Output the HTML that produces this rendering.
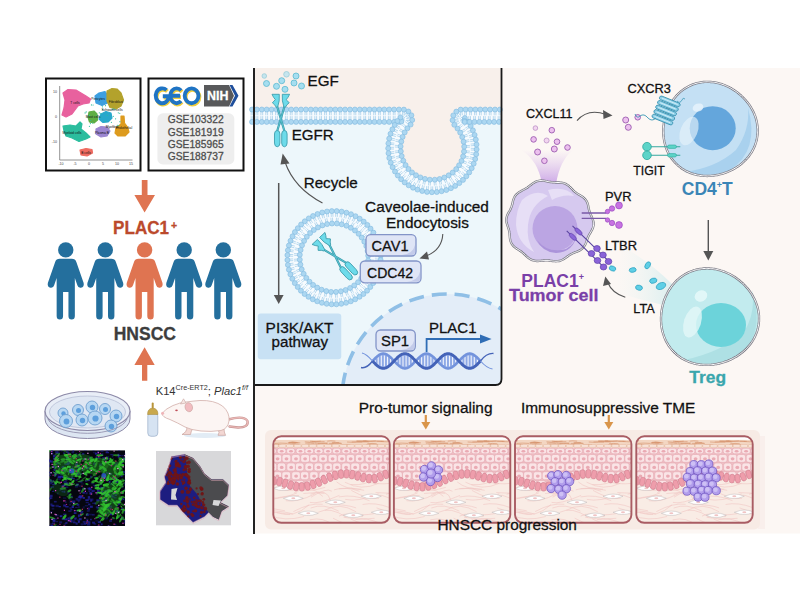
<!DOCTYPE html><html><head><meta charset="utf-8"><style>html,body{margin:0;padding:0;width:800px;height:600px;overflow:hidden;background:#fff}svg{display:block}text{font-family:"Liberation Sans",sans-serif}</style></head><body>
<svg width="800" height="600" viewBox="0 0 800 600">
<rect x="255" y="68" width="545" height="465.5" fill="#fcf7f4"/>
<path d="M255,68 H501.5 V379 Q501.5,385 495.5,385 H255 Z" fill="#edf7fb"/>
<rect x="46" y="78.5" width="94.5" height="92" fill="#fff" stroke="#111" stroke-width="2"/>
<path d="M59.7,86 V160 H132.5" fill="none" stroke="#777" stroke-width="0.8"/>
<text x="57" y="92.89999999999999" font-size="3.6" fill="#444" font-weight="normal" text-anchor="end" font-style="normal" >10</text>
<text x="57" y="117.8" font-size="3.6" fill="#444" font-weight="normal" text-anchor="end" font-style="normal" >0</text>
<text x="57" y="142.8" font-size="3.6" fill="#444" font-weight="normal" text-anchor="end" font-style="normal" >-10</text>
<text x="61" y="164.8" font-size="3.6" fill="#444" font-weight="normal" text-anchor="middle" font-style="normal" >-10</text>
<text x="75" y="164.8" font-size="3.6" fill="#444" font-weight="normal" text-anchor="middle" font-style="normal" >-5</text>
<text x="89" y="164.8" font-size="3.6" fill="#444" font-weight="normal" text-anchor="middle" font-style="normal" >0</text>
<text x="103" y="164.8" font-size="3.6" fill="#444" font-weight="normal" text-anchor="middle" font-style="normal" >5</text>
<text x="117" y="164.8" font-size="3.6" fill="#444" font-weight="normal" text-anchor="middle" font-style="normal" >10</text>
<text x="131" y="164.8" font-size="3.6" fill="#444" font-weight="normal" text-anchor="middle" font-style="normal" >15</text>
<path d="M63,93 68,89.5 76,90 81,93 86,96 90.5,99 89,103 83,104 78,106 75,110 72,114 66,117 62,115 64,108 65,100Z" fill="#e8619e" stroke="#e8619e" stroke-width="1.2" stroke-linejoin="round"/>
<path d="M95,96 99,93 105,91.5 108.5,96 107.5,103 102,105.5 96,103Z" fill="#3d9fe0" stroke="#3d9fe0" stroke-width="1.2" stroke-linejoin="round"/>
<path d="M107,91 112,88.5 117,89 121,93 123.5,100 121,106 116,109 110,107.5 107,101Z" fill="#b3a22c" stroke="#b3a22c" stroke-width="1.2" stroke-linejoin="round"/>
<path d="M89,112 94,111 97,114 97.5,120 94,123 89.5,122 88,117Z" fill="#5fae44" stroke="#5fae44" stroke-width="1.2" stroke-linejoin="round"/>
<path d="M101,114 106,111.5 111,113 112,118 108,122 103,122.5 99,119Z" fill="#28a8cc" stroke="#28a8cc" stroke-width="1.2" stroke-linejoin="round"/>
<path d="M63,126 70,125 76,126 80,122 82,124 81,129 86,133 90,137 86,139 79,141.5 72,138 66,136 64,131Z" fill="#2bbd9e" stroke="#2bbd9e" stroke-width="1.2" stroke-linejoin="round"/>
<path d="M96,129 101,126.5 107,127 110,131 107,136 101,137 96,134Z" fill="#9b86d1" stroke="#9b86d1" stroke-width="1.2" stroke-linejoin="round"/>
<path d="M121,116 124,116 124.5,123 127.5,127 129,132 125,136 118,136 115,133 116,128 121,124Z" fill="#dd9b1e" stroke="#dd9b1e" stroke-width="1.2" stroke-linejoin="round"/>
<path d="M80,150 86,148.5 92,149.5 92.5,153 87,156 81,155Z" fill="#ef6b60" stroke="#ef6b60" stroke-width="1.2" stroke-linejoin="round"/>
<g fill="#2bbd9e"><circle cx="90.8" cy="120.6" r="0.6"/><circle cx="107.2" cy="115.5" r="0.6"/><circle cx="92.6" cy="123.0" r="0.6"/><circle cx="113.3" cy="116.3" r="0.6"/><circle cx="102.7" cy="109.7" r="0.6"/><circle cx="85.1" cy="112.9" r="0.6"/><circle cx="105.5" cy="105.7" r="0.6"/><circle cx="112.8" cy="109.6" r="0.6"/><circle cx="93.1" cy="105.0" r="0.6"/><circle cx="119.9" cy="121.7" r="0.6"/><circle cx="115.6" cy="118.8" r="0.6"/><circle cx="86.2" cy="111.9" r="0.6"/><circle cx="102.4" cy="106.8" r="0.6"/><circle cx="118.3" cy="112.8" r="0.6"/><circle cx="90.4" cy="123.6" r="0.6"/><circle cx="89.4" cy="126.3" r="0.6"/><circle cx="100.9" cy="117.2" r="0.6"/><circle cx="97.0" cy="115.6" r="0.6"/><circle cx="91.5" cy="104.9" r="0.6"/><circle cx="115.3" cy="109.6" r="0.6"/><circle cx="112.3" cy="109.0" r="0.6"/><circle cx="118.9" cy="125.5" r="0.6"/><circle cx="111.4" cy="122.3" r="0.6"/><circle cx="105.3" cy="121.5" r="0.6"/><circle cx="89.3" cy="115.4" r="0.6"/><circle cx="113.9" cy="108.8" r="0.6"/><circle cx="117.3" cy="125.3" r="0.6"/><circle cx="99.3" cy="112.8" r="0.6"/><circle cx="100.8" cy="113.3" r="0.6"/><circle cx="119.8" cy="113.3" r="0.6"/></g>
<text x="75" y="104" font-size="3.3" fill="#111" font-weight="normal" text-anchor="middle" font-style="normal" >T cells</text>
<text x="98" y="100" font-size="3.3" fill="#111" font-weight="normal" text-anchor="middle" font-style="normal" >Pericytes</text>
<text x="116" y="103" font-size="3.3" fill="#111" font-weight="normal" text-anchor="middle" font-style="normal" >Fibroblast</text>
<text x="112" y="111" font-size="3.3" fill="#111" font-weight="normal" text-anchor="middle" font-style="normal" >Schwann cells</text>
<text x="93" y="118" font-size="3.3" fill="#111" font-weight="normal" text-anchor="middle" font-style="normal" >Mast cells</text>
<text x="72" y="134" font-size="3.3" fill="#111" font-weight="normal" text-anchor="middle" font-style="normal" >Myeloid cells</text>
<text x="102" y="134" font-size="3.3" fill="#111" font-weight="normal" text-anchor="middle" font-style="normal" >Plasma B</text>
<text x="112" y="128" font-size="3.3" fill="#111" font-weight="normal" text-anchor="middle" font-style="normal" >Myofibro</text>
<text x="124" y="129" font-size="3.3" fill="#111" font-weight="normal" text-anchor="middle" font-style="normal" >Endothelial</text>
<text x="86" y="154" font-size="3.3" fill="#111" font-weight="normal" text-anchor="middle" font-style="normal" >B cells</text>
<rect x="148.5" y="78.5" width="95" height="92" fill="#fff" stroke="#111" stroke-width="2"/>
<path d="M167.44,91.43 A6.6,7.4 0 1 0 169.74,98.13 M170.10,97.50 H163.70 M181.95,91.87 A6.3,7.4 0 1 0 181.95,102.33 M171.20,97.10 H181.00 M185.60,97.10 A6.9,7.4 0 1 0 199.40,97.10 A6.9,7.4 0 1 0 185.60,97.10" fill="none" stroke="#f2cf3e" stroke-width="3.9"/>
<path d="M166.54,90.13 A6.6,7.4 0 1 0 168.84,96.83 M169.20,96.20 H162.80 M181.05,90.57 A6.3,7.4 0 1 0 181.05,101.03 M170.30,95.80 H180.10 M184.70,95.80 A6.9,7.4 0 1 0 198.50,95.80 A6.9,7.4 0 1 0 184.70,95.80" fill="none" stroke="#1f74c4" stroke-width="3.9"/>
<path d="M204,85 H229 L234,95.7 L229,106.4 H204 Z" fill="#58595b"/>
<path d="M229.5,85 H232.5 L238.5,95.7 L232.5,106.4 H229.5 L235,95.7 Z" fill="#1f4f9c"/>
<text x="207" y="100.2" font-size="13.2" fill="#fff" font-weight="bold" text-anchor="start" font-style="normal" stroke="#fff" stroke-width="0.28" textLength="21.4" lengthAdjust="spacingAndGlyphs">NIH</text>
<rect x="157.4" y="113.3" width="76.9" height="51.1" rx="5.5" fill="#eeeeee"/>
<text x="167.8" y="123.2" font-size="10.2" fill="#4d4d4d" font-weight="normal" text-anchor="start" font-style="normal" stroke="#4d4d4d" stroke-width="0.28" textLength="55.8" lengthAdjust="spacingAndGlyphs">GSE103322</text>
<text x="167.8" y="135.55" font-size="10.2" fill="#4d4d4d" font-weight="normal" text-anchor="start" font-style="normal" stroke="#4d4d4d" stroke-width="0.28" textLength="55.8" lengthAdjust="spacingAndGlyphs">GSE181919</text>
<text x="167.8" y="147.9" font-size="10.2" fill="#4d4d4d" font-weight="normal" text-anchor="start" font-style="normal" stroke="#4d4d4d" stroke-width="0.28" textLength="55.8" lengthAdjust="spacingAndGlyphs">GSE185965</text>
<text x="167.8" y="160.25" font-size="10.2" fill="#4d4d4d" font-weight="normal" text-anchor="start" font-style="normal" stroke="#4d4d4d" stroke-width="0.28" textLength="55.8" lengthAdjust="spacingAndGlyphs">GSE188737</text>
<path d="M141.8,180 H147.5 V195 H155 L144.6,212.5 L134.4,195 H141.8 Z" fill="#df7451"/>
<text x="113.1" y="233.9" font-size="17.5" fill="#bb4a2c" font-weight="bold" text-anchor="start" font-style="normal" stroke="#bb4a2c" stroke-width="0.28" textLength="55.9" lengthAdjust="spacingAndGlyphs">PLAC1</text>
<text x="170.9" y="228.8" font-size="10.5" fill="#bb4a2c" font-weight="bold" text-anchor="start" font-style="normal" stroke="#bb4a2c" stroke-width="0.28" >+</text>
<path d="M59.75,258.7 H71.75 Q75.35,258.7 76.35,262 L83.65,283 Q84.45,287.2 80.95,287.8 Q78.35,288.3 77.35,285.2 L74.85,278 V316 Q74.85,319.5 71.65,319.5 Q68.45,319.5 68.45,316 V292 H63.05 V316 Q63.05,319.5 59.85,319.5 Q56.65,319.5 56.65,316 V278 L54.15,285.2 Q53.15,288.3 50.55,287.8 Q47.05,287.2 47.85,283 L55.15,262 Q56.15,258.7 59.75,258.7 Z" fill="#246f9d"/>
<circle cx="65.75" cy="249.9" r="7.7" fill="#246f9d"/>
<path d="M99.3,258.7 H111.3 Q114.89999999999999,258.7 115.89999999999999,262 L123.19999999999999,283 Q124.0,287.2 120.5,287.8 Q117.89999999999999,288.3 116.89999999999999,285.2 L114.39999999999999,278 V316 Q114.39999999999999,319.5 111.2,319.5 Q108.0,319.5 108.0,316 V292 H102.6 V316 Q102.6,319.5 99.39999999999999,319.5 Q96.2,319.5 96.2,316 V278 L93.7,285.2 Q92.7,288.3 90.1,287.8 Q86.6,287.2 87.4,283 L94.7,262 Q95.7,258.7 99.3,258.7 Z" fill="#246f9d"/>
<circle cx="105.3" cy="249.9" r="7.7" fill="#246f9d"/>
<path d="M138.6,258.7 H150.6 Q154.2,258.7 155.2,262 L162.5,283 Q163.29999999999998,287.2 159.79999999999998,287.8 Q157.2,288.3 156.2,285.2 L153.7,278 V316 Q153.7,319.5 150.5,319.5 Q147.29999999999998,319.5 147.29999999999998,316 V292 H141.9 V316 Q141.9,319.5 138.7,319.5 Q135.5,319.5 135.5,316 V278 L133.0,285.2 Q132.0,288.3 129.4,287.8 Q125.89999999999999,287.2 126.69999999999999,283 L134.0,262 Q135.0,258.7 138.6,258.7 Z" fill="#df7451"/>
<circle cx="144.6" cy="249.9" r="7.7" fill="#df7451"/>
<path d="M178.2,258.7 H190.2 Q193.79999999999998,258.7 194.79999999999998,262 L202.1,283 Q202.89999999999998,287.2 199.39999999999998,287.8 Q196.79999999999998,288.3 195.79999999999998,285.2 L193.29999999999998,278 V316 Q193.29999999999998,319.5 190.1,319.5 Q186.89999999999998,319.5 186.89999999999998,316 V292 H181.5 V316 Q181.5,319.5 178.29999999999998,319.5 Q175.1,319.5 175.1,316 V278 L172.6,285.2 Q171.6,288.3 169.0,287.8 Q165.5,287.2 166.29999999999998,283 L173.6,262 Q174.6,258.7 178.2,258.7 Z" fill="#246f9d"/>
<circle cx="184.2" cy="249.9" r="7.7" fill="#246f9d"/>
<path d="M217.3,258.7 H229.3 Q232.9,258.7 233.9,262 L241.20000000000002,283 Q242.0,287.2 238.5,287.8 Q235.9,288.3 234.9,285.2 L232.4,278 V316 Q232.4,319.5 229.20000000000002,319.5 Q226.0,319.5 226.0,316 V292 H220.60000000000002 V316 Q220.60000000000002,319.5 217.4,319.5 Q214.20000000000002,319.5 214.20000000000002,316 V278 L211.70000000000002,285.2 Q210.70000000000002,288.3 208.10000000000002,287.8 Q204.60000000000002,287.2 205.4,283 L212.70000000000002,262 Q213.70000000000002,258.7 217.3,258.7 Z" fill="#246f9d"/>
<circle cx="223.3" cy="249.9" r="7.7" fill="#246f9d"/>
<text x="113.7" y="340" font-size="17.5" fill="#3d3d3d" font-weight="bold" text-anchor="start" font-style="normal" stroke="#3d3d3d" stroke-width="0.28" textLength="62.3" lengthAdjust="spacingAndGlyphs">HNSCC</text>
<path d="M142,380.7 H147.3 V365 H154.7 L144.6,347.3 L134.4,365 H142 Z" fill="#df7451"/>
<text x="155.7" y="394.5" font-size="11.2" fill="#333">K14<tspan font-size="7.2" dy="-5">Cre-ERT2</tspan><tspan dy="5">; </tspan><tspan font-style="italic">Plac1</tspan><tspan font-size="7.2" dy="-5" font-style="italic">f/f</tspan></text>
<g><path d="M45,411 V419 A42.5,19.5 0 0 0 130,419 V411" fill="#dde6f2" stroke="#8d8aa8" stroke-width="1"/><ellipse cx="87.5" cy="411" rx="42.5" ry="19.5" fill="#e9eef7" stroke="#8d8aa8" stroke-width="1.2"/><ellipse cx="87.5" cy="412" rx="38" ry="16" fill="#dfe7f3" stroke="#b8bfd6" stroke-width="0.8"/></g>
<circle cx="63" cy="413" r="5" fill="#b7d7f2" stroke="#6f9fcf" stroke-width="0.9"/><circle cx="63.5" cy="413.5" r="2.2" fill="#5d9fdc"/>
<circle cx="66" cy="421" r="6.5" fill="#b7d7f2" stroke="#6f9fcf" stroke-width="0.9"/><circle cx="66.5" cy="421.5" r="2.9" fill="#5d9fdc"/>
<circle cx="78" cy="410" r="5.5" fill="#b7d7f2" stroke="#6f9fcf" stroke-width="0.9"/><circle cx="78.5" cy="410.5" r="2.5" fill="#5d9fdc"/>
<circle cx="92" cy="407" r="6" fill="#b7d7f2" stroke="#6f9fcf" stroke-width="0.9"/><circle cx="92.5" cy="407.5" r="2.7" fill="#5d9fdc"/>
<circle cx="105" cy="409" r="5.5" fill="#b7d7f2" stroke="#6f9fcf" stroke-width="0.9"/><circle cx="105.5" cy="409.5" r="2.5" fill="#5d9fdc"/>
<circle cx="82" cy="420" r="6" fill="#b7d7f2" stroke="#6f9fcf" stroke-width="0.9"/><circle cx="82.5" cy="420.5" r="2.7" fill="#5d9fdc"/>
<circle cx="95" cy="418" r="7" fill="#b7d7f2" stroke="#6f9fcf" stroke-width="0.9"/><circle cx="95.5" cy="418.5" r="3.1" fill="#5d9fdc"/>
<circle cx="116" cy="416" r="6" fill="#b7d7f2" stroke="#6f9fcf" stroke-width="0.9"/><circle cx="116.5" cy="416.5" r="2.7" fill="#5d9fdc"/>
<circle cx="111" cy="426" r="6" fill="#b7d7f2" stroke="#6f9fcf" stroke-width="0.9"/><circle cx="111.5" cy="426.5" r="2.7" fill="#5d9fdc"/>
<path d="M48,419 A40,17 0 0 0 127,419" fill="none" stroke="#8d8aa8" stroke-width="0.8"/>
<path d="M147.8,416 Q147.8,413.5 150,413.5 H155.5 Q157.8,413.5 157.8,416 V433 Q157.8,436.3 154.5,436.3 H151 Q147.8,436.3 147.8,433 Z" fill="#d6e3f2" stroke="#9aadc9" stroke-width="0.7"/><path d="M147.5,414.5 Q147.5,408.5 152.7,408 Q158,408.5 158,414.5 Z" fill="#c9a84c" stroke="#a38536" stroke-width="0.5"/><rect x="151.7" y="402.5" width="2" height="6" rx="1" fill="#b8943a"/>
<path d="M228,419.5 Q244,415 247.5,421 Q249,427.5 238,427.5 L229.5,426.5" fill="none" stroke="#c99593" stroke-width="2.4" stroke-linecap="round"/>
<path d="M228,419.5 Q244,415 247.5,421 Q249,427.5 238,427.5 L229.5,426.5" fill="none" stroke="#ebbab8" stroke-width="1.2" stroke-linecap="round"/>
<ellipse cx="205" cy="435.5" rx="21" ry="2.6" fill="#e2ecf5"/>
<path d="M187,427 Q187,432 182,434.5 H190.5 Q191,431 193,428 M218,429 Q220,433 218,435.3 H225.5 Q224,432 224,429" fill="#f3d7d3" stroke="#c9a39e" stroke-width="0.7"/>
<path d="M162,413.5 Q165,409 173,405.5 Q180,402.5 186,402 Q193,401 200,400.5 Q214,400 222.5,406 Q230,412.5 229,421 Q228,428.5 221,430.5 Q211,432 201,431 Q191,430 185,427 Q178,423 170,419.5 Q162,417 162,413.5 Z" fill="#fcf5f3" stroke="#cfa9a4" stroke-width="0.75"/>
<path d="M180.5,404 L183.5,398.8 L186,403 Z" fill="#f6e6e3" stroke="#c9a49f" stroke-width="0.6"/>
<ellipse cx="188.8" cy="407.2" rx="3.7" ry="4.6" transform="rotate(-15 188.8 407.2)" fill="#f2bcc0" stroke="#c9a49f" stroke-width="0.6"/>
<ellipse cx="176.5" cy="410.3" rx="1.3" ry="0.9" fill="#c0505a"/>
<circle cx="162.6" cy="413.2" r="1.5" fill="#f0b4b8"/>
<defs><clipPath id="flclip"><rect x="49.2" y="450.2" width="75.9" height="75.9"/></clipPath><clipPath id="spclip"><path d="M171.5,456.5 L184.4,454.3 L193,457.9 L200.2,466.5 L204.5,473.7 L211.6,479.4 L223,479.4 L228.8,485.1 L227.4,495.2 L220.2,502.3 L228.8,506.6 L221.7,510.9 L218.8,519.5 L213,516.7 L208.8,512.4 L204.5,516.7 L193,522.4 L184.4,513.8 L177.2,505.2 L168.6,505.2 L160,499.5 L160,490.9 L165.8,482.3 L164.3,476.5 L168.6,466.5 Z"/></clipPath></defs>
<g clip-path="url(#flclip)"><rect x="49.2" y="450.2" width="75.9" height="75.9" fill="#05060f"/>
<rect x="82.5" y="491.9" width="2.4" height="1.8" fill="#2424a8" opacity="0.81"/><rect x="93.0" y="462.6" width="2.8" height="2.2" fill="#2424a8" opacity="0.58"/><rect x="54.5" y="471.9" width="3.1" height="2.0" fill="#2424a8" opacity="0.35"/><rect x="50.5" y="524.8" width="2.8" height="1.9" fill="#2424a8" opacity="0.83"/><rect x="59.5" y="449.4" width="1.6" height="1.3" fill="#2424a8" opacity="0.59"/><rect x="66.1" y="450.5" width="2.4" height="2.3" fill="#2424a8" opacity="0.56"/><rect x="87.7" y="498.1" width="2.8" height="1.7" fill="#2424a8" opacity="0.57"/><rect x="68.9" y="526.0" width="3.2" height="2.1" fill="#2424a8" opacity="0.85"/><rect x="71.8" y="466.1" width="1.6" height="2.1" fill="#2424a8" opacity="0.46"/><rect x="78.4" y="514.2" width="3.4" height="2.3" fill="#2424a8" opacity="0.51"/><rect x="47.2" y="464.6" width="2.4" height="2.5" fill="#2424a8" opacity="0.80"/><rect x="78.2" y="453.9" width="3.1" height="1.4" fill="#2424a8" opacity="0.65"/><rect x="54.0" y="474.1" width="3.0" height="1.2" fill="#2424a8" opacity="0.83"/><rect x="66.4" y="456.1" width="3.1" height="1.3" fill="#2424a8" opacity="0.33"/><rect x="90.8" y="483.1" width="3.0" height="1.2" fill="#2424a8" opacity="0.40"/><rect x="97.4" y="457.3" width="1.9" height="1.4" fill="#2424a8" opacity="0.53"/><rect x="122.9" y="510.9" width="3.3" height="1.3" fill="#2424a8" opacity="0.47"/><rect x="78.0" y="514.8" width="1.7" height="2.5" fill="#2424a8" opacity="0.65"/><rect x="63.8" y="468.3" width="2.2" height="1.4" fill="#2424a8" opacity="0.72"/><rect x="52.9" y="455.2" width="2.0" height="1.9" fill="#2424a8" opacity="0.62"/><rect x="76.2" y="483.6" width="2.5" height="1.9" fill="#2424a8" opacity="0.83"/><rect x="114.8" y="462.5" width="3.3" height="2.2" fill="#2424a8" opacity="0.38"/><rect x="66.7" y="463.0" width="3.4" height="1.3" fill="#2424a8" opacity="0.71"/><rect x="121.3" y="517.0" width="2.3" height="1.2" fill="#2424a8" opacity="0.63"/><rect x="50.2" y="523.3" width="2.9" height="1.4" fill="#2424a8" opacity="0.43"/><rect x="111.4" y="494.7" width="1.9" height="2.1" fill="#2424a8" opacity="0.46"/><rect x="52.6" y="466.0" width="3.2" height="1.9" fill="#2424a8" opacity="0.61"/><rect x="69.1" y="519.8" width="1.5" height="1.4" fill="#2424a8" opacity="0.41"/><rect x="82.0" y="452.9" width="2.2" height="1.9" fill="#2424a8" opacity="0.40"/><rect x="57.5" y="476.4" width="3.5" height="2.0" fill="#2424a8" opacity="0.79"/><rect x="101.1" y="493.8" width="1.6" height="1.0" fill="#2424a8" opacity="0.38"/><rect x="118.2" y="502.9" width="1.5" height="2.0" fill="#2424a8" opacity="0.83"/><rect x="84.8" y="505.2" width="3.5" height="1.1" fill="#2424a8" opacity="0.48"/><rect x="89.8" y="505.7" width="3.0" height="2.1" fill="#2424a8" opacity="0.80"/><rect x="109.1" y="519.6" width="2.9" height="2.4" fill="#2424a8" opacity="0.49"/><rect x="115.1" y="480.7" width="3.2" height="1.9" fill="#2424a8" opacity="0.73"/><rect x="95.9" y="478.0" width="2.7" height="1.1" fill="#2424a8" opacity="0.62"/><rect x="97.1" y="525.7" width="3.0" height="1.6" fill="#2424a8" opacity="0.78"/><rect x="104.5" y="493.5" width="3.2" height="1.1" fill="#2424a8" opacity="0.54"/><rect x="105.7" y="450.5" width="2.5" height="1.3" fill="#2424a8" opacity="0.63"/><rect x="101.7" y="487.0" width="3.3" height="1.4" fill="#2424a8" opacity="0.64"/><rect x="48.1" y="471.7" width="1.9" height="1.3" fill="#2424a8" opacity="0.67"/><rect x="117.8" y="499.7" width="3.3" height="1.5" fill="#2424a8" opacity="0.54"/><rect x="99.1" y="463.7" width="3.1" height="2.4" fill="#2424a8" opacity="0.54"/><rect x="115.9" y="478.2" width="2.1" height="1.2" fill="#2424a8" opacity="0.62"/><rect x="85.9" y="513.5" width="2.9" height="2.4" fill="#2424a8" opacity="0.77"/><rect x="68.8" y="461.4" width="2.1" height="1.3" fill="#2424a8" opacity="0.55"/><rect x="79.5" y="497.0" width="2.1" height="2.3" fill="#2424a8" opacity="0.57"/><rect x="123.8" y="483.5" width="1.6" height="2.3" fill="#2424a8" opacity="0.34"/><rect x="50.4" y="503.5" width="2.1" height="2.2" fill="#2424a8" opacity="0.61"/><rect x="48.7" y="458.8" width="1.5" height="2.2" fill="#2424a8" opacity="0.55"/><rect x="65.7" y="459.2" width="2.8" height="1.7" fill="#2424a8" opacity="0.33"/><rect x="96.3" y="499.3" width="3.4" height="2.0" fill="#2424a8" opacity="0.74"/><rect x="62.7" y="485.3" width="1.5" height="1.7" fill="#2424a8" opacity="0.40"/><rect x="102.9" y="462.2" width="2.2" height="2.0" fill="#2424a8" opacity="0.45"/><rect x="87.8" y="496.1" width="2.3" height="2.2" fill="#2424a8" opacity="0.72"/><rect x="117.9" y="455.0" width="2.9" height="1.2" fill="#2424a8" opacity="0.81"/><rect x="82.6" y="497.0" width="2.3" height="1.9" fill="#2424a8" opacity="0.80"/><rect x="115.8" y="510.3" width="2.4" height="2.0" fill="#2424a8" opacity="0.82"/><rect x="63.2" y="504.5" width="2.8" height="2.1" fill="#2424a8" opacity="0.75"/><rect x="63.8" y="518.4" width="3.5" height="1.8" fill="#2424a8" opacity="0.84"/><rect x="108.9" y="473.2" width="3.2" height="1.5" fill="#2424a8" opacity="0.80"/><rect x="53.7" y="482.6" width="3.0" height="1.7" fill="#2424a8" opacity="0.60"/><rect x="49.4" y="511.3" width="3.1" height="1.3" fill="#2424a8" opacity="0.34"/><rect x="73.3" y="509.7" width="1.8" height="1.8" fill="#2424a8" opacity="0.38"/><rect x="103.6" y="513.7" width="3.4" height="1.7" fill="#2424a8" opacity="0.68"/><rect x="121.2" y="454.9" width="2.6" height="1.4" fill="#2424a8" opacity="0.42"/><rect x="104.0" y="498.0" width="3.2" height="1.8" fill="#2424a8" opacity="0.59"/><rect x="71.5" y="477.9" width="3.3" height="1.3" fill="#2424a8" opacity="0.76"/><rect x="113.6" y="523.7" width="2.6" height="1.3" fill="#2424a8" opacity="0.59"/><rect x="89.0" y="487.4" width="1.6" height="2.5" fill="#2424a8" opacity="0.63"/><rect x="87.4" y="479.4" width="2.6" height="1.7" fill="#2424a8" opacity="0.74"/><rect x="101.1" y="453.3" width="2.3" height="2.4" fill="#2424a8" opacity="0.60"/><rect x="119.2" y="469.2" width="1.8" height="1.7" fill="#2424a8" opacity="0.56"/><rect x="110.8" y="518.4" width="2.1" height="1.3" fill="#2424a8" opacity="0.56"/><rect x="95.4" y="520.4" width="3.1" height="1.0" fill="#2424a8" opacity="0.37"/><rect x="62.3" y="465.9" width="2.1" height="1.5" fill="#2424a8" opacity="0.68"/><rect x="95.5" y="456.4" width="1.7" height="1.8" fill="#2424a8" opacity="0.70"/><rect x="66.7" y="463.6" width="2.4" height="1.6" fill="#2424a8" opacity="0.59"/><rect x="79.4" y="489.5" width="1.9" height="1.9" fill="#2424a8" opacity="0.39"/><rect x="97.0" y="489.5" width="2.7" height="2.3" fill="#2424a8" opacity="0.77"/><rect x="65.3" y="506.0" width="3.3" height="1.5" fill="#2424a8" opacity="0.75"/><rect x="71.8" y="520.2" width="3.5" height="2.3" fill="#2424a8" opacity="0.42"/><rect x="57.6" y="466.9" width="2.0" height="1.1" fill="#2424a8" opacity="0.70"/><rect x="112.1" y="481.1" width="1.8" height="1.6" fill="#2424a8" opacity="0.73"/><rect x="100.6" y="449.6" width="2.9" height="2.4" fill="#2424a8" opacity="0.41"/><rect x="122.7" y="457.2" width="3.0" height="1.8" fill="#2424a8" opacity="0.58"/><rect x="100.7" y="462.9" width="1.7" height="1.1" fill="#2424a8" opacity="0.34"/><rect x="90.2" y="488.4" width="1.8" height="1.3" fill="#2424a8" opacity="0.61"/><rect x="63.1" y="513.7" width="3.4" height="1.1" fill="#2424a8" opacity="0.84"/><rect x="52.0" y="522.4" width="3.0" height="1.5" fill="#2424a8" opacity="0.55"/><rect x="83.6" y="488.4" width="2.7" height="1.0" fill="#2424a8" opacity="0.54"/><rect x="101.9" y="514.1" width="2.4" height="2.1" fill="#2424a8" opacity="0.40"/><rect x="78.8" y="463.4" width="2.5" height="1.0" fill="#2424a8" opacity="0.39"/><rect x="116.9" y="510.7" width="3.2" height="1.9" fill="#2424a8" opacity="0.69"/><rect x="78.8" y="495.0" width="3.5" height="2.2" fill="#2424a8" opacity="0.58"/><rect x="67.3" y="519.3" width="3.1" height="2.2" fill="#2424a8" opacity="0.71"/><rect x="78.8" y="518.1" width="2.9" height="2.2" fill="#2424a8" opacity="0.78"/><rect x="106.9" y="479.8" width="1.6" height="1.5" fill="#2424a8" opacity="0.70"/><rect x="83.8" y="449.0" width="2.8" height="1.9" fill="#2424a8" opacity="0.50"/><rect x="65.3" y="521.9" width="2.2" height="2.0" fill="#2424a8" opacity="0.67"/><rect x="91.6" y="489.8" width="3.5" height="2.0" fill="#2424a8" opacity="0.51"/><rect x="101.9" y="507.6" width="1.5" height="1.9" fill="#2424a8" opacity="0.84"/><rect x="104.8" y="468.2" width="1.6" height="1.3" fill="#2424a8" opacity="0.52"/><rect x="76.5" y="455.9" width="3.3" height="1.8" fill="#2424a8" opacity="0.44"/><rect x="86.8" y="523.6" width="3.5" height="2.0" fill="#2424a8" opacity="0.61"/><rect x="110.3" y="454.1" width="3.0" height="1.1" fill="#2424a8" opacity="0.63"/><rect x="119.8" y="460.7" width="1.8" height="1.7" fill="#2424a8" opacity="0.56"/><rect x="94.9" y="452.8" width="2.3" height="1.8" fill="#2424a8" opacity="0.82"/><rect x="93.8" y="476.7" width="2.8" height="1.8" fill="#2424a8" opacity="0.46"/><rect x="69.3" y="504.1" width="1.5" height="1.4" fill="#2424a8" opacity="0.46"/><rect x="50.5" y="460.4" width="2.3" height="2.3" fill="#2424a8" opacity="0.72"/><rect x="105.6" y="452.1" width="3.4" height="1.1" fill="#2424a8" opacity="0.84"/><rect x="117.8" y="481.7" width="3.4" height="1.4" fill="#2424a8" opacity="0.56"/><rect x="88.0" y="521.3" width="2.4" height="2.5" fill="#2424a8" opacity="0.70"/><rect x="110.9" y="495.3" width="2.7" height="1.7" fill="#2424a8" opacity="0.36"/><rect x="63.1" y="452.3" width="1.7" height="1.7" fill="#2424a8" opacity="0.59"/><rect x="99.3" y="483.7" width="2.7" height="1.6" fill="#2424a8" opacity="0.44"/><rect x="107.9" y="489.6" width="3.4" height="2.1" fill="#2424a8" opacity="0.85"/><rect x="65.8" y="457.1" width="3.1" height="1.9" fill="#2424a8" opacity="0.79"/><rect x="75.2" y="469.4" width="2.6" height="1.9" fill="#2424a8" opacity="0.68"/><rect x="96.6" y="507.0" width="2.0" height="2.5" fill="#2424a8" opacity="0.40"/><rect x="118.6" y="516.7" width="1.6" height="1.4" fill="#2424a8" opacity="0.32"/><rect x="80.4" y="496.8" width="2.6" height="1.1" fill="#2424a8" opacity="0.36"/><rect x="53.9" y="500.9" width="2.8" height="1.6" fill="#2424a8" opacity="0.60"/><rect x="84.5" y="464.6" width="3.0" height="2.3" fill="#2424a8" opacity="0.49"/><rect x="53.0" y="457.5" width="2.7" height="2.2" fill="#2424a8" opacity="0.75"/><rect x="63.8" y="481.3" width="3.1" height="1.6" fill="#2424a8" opacity="0.44"/><rect x="98.2" y="525.4" width="2.6" height="2.1" fill="#2424a8" opacity="0.48"/><rect x="119.0" y="481.6" width="1.7" height="2.3" fill="#2424a8" opacity="0.50"/><rect x="53.3" y="454.7" width="2.5" height="2.0" fill="#2424a8" opacity="0.61"/><rect x="70.5" y="508.7" width="1.9" height="2.0" fill="#2424a8" opacity="0.34"/><rect x="53.6" y="471.9" width="2.9" height="1.4" fill="#2424a8" opacity="0.70"/><rect x="58.3" y="476.1" width="2.2" height="1.2" fill="#2424a8" opacity="0.70"/><rect x="102.5" y="492.6" width="3.4" height="2.4" fill="#2424a8" opacity="0.81"/><rect x="81.4" y="510.8" width="2.1" height="1.6" fill="#2424a8" opacity="0.47"/><rect x="120.1" y="518.0" width="2.2" height="1.5" fill="#2424a8" opacity="0.44"/><rect x="75.5" y="479.1" width="1.9" height="1.8" fill="#2424a8" opacity="0.51"/><rect x="109.4" y="490.4" width="2.6" height="1.3" fill="#2424a8" opacity="0.76"/><rect x="106.4" y="516.9" width="1.5" height="1.8" fill="#2424a8" opacity="0.45"/><rect x="89.6" y="492.5" width="2.8" height="2.2" fill="#2424a8" opacity="0.83"/><rect x="52.2" y="490.9" width="1.7" height="1.1" fill="#2424a8" opacity="0.73"/><rect x="104.7" y="518.3" width="2.8" height="1.2" fill="#2424a8" opacity="0.35"/><rect x="105.4" y="498.8" width="1.9" height="2.1" fill="#2424a8" opacity="0.43"/><rect x="87.9" y="507.8" width="2.2" height="2.5" fill="#2424a8" opacity="0.52"/><rect x="99.6" y="486.7" width="2.9" height="2.1" fill="#2424a8" opacity="0.60"/><rect x="118.6" y="480.2" width="2.8" height="2.3" fill="#2424a8" opacity="0.75"/><rect x="110.1" y="513.2" width="3.4" height="2.0" fill="#2424a8" opacity="0.79"/><rect x="88.1" y="503.6" width="2.3" height="1.6" fill="#2424a8" opacity="0.74"/><rect x="58.6" y="506.0" width="2.3" height="1.3" fill="#2424a8" opacity="0.85"/><rect x="63.1" y="481.3" width="3.4" height="1.1" fill="#2424a8" opacity="0.46"/><rect x="71.3" y="457.2" width="3.1" height="1.3" fill="#2424a8" opacity="0.66"/><rect x="52.1" y="484.0" width="3.3" height="1.1" fill="#2424a8" opacity="0.62"/><rect x="55.7" y="462.6" width="2.0" height="2.1" fill="#2424a8" opacity="0.42"/><rect x="93.6" y="465.7" width="2.1" height="1.3" fill="#2424a8" opacity="0.40"/><rect x="106.3" y="472.5" width="3.1" height="1.7" fill="#2424a8" opacity="0.60"/><rect x="67.5" y="517.4" width="2.2" height="1.8" fill="#2424a8" opacity="0.80"/><rect x="121.8" y="485.8" width="1.6" height="2.4" fill="#2424a8" opacity="0.42"/><rect x="109.7" y="478.2" width="2.5" height="1.4" fill="#2424a8" opacity="0.59"/><rect x="124.4" y="499.5" width="1.5" height="1.7" fill="#2424a8" opacity="0.43"/><rect x="76.2" y="510.3" width="2.7" height="1.2" fill="#2424a8" opacity="0.69"/><rect x="59.4" y="473.3" width="3.2" height="1.8" fill="#2424a8" opacity="0.44"/><rect x="96.9" y="525.7" width="2.6" height="1.2" fill="#2424a8" opacity="0.45"/><rect x="107.3" y="448.3" width="3.2" height="2.2" fill="#2424a8" opacity="0.75"/><rect x="53.6" y="469.3" width="1.7" height="1.7" fill="#2424a8" opacity="0.69"/><rect x="83.8" y="522.7" width="3.2" height="1.5" fill="#2424a8" opacity="0.62"/><rect x="108.8" y="480.7" width="1.7" height="2.2" fill="#2424a8" opacity="0.80"/><rect x="63.5" y="490.6" width="1.8" height="2.2" fill="#2424a8" opacity="0.59"/><rect x="71.5" y="472.4" width="2.1" height="1.7" fill="#2424a8" opacity="0.34"/><rect x="103.0" y="476.3" width="1.7" height="1.6" fill="#2424a8" opacity="0.68"/><rect x="83.2" y="523.6" width="2.8" height="1.0" fill="#2424a8" opacity="0.76"/><rect x="76.6" y="503.6" width="2.6" height="1.7" fill="#2424a8" opacity="0.43"/><rect x="48.0" y="525.5" width="1.9" height="1.9" fill="#2424a8" opacity="0.74"/><rect x="69.9" y="477.5" width="2.1" height="1.5" fill="#2424a8" opacity="0.60"/><rect x="77.8" y="500.2" width="1.9" height="2.1" fill="#2424a8" opacity="0.44"/><rect x="72.9" y="521.9" width="2.9" height="1.5" fill="#2424a8" opacity="0.61"/><rect x="111.7" y="455.4" width="1.7" height="2.0" fill="#2424a8" opacity="0.38"/><rect x="102.4" y="462.2" width="3.2" height="1.9" fill="#2424a8" opacity="0.52"/><rect x="54.2" y="465.9" width="1.7" height="1.6" fill="#2424a8" opacity="0.39"/><rect x="52.9" y="520.0" width="2.5" height="2.0" fill="#2424a8" opacity="0.53"/><rect x="107.0" y="512.2" width="2.2" height="1.6" fill="#2424a8" opacity="0.51"/><rect x="48.4" y="479.5" width="3.5" height="2.2" fill="#2424a8" opacity="0.68"/><rect x="98.7" y="495.7" width="2.2" height="1.5" fill="#2424a8" opacity="0.31"/><rect x="98.0" y="456.5" width="2.5" height="2.2" fill="#2424a8" opacity="0.51"/><rect x="111.6" y="495.9" width="3.0" height="2.4" fill="#2424a8" opacity="0.39"/><rect x="90.0" y="475.7" width="1.8" height="2.1" fill="#2424a8" opacity="0.58"/><rect x="124.2" y="488.5" width="3.2" height="1.3" fill="#2424a8" opacity="0.69"/><rect x="120.9" y="497.1" width="1.7" height="1.4" fill="#2424a8" opacity="0.41"/><rect x="92.2" y="502.6" width="3.4" height="1.5" fill="#2424a8" opacity="0.48"/><rect x="83.3" y="457.9" width="1.8" height="2.4" fill="#2424a8" opacity="0.84"/><rect x="89.6" y="491.9" width="2.0" height="2.4" fill="#2424a8" opacity="0.61"/><rect x="124.6" y="512.0" width="1.7" height="2.2" fill="#2424a8" opacity="0.63"/><rect x="69.7" y="518.2" width="2.6" height="2.2" fill="#2424a8" opacity="0.43"/><rect x="61.7" y="490.9" width="1.6" height="1.3" fill="#2424a8" opacity="0.34"/><rect x="124.2" y="521.5" width="2.1" height="2.0" fill="#2424a8" opacity="0.66"/><rect x="104.7" y="478.0" width="3.1" height="1.0" fill="#2424a8" opacity="0.63"/><rect x="62.8" y="484.7" width="2.3" height="1.9" fill="#2424a8" opacity="0.38"/><rect x="60.7" y="488.7" width="2.6" height="1.5" fill="#2424a8" opacity="0.45"/><rect x="97.3" y="451.2" width="1.8" height="2.4" fill="#2424a8" opacity="0.67"/><rect x="94.0" y="484.9" width="2.7" height="2.0" fill="#2424a8" opacity="0.53"/><rect x="106.3" y="506.8" width="3.5" height="2.3" fill="#2424a8" opacity="0.57"/><rect x="113.9" y="480.1" width="2.6" height="2.4" fill="#2424a8" opacity="0.54"/><rect x="88.2" y="489.2" width="3.3" height="1.5" fill="#2424a8" opacity="0.54"/><rect x="51.5" y="504.8" width="3.0" height="1.9" fill="#2424a8" opacity="0.80"/><rect x="105.8" y="472.0" width="1.6" height="1.2" fill="#2424a8" opacity="0.63"/><rect x="82.1" y="487.4" width="1.6" height="2.0" fill="#2424a8" opacity="0.52"/><rect x="88.2" y="466.9" width="2.3" height="1.4" fill="#2424a8" opacity="0.47"/><rect x="52.5" y="519.3" width="2.8" height="2.3" fill="#2424a8" opacity="0.83"/><rect x="80.1" y="511.0" width="3.0" height="1.9" fill="#2424a8" opacity="0.42"/><rect x="117.7" y="455.9" width="1.7" height="1.8" fill="#2424a8" opacity="0.74"/><rect x="121.4" y="448.2" width="2.1" height="1.5" fill="#2424a8" opacity="0.43"/><rect x="52.1" y="518.0" width="2.3" height="1.5" fill="#2424a8" opacity="0.75"/><rect x="92.9" y="451.8" width="3.3" height="1.5" fill="#2424a8" opacity="0.32"/><rect x="86.1" y="521.0" width="2.4" height="1.3" fill="#2424a8" opacity="0.84"/><rect x="70.2" y="520.2" width="1.9" height="2.3" fill="#2424a8" opacity="0.79"/><rect x="74.8" y="485.1" width="3.3" height="2.5" fill="#2424a8" opacity="0.39"/><rect x="63.0" y="497.5" width="3.3" height="1.1" fill="#2424a8" opacity="0.41"/><rect x="55.5" y="504.8" width="3.3" height="2.3" fill="#2424a8" opacity="0.47"/><rect x="102.8" y="458.7" width="3.4" height="1.7" fill="#2424a8" opacity="0.68"/><rect x="53.4" y="465.6" width="2.9" height="1.3" fill="#2424a8" opacity="0.47"/><rect x="61.3" y="466.6" width="3.1" height="1.6" fill="#2424a8" opacity="0.67"/><rect x="98.8" y="517.2" width="2.0" height="1.5" fill="#2424a8" opacity="0.62"/><rect x="119.5" y="500.2" width="2.8" height="1.1" fill="#2424a8" opacity="0.45"/><rect x="123.9" y="482.5" width="2.6" height="1.1" fill="#2424a8" opacity="0.59"/><rect x="94.0" y="470.4" width="3.1" height="1.1" fill="#2424a8" opacity="0.44"/><rect x="69.4" y="507.1" width="2.1" height="1.8" fill="#2424a8" opacity="0.44"/><rect x="61.7" y="518.2" width="1.6" height="1.7" fill="#2424a8" opacity="0.84"/><rect x="105.7" y="478.2" width="2.5" height="1.3" fill="#2424a8" opacity="0.81"/><rect x="90.6" y="498.5" width="2.8" height="2.2" fill="#2424a8" opacity="0.50"/><rect x="87.5" y="487.6" width="2.9" height="1.8" fill="#2424a8" opacity="0.76"/><rect x="121.4" y="461.8" width="1.8" height="1.9" fill="#2424a8" opacity="0.73"/><rect x="65.6" y="482.6" width="3.1" height="2.2" fill="#2424a8" opacity="0.73"/><rect x="65.6" y="486.4" width="2.7" height="1.7" fill="#2424a8" opacity="0.42"/><rect x="50.0" y="494.8" width="2.6" height="2.3" fill="#2424a8" opacity="0.69"/><rect x="61.2" y="460.0" width="2.5" height="1.7" fill="#2424a8" opacity="0.31"/><rect x="81.7" y="468.7" width="1.6" height="2.4" fill="#2424a8" opacity="0.74"/><rect x="91.6" y="490.6" width="2.0" height="1.2" fill="#2424a8" opacity="0.74"/><rect x="71.5" y="451.5" width="2.7" height="1.8" fill="#2424a8" opacity="0.47"/><rect x="67.8" y="494.1" width="3.1" height="1.3" fill="#2424a8" opacity="0.35"/><rect x="67.1" y="460.7" width="3.2" height="2.2" fill="#2424a8" opacity="0.68"/><rect x="52.0" y="480.2" width="1.9" height="2.5" fill="#2424a8" opacity="0.50"/><rect x="50.5" y="486.4" width="3.5" height="1.2" fill="#2424a8" opacity="0.72"/><rect x="82.7" y="506.3" width="2.0" height="2.3" fill="#2424a8" opacity="0.32"/><rect x="58.2" y="478.8" width="2.3" height="1.1" fill="#2424a8" opacity="0.46"/><rect x="49.9" y="525.9" width="3.0" height="1.3" fill="#2424a8" opacity="0.72"/><rect x="67.0" y="491.2" width="2.4" height="2.4" fill="#2424a8" opacity="0.43"/><rect x="75.6" y="474.5" width="2.7" height="1.1" fill="#2424a8" opacity="0.84"/><rect x="78.6" y="498.9" width="2.2" height="2.0" fill="#2424a8" opacity="0.33"/><rect x="114.6" y="494.3" width="2.4" height="1.6" fill="#2424a8" opacity="0.79"/><rect x="113.0" y="477.9" width="1.9" height="1.5" fill="#2424a8" opacity="0.73"/><rect x="61.5" y="491.1" width="1.9" height="1.3" fill="#2424a8" opacity="0.39"/><rect x="83.7" y="472.3" width="3.5" height="2.0" fill="#2424a8" opacity="0.55"/><rect x="114.5" y="464.2" width="1.6" height="2.0" fill="#2424a8" opacity="0.51"/><rect x="75.5" y="469.6" width="1.9" height="1.4" fill="#2424a8" opacity="0.31"/><rect x="77.9" y="520.2" width="2.0" height="1.5" fill="#2424a8" opacity="0.69"/><rect x="59.2" y="521.3" width="3.0" height="2.1" fill="#2424a8" opacity="0.50"/><rect x="118.0" y="449.8" width="2.3" height="1.1" fill="#2424a8" opacity="0.48"/><rect x="116.0" y="473.6" width="2.5" height="1.1" fill="#2424a8" opacity="0.72"/><rect x="77.9" y="466.8" width="1.8" height="1.9" fill="#2424a8" opacity="0.32"/><rect x="49.7" y="472.6" width="2.6" height="1.2" fill="#2424a8" opacity="0.53"/><rect x="102.3" y="468.5" width="2.8" height="1.2" fill="#2424a8" opacity="0.70"/><rect x="63.2" y="470.1" width="2.3" height="1.6" fill="#2424a8" opacity="0.69"/><rect x="114.7" y="465.8" width="2.2" height="1.3" fill="#2424a8" opacity="0.46"/><rect x="50.4" y="450.1" width="2.6" height="2.2" fill="#2424a8" opacity="0.65"/><rect x="123.3" y="471.5" width="3.3" height="1.3" fill="#2424a8" opacity="0.67"/><rect x="101.0" y="500.2" width="3.2" height="1.4" fill="#2424a8" opacity="0.83"/><rect x="96.5" y="455.2" width="2.3" height="1.1" fill="#2424a8" opacity="0.54"/><rect x="77.1" y="473.8" width="2.1" height="1.2" fill="#2424a8" opacity="0.57"/><rect x="78.6" y="485.3" width="2.8" height="1.4" fill="#2424a8" opacity="0.39"/><rect x="54.5" y="474.9" width="1.8" height="1.9" fill="#2424a8" opacity="0.53"/><rect x="101.9" y="491.3" width="1.5" height="1.6" fill="#2424a8" opacity="0.69"/><rect x="75.6" y="453.1" width="1.6" height="1.7" fill="#2424a8" opacity="0.52"/><rect x="92.9" y="484.8" width="2.0" height="1.0" fill="#2424a8" opacity="0.48"/><rect x="74.3" y="517.8" width="2.0" height="2.0" fill="#2424a8" opacity="0.61"/><rect x="61.7" y="484.8" width="3.4" height="1.5" fill="#2424a8" opacity="0.64"/><rect x="92.1" y="521.7" width="2.8" height="1.9" fill="#2424a8" opacity="0.72"/><rect x="79.3" y="480.6" width="3.2" height="2.3" fill="#2424a8" opacity="0.45"/><rect x="77.0" y="519.1" width="1.8" height="1.8" fill="#2424a8" opacity="0.32"/><rect x="71.3" y="476.3" width="1.8" height="1.3" fill="#2424a8" opacity="0.84"/><rect x="65.0" y="501.3" width="1.5" height="1.8" fill="#2424a8" opacity="0.43"/><rect x="77.9" y="466.9" width="2.8" height="1.8" fill="#2424a8" opacity="0.57"/><rect x="95.9" y="491.9" width="3.4" height="1.5" fill="#2424a8" opacity="0.76"/><rect x="74.2" y="517.3" width="2.9" height="2.0" fill="#2424a8" opacity="0.47"/><rect x="100.8" y="523.4" width="1.8" height="1.9" fill="#2424a8" opacity="0.75"/><rect x="85.5" y="492.2" width="2.1" height="2.1" fill="#2424a8" opacity="0.50"/><rect x="88.9" y="466.7" width="2.1" height="1.3" fill="#2424a8" opacity="0.44"/><rect x="87.3" y="458.0" width="1.6" height="1.2" fill="#2424a8" opacity="0.33"/><rect x="102.2" y="457.0" width="3.0" height="1.7" fill="#2424a8" opacity="0.55"/><rect x="59.9" y="515.8" width="1.6" height="1.4" fill="#2424a8" opacity="0.78"/><rect x="86.8" y="510.3" width="2.9" height="1.4" fill="#2424a8" opacity="0.52"/><rect x="103.0" y="473.7" width="3.0" height="2.3" fill="#2424a8" opacity="0.48"/><rect x="111.8" y="492.5" width="2.9" height="1.9" fill="#2424a8" opacity="0.53"/><rect x="112.0" y="510.7" width="2.3" height="2.0" fill="#2424a8" opacity="0.37"/><rect x="65.2" y="462.6" width="2.7" height="2.4" fill="#2424a8" opacity="0.31"/><rect x="122.9" y="458.6" width="2.3" height="1.9" fill="#2424a8" opacity="0.68"/><rect x="78.1" y="521.0" width="1.6" height="2.1" fill="#2424a8" opacity="0.84"/><rect x="56.4" y="451.5" width="3.0" height="2.5" fill="#2424a8" opacity="0.46"/><rect x="56.6" y="473.9" width="2.6" height="1.7" fill="#2424a8" opacity="0.31"/><rect x="76.3" y="472.3" width="3.2" height="1.4" fill="#2424a8" opacity="0.74"/><rect x="77.8" y="496.4" width="3.5" height="1.6" fill="#2424a8" opacity="0.72"/><rect x="101.3" y="490.8" width="1.8" height="1.3" fill="#2424a8" opacity="0.74"/><rect x="55.6" y="521.0" width="2.5" height="1.2" fill="#2424a8" opacity="0.44"/><rect x="72.4" y="449.7" width="1.8" height="1.9" fill="#2424a8" opacity="0.61"/><rect x="68.6" y="465.9" width="2.2" height="1.4" fill="#2424a8" opacity="0.57"/><rect x="51.2" y="453.2" width="2.1" height="1.1" fill="#2424a8" opacity="0.79"/><rect x="61.4" y="485.9" width="1.9" height="2.3" fill="#2424a8" opacity="0.85"/><rect x="85.0" y="480.5" width="2.3" height="1.1" fill="#2424a8" opacity="0.74"/><rect x="90.1" y="499.4" width="2.1" height="2.4" fill="#2424a8" opacity="0.64"/><rect x="114.6" y="525.8" width="3.2" height="2.1" fill="#2424a8" opacity="0.54"/><rect x="60.9" y="450.3" width="1.7" height="1.1" fill="#2424a8" opacity="0.39"/><rect x="75.2" y="507.0" width="2.5" height="1.0" fill="#2424a8" opacity="0.47"/><rect x="63.6" y="523.0" width="2.6" height="2.2" fill="#2424a8" opacity="0.31"/><rect x="109.0" y="505.6" width="3.1" height="2.2" fill="#2424a8" opacity="0.52"/><rect x="107.1" y="525.1" width="3.4" height="1.6" fill="#2424a8" opacity="0.36"/><rect x="102.2" y="467.7" width="1.5" height="1.9" fill="#2424a8" opacity="0.80"/><rect x="64.9" y="478.5" width="2.8" height="2.2" fill="#2424a8" opacity="0.50"/><rect x="75.6" y="498.0" width="2.1" height="2.4" fill="#2424a8" opacity="0.49"/><rect x="72.3" y="455.5" width="3.0" height="1.3" fill="#2424a8" opacity="0.48"/><rect x="105.2" y="490.8" width="1.9" height="1.2" fill="#2424a8" opacity="0.67"/><rect x="58.3" y="475.5" width="1.5" height="1.8" fill="#2424a8" opacity="0.54"/><rect x="78.7" y="473.3" width="3.4" height="1.3" fill="#2424a8" opacity="0.60"/><rect x="115.9" y="473.2" width="1.7" height="2.5" fill="#2424a8" opacity="0.71"/><rect x="80.7" y="523.3" width="2.3" height="2.1" fill="#2424a8" opacity="0.42"/><rect x="61.1" y="469.5" width="3.4" height="1.5" fill="#2424a8" opacity="0.67"/><rect x="61.5" y="476.1" width="1.8" height="2.0" fill="#2424a8" opacity="0.84"/><rect x="76.7" y="498.4" width="2.7" height="2.3" fill="#2424a8" opacity="0.42"/><rect x="114.0" y="497.2" width="2.6" height="1.2" fill="#2424a8" opacity="0.58"/><rect x="112.5" y="502.0" width="2.8" height="1.6" fill="#2424a8" opacity="0.55"/><rect x="77.2" y="466.1" width="2.6" height="1.8" fill="#2424a8" opacity="0.63"/><rect x="49.7" y="497.1" width="2.7" height="1.9" fill="#2424a8" opacity="0.55"/><rect x="119.9" y="460.1" width="3.5" height="2.1" fill="#2424a8" opacity="0.56"/><rect x="71.6" y="505.7" width="2.3" height="2.3" fill="#2424a8" opacity="0.84"/><rect x="57.1" y="525.4" width="2.0" height="2.3" fill="#2424a8" opacity="0.57"/><rect x="97.8" y="521.3" width="3.1" height="1.8" fill="#2424a8" opacity="0.76"/><rect x="124.7" y="453.3" width="2.9" height="1.4" fill="#2424a8" opacity="0.78"/><rect x="110.2" y="483.6" width="3.2" height="1.3" fill="#2424a8" opacity="0.59"/><rect x="69.0" y="498.4" width="2.6" height="2.2" fill="#2424a8" opacity="0.34"/><rect x="85.5" y="467.1" width="3.2" height="2.2" fill="#2424a8" opacity="0.74"/><rect x="90.0" y="518.8" width="1.8" height="1.5" fill="#2424a8" opacity="0.74"/><rect x="55.0" y="451.1" width="3.2" height="2.3" fill="#2424a8" opacity="0.49"/><rect x="56.4" y="462.4" width="3.2" height="1.9" fill="#2424a8" opacity="0.51"/><rect x="117.5" y="453.8" width="1.9" height="1.9" fill="#2424a8" opacity="0.84"/><rect x="115.6" y="505.0" width="2.8" height="1.6" fill="#2424a8" opacity="0.41"/><rect x="48.4" y="474.7" width="2.8" height="1.4" fill="#2424a8" opacity="0.47"/><rect x="94.2" y="502.4" width="1.8" height="2.0" fill="#2424a8" opacity="0.40"/><rect x="83.6" y="458.3" width="3.4" height="1.9" fill="#2424a8" opacity="0.36"/><rect x="75.1" y="463.5" width="2.9" height="2.1" fill="#2424a8" opacity="0.85"/><rect x="75.3" y="472.4" width="1.8" height="1.9" fill="#2424a8" opacity="0.52"/><rect x="80.3" y="512.2" width="2.4" height="1.8" fill="#2424a8" opacity="0.52"/><rect x="120.6" y="475.2" width="2.0" height="1.9" fill="#2424a8" opacity="0.69"/><rect x="69.4" y="516.3" width="3.2" height="2.0" fill="#2424a8" opacity="0.46"/><rect x="82.7" y="521.0" width="3.0" height="1.9" fill="#2424a8" opacity="0.51"/><rect x="82.2" y="453.2" width="2.1" height="1.7" fill="#2424a8" opacity="0.53"/><rect x="121.7" y="471.1" width="2.8" height="1.4" fill="#2424a8" opacity="0.68"/><rect x="79.3" y="458.5" width="2.0" height="1.6" fill="#2424a8" opacity="0.79"/><rect x="73.8" y="512.2" width="2.7" height="1.8" fill="#2424a8" opacity="0.77"/><rect x="55.0" y="518.1" width="2.2" height="1.6" fill="#2424a8" opacity="0.35"/><rect x="103.6" y="500.4" width="3.3" height="2.4" fill="#2424a8" opacity="0.49"/><rect x="49.0" y="497.6" width="2.2" height="1.7" fill="#2424a8" opacity="0.56"/><rect x="71.9" y="500.5" width="3.4" height="2.5" fill="#2424a8" opacity="0.63"/><rect x="124.6" y="479.0" width="2.8" height="2.1" fill="#2424a8" opacity="0.76"/><rect x="125.0" y="453.4" width="2.3" height="2.0" fill="#2424a8" opacity="0.55"/><rect x="64.2" y="525.4" width="2.2" height="1.2" fill="#2424a8" opacity="0.42"/><rect x="78.0" y="506.1" width="1.8" height="2.0" fill="#2424a8" opacity="0.35"/><rect x="95.8" y="506.1" width="3.1" height="2.1" fill="#2424a8" opacity="0.44"/><rect x="107.7" y="457.5" width="1.5" height="2.3" fill="#2424a8" opacity="0.56"/><rect x="120.9" y="518.1" width="2.2" height="1.8" fill="#2424a8" opacity="0.31"/><rect x="88.8" y="456.9" width="2.1" height="1.8" fill="#2424a8" opacity="0.73"/><rect x="56.9" y="492.5" width="1.7" height="1.8" fill="#2424a8" opacity="0.37"/><rect x="70.1" y="508.8" width="2.3" height="1.1" fill="#2424a8" opacity="0.44"/><rect x="64.2" y="483.4" width="2.4" height="2.3" fill="#2424a8" opacity="0.61"/><rect x="55.3" y="514.5" width="3.4" height="1.8" fill="#2424a8" opacity="0.39"/><rect x="78.9" y="496.0" width="3.4" height="1.6" fill="#2424a8" opacity="0.78"/><rect x="48.0" y="460.2" width="3.0" height="2.1" fill="#2424a8" opacity="0.75"/><rect x="59.4" y="489.6" width="1.7" height="1.5" fill="#2424a8" opacity="0.32"/><rect x="122.6" y="498.4" width="1.6" height="1.6" fill="#2424a8" opacity="0.77"/><rect x="53.3" y="468.5" width="3.3" height="1.5" fill="#2424a8" opacity="0.36"/><rect x="85.3" y="499.2" width="3.4" height="1.9" fill="#2424a8" opacity="0.79"/><rect x="86.3" y="518.7" width="2.1" height="2.1" fill="#2424a8" opacity="0.52"/><rect x="67.3" y="476.9" width="2.5" height="1.5" fill="#2424a8" opacity="0.54"/><rect x="80.8" y="483.4" width="3.2" height="1.1" fill="#2424a8" opacity="0.33"/><rect x="88.4" y="490.9" width="1.9" height="1.1" fill="#2424a8" opacity="0.52"/><rect x="76.2" y="472.7" width="2.0" height="2.1" fill="#2424a8" opacity="0.57"/><rect x="85.2" y="448.9" width="3.4" height="1.0" fill="#2424a8" opacity="0.52"/><rect x="93.5" y="523.1" width="2.7" height="1.6" fill="#2424a8" opacity="0.50"/><rect x="70.7" y="495.7" width="2.1" height="1.7" fill="#2424a8" opacity="0.62"/><rect x="87.5" y="507.0" width="1.7" height="1.4" fill="#2424a8" opacity="0.33"/><rect x="68.3" y="510.3" width="3.2" height="1.6" fill="#2424a8" opacity="0.53"/><rect x="69.5" y="501.2" width="3.5" height="2.2" fill="#2424a8" opacity="0.35"/><rect x="72.8" y="473.0" width="3.1" height="2.0" fill="#2424a8" opacity="0.75"/><rect x="51.6" y="507.8" width="2.7" height="1.8" fill="#2424a8" opacity="0.33"/><rect x="119.5" y="498.0" width="3.4" height="2.1" fill="#2424a8" opacity="0.31"/><rect x="92.4" y="448.6" width="2.3" height="2.0" fill="#2424a8" opacity="0.71"/><rect x="123.9" y="519.7" width="3.1" height="1.7" fill="#2424a8" opacity="0.34"/><rect x="105.8" y="477.7" width="2.4" height="1.2" fill="#2424a8" opacity="0.55"/><rect x="72.2" y="505.5" width="1.7" height="2.3" fill="#2424a8" opacity="0.34"/><rect x="99.2" y="491.0" width="1.7" height="1.5" fill="#2424a8" opacity="0.36"/><rect x="121.6" y="491.9" width="1.9" height="1.6" fill="#2424a8" opacity="0.81"/><rect x="89.0" y="513.7" width="3.2" height="1.7" fill="#2424a8" opacity="0.37"/><rect x="49.6" y="481.9" width="2.8" height="2.4" fill="#2424a8" opacity="0.51"/><rect x="85.7" y="502.0" width="3.1" height="1.2" fill="#2424a8" opacity="0.51"/><rect x="105.1" y="461.2" width="1.9" height="1.5" fill="#2424a8" opacity="0.62"/><rect x="60.0" y="475.5" width="2.5" height="1.6" fill="#2424a8" opacity="0.63"/><rect x="92.0" y="513.9" width="2.7" height="1.7" fill="#2424a8" opacity="0.50"/><rect x="123.7" y="473.8" width="2.0" height="1.4" fill="#2424a8" opacity="0.68"/><rect x="104.2" y="493.0" width="1.6" height="2.2" fill="#2424a8" opacity="0.44"/><rect x="76.7" y="504.1" width="2.7" height="1.8" fill="#2424a8" opacity="0.54"/><rect x="123.3" y="519.2" width="2.5" height="1.3" fill="#2424a8" opacity="0.55"/><rect x="105.9" y="456.2" width="3.2" height="1.1" fill="#2424a8" opacity="0.47"/><rect x="101.7" y="492.5" width="2.2" height="1.2" fill="#2424a8" opacity="0.60"/><rect x="121.4" y="507.8" width="1.7" height="2.2" fill="#2424a8" opacity="0.74"/><rect x="64.2" y="463.7" width="2.7" height="1.2" fill="#2424a8" opacity="0.59"/><rect x="106.9" y="493.6" width="3.3" height="2.0" fill="#2424a8" opacity="0.79"/><rect x="75.6" y="522.4" width="2.1" height="2.3" fill="#2424a8" opacity="0.70"/><rect x="103.9" y="468.8" width="1.5" height="1.8" fill="#2424a8" opacity="0.44"/><rect x="67.0" y="471.1" width="1.8" height="1.7" fill="#2424a8" opacity="0.44"/><rect x="68.5" y="470.4" width="2.5" height="2.3" fill="#2424a8" opacity="0.45"/><rect x="59.7" y="515.2" width="2.7" height="1.8" fill="#2424a8" opacity="0.77"/><rect x="104.4" y="489.9" width="3.3" height="2.2" fill="#2424a8" opacity="0.66"/><rect x="67.5" y="452.4" width="2.2" height="2.2" fill="#2424a8" opacity="0.82"/>
<ellipse cx="68" cy="466" rx="15" ry="11" transform="rotate(20 68 466)" fill="#1f8a1f" opacity="0.45"/><ellipse cx="95" cy="466" rx="14" ry="8" transform="rotate(-10 95 466)" fill="#1f8a1f" opacity="0.5"/><ellipse cx="112" cy="470" rx="11" ry="10" transform="rotate(0 112 470)" fill="#1f8a1f" opacity="0.5"/><ellipse cx="110" cy="498" rx="10" ry="16" transform="rotate(15 110 498)" fill="#1f8a1f" opacity="0.45"/><ellipse cx="60" cy="490" rx="9" ry="5" transform="rotate(30 60 490)" fill="#1f8a1f" opacity="0.25"/><ellipse cx="80" cy="458" rx="12" ry="4" transform="rotate(0 80 458)" fill="#1f8a1f" opacity="0.4"/><ellipse cx="104" cy="512" rx="6" ry="6" transform="rotate(0 104 512)" fill="#1f8a1f" opacity="0.35"/><ellipse cx="66.9" cy="484.6" rx="3.4" ry="1.0" transform="rotate(18 66.9 484.6)" fill="#33c530" opacity="0.66"/><ellipse cx="99.8" cy="455.4" rx="3.5" ry="1.1" transform="rotate(-1 99.8 455.4)" fill="#33c530" opacity="0.82"/><ellipse cx="108.8" cy="489.8" rx="1.9" ry="1.0" transform="rotate(-7 108.8 489.8)" fill="#33c530" opacity="0.54"/><ellipse cx="91.9" cy="460.5" rx="2.9" ry="1.4" transform="rotate(-30 91.9 460.5)" fill="#33c530" opacity="0.89"/><ellipse cx="101.5" cy="489.7" rx="3.1" ry="0.6" transform="rotate(21 101.5 489.7)" fill="#33c530" opacity="0.39"/><ellipse cx="80.2" cy="475.7" rx="3.0" ry="0.8" transform="rotate(-68 80.2 475.7)" fill="#33c530" opacity="0.67"/><ellipse cx="62.6" cy="461.6" rx="3.1" ry="0.9" transform="rotate(-13 62.6 461.6)" fill="#33c530" opacity="0.48"/><ellipse cx="98.9" cy="470.0" rx="3.3" ry="0.7" transform="rotate(-39 98.9 470.0)" fill="#33c530" opacity="0.48"/><ellipse cx="100.4" cy="510.3" rx="3.0" ry="0.8" transform="rotate(-61 100.4 510.3)" fill="#33c530" opacity="0.47"/><ellipse cx="78.0" cy="472.0" rx="2.5" ry="1.3" transform="rotate(19 78.0 472.0)" fill="#33c530" opacity="0.36"/><ellipse cx="87.1" cy="479.1" rx="1.8" ry="0.8" transform="rotate(40 87.1 479.1)" fill="#33c530" opacity="0.83"/><ellipse cx="121.1" cy="464.8" rx="3.3" ry="1.2" transform="rotate(11 121.1 464.8)" fill="#33c530" opacity="0.87"/><ellipse cx="83.7" cy="478.5" rx="3.4" ry="0.7" transform="rotate(-37 83.7 478.5)" fill="#33c530" opacity="0.45"/><ellipse cx="63.1" cy="459.5" rx="2.6" ry="1.2" transform="rotate(-5 63.1 459.5)" fill="#33c530" opacity="0.64"/><ellipse cx="119.4" cy="488.5" rx="2.6" ry="0.8" transform="rotate(-30 119.4 488.5)" fill="#33c530" opacity="0.79"/><ellipse cx="113.5" cy="485.5" rx="3.5" ry="0.6" transform="rotate(43 113.5 485.5)" fill="#33c530" opacity="0.77"/><ellipse cx="79.6" cy="454.1" rx="3.0" ry="0.8" transform="rotate(-49 79.6 454.1)" fill="#33c530" opacity="0.36"/><ellipse cx="98.8" cy="485.5" rx="2.1" ry="0.6" transform="rotate(-68 98.8 485.5)" fill="#33c530" opacity="0.49"/><ellipse cx="96.2" cy="478.3" rx="2.1" ry="0.9" transform="rotate(5 96.2 478.3)" fill="#33c530" opacity="0.84"/><ellipse cx="93.4" cy="481.9" rx="2.2" ry="1.3" transform="rotate(-15 93.4 481.9)" fill="#33c530" opacity="0.48"/><ellipse cx="121.2" cy="471.8" rx="2.2" ry="1.0" transform="rotate(12 121.2 471.8)" fill="#33c530" opacity="0.62"/><ellipse cx="119.3" cy="489.3" rx="2.5" ry="0.8" transform="rotate(-70 119.3 489.3)" fill="#33c530" opacity="0.67"/><ellipse cx="97.2" cy="485.3" rx="2.5" ry="1.1" transform="rotate(-10 97.2 485.3)" fill="#33c530" opacity="0.88"/><ellipse cx="70.5" cy="483.8" rx="2.0" ry="1.3" transform="rotate(26 70.5 483.8)" fill="#33c530" opacity="0.79"/><ellipse cx="113.1" cy="488.4" rx="1.9" ry="1.3" transform="rotate(-46 113.1 488.4)" fill="#33c530" opacity="0.79"/><ellipse cx="120.1" cy="499.2" rx="1.7" ry="1.4" transform="rotate(10 120.1 499.2)" fill="#33c530" opacity="0.83"/><ellipse cx="97.8" cy="487.6" rx="1.5" ry="0.7" transform="rotate(-28 97.8 487.6)" fill="#33c530" opacity="0.79"/><ellipse cx="102.0" cy="489.4" rx="1.9" ry="1.1" transform="rotate(-37 102.0 489.4)" fill="#33c530" opacity="0.73"/><ellipse cx="74.5" cy="471.4" rx="1.6" ry="1.3" transform="rotate(-11 74.5 471.4)" fill="#33c530" opacity="0.64"/><ellipse cx="74.1" cy="455.5" rx="2.6" ry="1.4" transform="rotate(-27 74.1 455.5)" fill="#33c530" opacity="0.70"/><ellipse cx="80.7" cy="481.1" rx="3.4" ry="0.7" transform="rotate(-13 80.7 481.1)" fill="#33c530" opacity="0.59"/><ellipse cx="101.3" cy="508.1" rx="3.4" ry="1.3" transform="rotate(7 101.3 508.1)" fill="#33c530" opacity="0.49"/><ellipse cx="103.9" cy="505.4" rx="2.8" ry="1.2" transform="rotate(22 103.9 505.4)" fill="#33c530" opacity="0.60"/><ellipse cx="82.1" cy="458.3" rx="3.3" ry="0.6" transform="rotate(45 82.1 458.3)" fill="#33c530" opacity="0.39"/><ellipse cx="58.9" cy="482.5" rx="2.3" ry="1.1" transform="rotate(19 58.9 482.5)" fill="#33c530" opacity="0.72"/><ellipse cx="59.0" cy="454.4" rx="1.6" ry="0.9" transform="rotate(-68 59.0 454.4)" fill="#33c530" opacity="0.61"/><ellipse cx="124.0" cy="459.3" rx="3.2" ry="1.0" transform="rotate(-43 124.0 459.3)" fill="#33c530" opacity="0.58"/><ellipse cx="109.3" cy="504.0" rx="2.4" ry="1.0" transform="rotate(-26 109.3 504.0)" fill="#33c530" opacity="0.52"/><ellipse cx="96.6" cy="481.4" rx="2.4" ry="1.0" transform="rotate(23 96.6 481.4)" fill="#33c530" opacity="0.83"/><ellipse cx="123.4" cy="509.9" rx="3.0" ry="0.8" transform="rotate(11 123.4 509.9)" fill="#33c530" opacity="0.75"/><ellipse cx="75.2" cy="504.3" rx="3.0" ry="0.8" transform="rotate(-20 75.2 504.3)" fill="#33c530" opacity="0.69"/><ellipse cx="107.1" cy="506.9" rx="2.9" ry="1.0" transform="rotate(-40 107.1 506.9)" fill="#33c530" opacity="0.65"/><ellipse cx="86.8" cy="462.9" rx="2.8" ry="0.8" transform="rotate(37 86.8 462.9)" fill="#33c530" opacity="0.79"/><ellipse cx="78.1" cy="471.0" rx="1.5" ry="0.9" transform="rotate(-6 78.1 471.0)" fill="#33c530" opacity="0.71"/><ellipse cx="120.2" cy="469.2" rx="1.7" ry="1.2" transform="rotate(-56 120.2 469.2)" fill="#33c530" opacity="0.76"/><ellipse cx="85.2" cy="474.0" rx="2.6" ry="1.1" transform="rotate(27 85.2 474.0)" fill="#33c530" opacity="0.89"/><ellipse cx="118.8" cy="501.7" rx="2.9" ry="0.8" transform="rotate(-27 118.8 501.7)" fill="#33c530" opacity="0.84"/><ellipse cx="115.5" cy="467.4" rx="2.9" ry="0.6" transform="rotate(-43 115.5 467.4)" fill="#33c530" opacity="0.73"/><ellipse cx="91.9" cy="477.2" rx="2.1" ry="0.8" transform="rotate(-40 91.9 477.2)" fill="#33c530" opacity="0.36"/><ellipse cx="101.8" cy="488.2" rx="2.5" ry="1.0" transform="rotate(-23 101.8 488.2)" fill="#33c530" opacity="0.64"/><ellipse cx="105.8" cy="484.8" rx="3.3" ry="1.4" transform="rotate(-4 105.8 484.8)" fill="#33c530" opacity="0.85"/><ellipse cx="123.0" cy="491.5" rx="3.2" ry="1.0" transform="rotate(-33 123.0 491.5)" fill="#33c530" opacity="0.89"/><ellipse cx="54.9" cy="525.7" rx="2.3" ry="1.1" transform="rotate(-52 54.9 525.7)" fill="#33c530" opacity="0.41"/><ellipse cx="107.1" cy="495.2" rx="2.4" ry="1.3" transform="rotate(-49 107.1 495.2)" fill="#33c530" opacity="0.72"/><ellipse cx="65.7" cy="484.2" rx="2.7" ry="1.1" transform="rotate(-30 65.7 484.2)" fill="#33c530" opacity="0.36"/><ellipse cx="122.0" cy="492.7" rx="2.0" ry="1.3" transform="rotate(6 122.0 492.7)" fill="#33c530" opacity="0.75"/><ellipse cx="109.8" cy="460.9" rx="1.8" ry="1.0" transform="rotate(-66 109.8 460.9)" fill="#33c530" opacity="0.88"/><ellipse cx="103.5" cy="464.3" rx="2.0" ry="0.8" transform="rotate(46 103.5 464.3)" fill="#33c530" opacity="0.85"/><ellipse cx="74.3" cy="461.5" rx="1.9" ry="1.0" transform="rotate(40 74.3 461.5)" fill="#33c530" opacity="0.62"/><ellipse cx="107.4" cy="493.1" rx="2.9" ry="0.7" transform="rotate(-47 107.4 493.1)" fill="#33c530" opacity="0.83"/><ellipse cx="107.0" cy="505.1" rx="1.8" ry="0.7" transform="rotate(29 107.0 505.1)" fill="#33c530" opacity="0.37"/><ellipse cx="57.8" cy="472.0" rx="1.9" ry="1.1" transform="rotate(-57 57.8 472.0)" fill="#33c530" opacity="0.44"/><ellipse cx="95.9" cy="464.9" rx="3.3" ry="1.1" transform="rotate(-69 95.9 464.9)" fill="#33c530" opacity="0.57"/><ellipse cx="102.9" cy="519.2" rx="2.1" ry="1.2" transform="rotate(-36 102.9 519.2)" fill="#33c530" opacity="0.78"/><ellipse cx="115.0" cy="477.7" rx="3.3" ry="1.1" transform="rotate(45 115.0 477.7)" fill="#33c530" opacity="0.84"/><ellipse cx="122.2" cy="461.1" rx="1.8" ry="1.2" transform="rotate(-2 122.2 461.1)" fill="#33c530" opacity="0.38"/><ellipse cx="97.0" cy="471.5" rx="1.9" ry="1.0" transform="rotate(3 97.0 471.5)" fill="#33c530" opacity="0.82"/><ellipse cx="49.3" cy="450.3" rx="2.1" ry="1.4" transform="rotate(-31 49.3 450.3)" fill="#33c530" opacity="0.70"/><ellipse cx="120.3" cy="482.2" rx="2.1" ry="1.2" transform="rotate(-22 120.3 482.2)" fill="#33c530" opacity="0.60"/><ellipse cx="122.7" cy="465.6" rx="1.6" ry="0.9" transform="rotate(-51 122.7 465.6)" fill="#33c530" opacity="0.45"/><ellipse cx="51.1" cy="467.6" rx="1.6" ry="1.0" transform="rotate(-51 51.1 467.6)" fill="#33c530" opacity="0.42"/><ellipse cx="116.4" cy="492.3" rx="2.9" ry="1.4" transform="rotate(34 116.4 492.3)" fill="#33c530" opacity="0.51"/><ellipse cx="108.1" cy="498.3" rx="2.5" ry="0.8" transform="rotate(-69 108.1 498.3)" fill="#33c530" opacity="0.68"/><ellipse cx="107.2" cy="484.0" rx="3.3" ry="0.8" transform="rotate(-26 107.2 484.0)" fill="#33c530" opacity="0.36"/><ellipse cx="116.5" cy="486.9" rx="3.3" ry="1.2" transform="rotate(-54 116.5 486.9)" fill="#33c530" opacity="0.39"/><ellipse cx="100.5" cy="466.5" rx="1.6" ry="1.3" transform="rotate(3 100.5 466.5)" fill="#33c530" opacity="0.53"/><ellipse cx="117.6" cy="510.3" rx="2.7" ry="1.0" transform="rotate(-65 117.6 510.3)" fill="#33c530" opacity="0.52"/><ellipse cx="118.9" cy="466.0" rx="3.3" ry="1.4" transform="rotate(-61 118.9 466.0)" fill="#33c530" opacity="0.69"/><ellipse cx="114.9" cy="469.1" rx="1.8" ry="1.2" transform="rotate(-32 114.9 469.1)" fill="#33c530" opacity="0.77"/><ellipse cx="104.5" cy="485.4" rx="1.8" ry="1.3" transform="rotate(-59 104.5 485.4)" fill="#33c530" opacity="0.62"/><ellipse cx="98.2" cy="477.9" rx="3.4" ry="1.1" transform="rotate(-49 98.2 477.9)" fill="#33c530" opacity="0.42"/><ellipse cx="122.9" cy="481.1" rx="2.3" ry="0.9" transform="rotate(-25 122.9 481.1)" fill="#33c530" opacity="0.71"/><ellipse cx="119.2" cy="473.2" rx="1.8" ry="1.1" transform="rotate(-56 119.2 473.2)" fill="#33c530" opacity="0.84"/><ellipse cx="85.2" cy="465.5" rx="2.1" ry="1.2" transform="rotate(-19 85.2 465.5)" fill="#33c530" opacity="0.37"/><ellipse cx="97.7" cy="511.2" rx="1.7" ry="0.7" transform="rotate(-47 97.7 511.2)" fill="#33c530" opacity="0.79"/><ellipse cx="94.7" cy="474.5" rx="2.2" ry="1.4" transform="rotate(-19 94.7 474.5)" fill="#33c530" opacity="0.55"/><ellipse cx="119.3" cy="516.2" rx="3.1" ry="0.7" transform="rotate(-55 119.3 516.2)" fill="#33c530" opacity="0.66"/><ellipse cx="56.6" cy="457.2" rx="3.5" ry="1.1" transform="rotate(-51 56.6 457.2)" fill="#33c530" opacity="0.84"/><ellipse cx="56.2" cy="461.2" rx="3.4" ry="0.8" transform="rotate(-51 56.2 461.2)" fill="#33c530" opacity="0.59"/><ellipse cx="99.9" cy="481.6" rx="2.4" ry="0.8" transform="rotate(-46 99.9 481.6)" fill="#33c530" opacity="0.72"/><ellipse cx="57.3" cy="460.7" rx="2.7" ry="0.6" transform="rotate(-6 57.3 460.7)" fill="#33c530" opacity="0.89"/><ellipse cx="112.7" cy="479.1" rx="3.5" ry="0.7" transform="rotate(29 112.7 479.1)" fill="#33c530" opacity="0.77"/><ellipse cx="58.4" cy="462.7" rx="3.3" ry="1.0" transform="rotate(38 58.4 462.7)" fill="#33c530" opacity="0.42"/><ellipse cx="103.9" cy="509.2" rx="2.4" ry="0.9" transform="rotate(-15 103.9 509.2)" fill="#33c530" opacity="0.60"/><ellipse cx="101.3" cy="504.3" rx="1.8" ry="0.6" transform="rotate(-2 101.3 504.3)" fill="#33c530" opacity="0.56"/><ellipse cx="72.8" cy="460.6" rx="2.3" ry="0.7" transform="rotate(31 72.8 460.6)" fill="#33c530" opacity="0.41"/><ellipse cx="104.2" cy="510.3" rx="2.1" ry="1.2" transform="rotate(-47 104.2 510.3)" fill="#33c530" opacity="0.76"/><ellipse cx="72.2" cy="484.5" rx="3.1" ry="0.8" transform="rotate(-13 72.2 484.5)" fill="#33c530" opacity="0.80"/><ellipse cx="115.0" cy="489.0" rx="2.1" ry="0.9" transform="rotate(-36 115.0 489.0)" fill="#33c530" opacity="0.87"/><ellipse cx="66.5" cy="455.0" rx="2.6" ry="0.9" transform="rotate(-21 66.5 455.0)" fill="#33c530" opacity="0.66"/><ellipse cx="69.7" cy="454.1" rx="1.7" ry="0.6" transform="rotate(-34 69.7 454.1)" fill="#33c530" opacity="0.61"/><ellipse cx="82.9" cy="490.1" rx="3.1" ry="1.0" transform="rotate(-58 82.9 490.1)" fill="#33c530" opacity="0.62"/><ellipse cx="104.4" cy="501.4" rx="2.7" ry="1.0" transform="rotate(-6 104.4 501.4)" fill="#33c530" opacity="0.80"/><ellipse cx="121.3" cy="462.7" rx="3.0" ry="1.0" transform="rotate(-53 121.3 462.7)" fill="#33c530" opacity="0.75"/><ellipse cx="72.5" cy="517.3" rx="3.0" ry="1.3" transform="rotate(-43 72.5 517.3)" fill="#33c530" opacity="0.78"/><ellipse cx="120.2" cy="459.6" rx="2.8" ry="0.7" transform="rotate(-37 120.2 459.6)" fill="#33c530" opacity="0.53"/><ellipse cx="118.2" cy="513.2" rx="2.4" ry="1.1" transform="rotate(-41 118.2 513.2)" fill="#33c530" opacity="0.68"/><ellipse cx="104.7" cy="514.1" rx="2.0" ry="1.2" transform="rotate(-42 104.7 514.1)" fill="#33c530" opacity="0.84"/><ellipse cx="123.0" cy="504.7" rx="3.0" ry="1.0" transform="rotate(20 123.0 504.7)" fill="#33c530" opacity="0.50"/><ellipse cx="113.7" cy="512.6" rx="3.0" ry="1.3" transform="rotate(-61 113.7 512.6)" fill="#33c530" opacity="0.81"/><ellipse cx="101.9" cy="478.1" rx="3.3" ry="1.2" transform="rotate(-62 101.9 478.1)" fill="#33c530" opacity="0.79"/><ellipse cx="84.3" cy="465.8" rx="2.6" ry="0.7" transform="rotate(12 84.3 465.8)" fill="#33c530" opacity="0.35"/><ellipse cx="79.4" cy="468.8" rx="2.3" ry="1.2" transform="rotate(-43 79.4 468.8)" fill="#33c530" opacity="0.85"/><ellipse cx="76.1" cy="476.0" rx="1.6" ry="1.1" transform="rotate(10 76.1 476.0)" fill="#33c530" opacity="0.85"/><ellipse cx="79.2" cy="459.6" rx="3.1" ry="0.9" transform="rotate(-19 79.2 459.6)" fill="#33c530" opacity="0.89"/><ellipse cx="69.4" cy="490.8" rx="2.1" ry="1.3" transform="rotate(-28 69.4 490.8)" fill="#33c530" opacity="0.77"/><ellipse cx="108.1" cy="462.2" rx="2.7" ry="0.7" transform="rotate(5 108.1 462.2)" fill="#33c530" opacity="0.88"/><ellipse cx="68.9" cy="466.8" rx="2.1" ry="1.1" transform="rotate(3 68.9 466.8)" fill="#33c530" opacity="0.85"/><ellipse cx="86.9" cy="484.1" rx="1.6" ry="1.0" transform="rotate(14 86.9 484.1)" fill="#33c530" opacity="0.86"/><ellipse cx="93.2" cy="481.6" rx="2.1" ry="1.3" transform="rotate(-37 93.2 481.6)" fill="#33c530" opacity="0.54"/><ellipse cx="107.8" cy="478.1" rx="3.4" ry="1.2" transform="rotate(-70 107.8 478.1)" fill="#33c530" opacity="0.89"/><ellipse cx="121.8" cy="472.7" rx="1.8" ry="0.6" transform="rotate(-43 121.8 472.7)" fill="#33c530" opacity="0.62"/><ellipse cx="104.5" cy="468.8" rx="3.3" ry="1.3" transform="rotate(46 104.5 468.8)" fill="#33c530" opacity="0.65"/><ellipse cx="54.3" cy="472.6" rx="2.2" ry="0.7" transform="rotate(36 54.3 472.6)" fill="#33c530" opacity="0.55"/><ellipse cx="79.1" cy="510.4" rx="2.6" ry="1.2" transform="rotate(-4 79.1 510.4)" fill="#33c530" opacity="0.87"/><ellipse cx="102.0" cy="467.2" rx="2.1" ry="1.0" transform="rotate(-12 102.0 467.2)" fill="#33c530" opacity="0.40"/><ellipse cx="101.9" cy="481.9" rx="3.4" ry="1.3" transform="rotate(-56 101.9 481.9)" fill="#33c530" opacity="0.83"/><ellipse cx="110.3" cy="496.3" rx="2.8" ry="0.7" transform="rotate(-56 110.3 496.3)" fill="#33c530" opacity="0.42"/><ellipse cx="112.0" cy="460.6" rx="2.5" ry="0.6" transform="rotate(-53 112.0 460.6)" fill="#33c530" opacity="0.83"/><ellipse cx="101.0" cy="511.6" rx="3.2" ry="1.3" transform="rotate(39 101.0 511.6)" fill="#33c530" opacity="0.79"/><ellipse cx="65.6" cy="476.4" rx="2.4" ry="1.4" transform="rotate(22 65.6 476.4)" fill="#33c530" opacity="0.51"/><ellipse cx="69.8" cy="497.1" rx="3.4" ry="1.0" transform="rotate(11 69.8 497.1)" fill="#33c530" opacity="0.43"/><ellipse cx="105.4" cy="515.1" rx="1.6" ry="1.2" transform="rotate(-17 105.4 515.1)" fill="#33c530" opacity="0.66"/><ellipse cx="80.2" cy="461.2" rx="1.7" ry="0.7" transform="rotate(-62 80.2 461.2)" fill="#33c530" opacity="0.58"/><ellipse cx="115.1" cy="492.3" rx="3.2" ry="1.1" transform="rotate(-37 115.1 492.3)" fill="#33c530" opacity="0.71"/><ellipse cx="94.1" cy="469.9" rx="2.3" ry="1.3" transform="rotate(-3 94.1 469.9)" fill="#33c530" opacity="0.46"/><ellipse cx="64.8" cy="451.4" rx="3.2" ry="0.7" transform="rotate(27 64.8 451.4)" fill="#33c530" opacity="0.36"/><ellipse cx="93.0" cy="468.9" rx="3.0" ry="0.8" transform="rotate(39 93.0 468.9)" fill="#33c530" opacity="0.68"/><ellipse cx="120.3" cy="497.5" rx="2.3" ry="1.1" transform="rotate(-31 120.3 497.5)" fill="#33c530" opacity="0.49"/><ellipse cx="100.7" cy="492.6" rx="1.7" ry="1.0" transform="rotate(-42 100.7 492.6)" fill="#33c530" opacity="0.84"/><ellipse cx="121.2" cy="472.5" rx="2.4" ry="0.7" transform="rotate(-8 121.2 472.5)" fill="#33c530" opacity="0.78"/><ellipse cx="55.7" cy="467.5" rx="1.9" ry="0.7" transform="rotate(-46 55.7 467.5)" fill="#33c530" opacity="0.64"/><ellipse cx="123.3" cy="497.0" rx="2.1" ry="0.9" transform="rotate(22 123.3 497.0)" fill="#33c530" opacity="0.59"/><ellipse cx="105.0" cy="504.9" rx="3.5" ry="1.0" transform="rotate(44 105.0 504.9)" fill="#33c530" opacity="0.90"/><ellipse cx="96.4" cy="479.4" rx="2.7" ry="1.2" transform="rotate(-68 96.4 479.4)" fill="#33c530" opacity="0.69"/><ellipse cx="99.9" cy="492.8" rx="2.9" ry="0.9" transform="rotate(11 99.9 492.8)" fill="#33c530" opacity="0.88"/><ellipse cx="85.8" cy="462.8" rx="1.8" ry="1.3" transform="rotate(-27 85.8 462.8)" fill="#33c530" opacity="0.45"/><ellipse cx="103.3" cy="463.1" rx="1.7" ry="1.3" transform="rotate(50 103.3 463.1)" fill="#33c530" opacity="0.35"/><ellipse cx="123.5" cy="519.2" rx="2.4" ry="0.7" transform="rotate(7 123.5 519.2)" fill="#33c530" opacity="0.55"/><ellipse cx="109.4" cy="495.8" rx="2.7" ry="0.8" transform="rotate(45 109.4 495.8)" fill="#33c530" opacity="0.65"/><ellipse cx="86.3" cy="472.1" rx="2.4" ry="0.9" transform="rotate(-42 86.3 472.1)" fill="#33c530" opacity="0.68"/><ellipse cx="109.7" cy="511.3" rx="2.6" ry="0.9" transform="rotate(47 109.7 511.3)" fill="#33c530" opacity="0.49"/><ellipse cx="115.3" cy="483.5" rx="2.5" ry="1.0" transform="rotate(-1 115.3 483.5)" fill="#33c530" opacity="0.66"/><ellipse cx="121.4" cy="506.7" rx="1.5" ry="0.6" transform="rotate(49 121.4 506.7)" fill="#33c530" opacity="0.80"/><ellipse cx="86.8" cy="514.3" rx="1.5" ry="0.6" transform="rotate(-50 86.8 514.3)" fill="#33c530" opacity="0.52"/><ellipse cx="100.4" cy="468.4" rx="1.7" ry="1.3" transform="rotate(-12 100.4 468.4)" fill="#33c530" opacity="0.62"/><ellipse cx="70.0" cy="494.9" rx="1.9" ry="1.0" transform="rotate(-41 70.0 494.9)" fill="#33c530" opacity="0.73"/><ellipse cx="90.4" cy="465.1" rx="2.4" ry="0.7" transform="rotate(22 90.4 465.1)" fill="#33c530" opacity="0.72"/><ellipse cx="57.1" cy="460.0" rx="2.6" ry="0.8" transform="rotate(-48 57.1 460.0)" fill="#33c530" opacity="0.87"/><ellipse cx="119.3" cy="502.5" rx="2.2" ry="0.9" transform="rotate(-7 119.3 502.5)" fill="#33c530" opacity="0.78"/><ellipse cx="79.9" cy="469.0" rx="2.9" ry="0.9" transform="rotate(-18 79.9 469.0)" fill="#33c530" opacity="0.78"/><ellipse cx="91.1" cy="458.2" rx="2.1" ry="1.4" transform="rotate(-40 91.1 458.2)" fill="#33c530" opacity="0.61"/><ellipse cx="105.4" cy="462.1" rx="1.9" ry="0.7" transform="rotate(-56 105.4 462.1)" fill="#33c530" opacity="0.36"/><ellipse cx="54.4" cy="464.5" rx="2.4" ry="1.1" transform="rotate(2 54.4 464.5)" fill="#33c530" opacity="0.66"/><ellipse cx="91.2" cy="469.0" rx="2.0" ry="1.1" transform="rotate(9 91.2 469.0)" fill="#33c530" opacity="0.65"/><ellipse cx="73.4" cy="474.0" rx="2.8" ry="1.2" transform="rotate(-18 73.4 474.0)" fill="#33c530" opacity="0.77"/><ellipse cx="123.1" cy="510.3" rx="3.3" ry="0.7" transform="rotate(-68 123.1 510.3)" fill="#33c530" opacity="0.51"/><ellipse cx="112.6" cy="463.7" rx="2.3" ry="1.0" transform="rotate(-59 112.6 463.7)" fill="#33c530" opacity="0.80"/><ellipse cx="68.7" cy="454.7" rx="2.9" ry="0.9" transform="rotate(0 68.7 454.7)" fill="#33c530" opacity="0.87"/><ellipse cx="62.9" cy="472.4" rx="3.4" ry="1.1" transform="rotate(2 62.9 472.4)" fill="#33c530" opacity="0.38"/><ellipse cx="121.0" cy="485.7" rx="2.8" ry="1.3" transform="rotate(21 121.0 485.7)" fill="#33c530" opacity="0.65"/><ellipse cx="68.4" cy="459.2" rx="3.0" ry="0.9" transform="rotate(-7 68.4 459.2)" fill="#33c530" opacity="0.85"/><ellipse cx="78.5" cy="479.0" rx="1.8" ry="0.9" transform="rotate(-27 78.5 479.0)" fill="#33c530" opacity="0.40"/><ellipse cx="119.9" cy="481.6" rx="2.2" ry="0.9" transform="rotate(-62 119.9 481.6)" fill="#33c530" opacity="0.69"/><ellipse cx="121.8" cy="484.3" rx="3.4" ry="0.9" transform="rotate(-33 121.8 484.3)" fill="#33c530" opacity="0.48"/><ellipse cx="56.2" cy="454.0" rx="1.9" ry="0.8" transform="rotate(-34 56.2 454.0)" fill="#33c530" opacity="0.41"/><ellipse cx="55.2" cy="460.8" rx="3.1" ry="1.0" transform="rotate(-34 55.2 460.8)" fill="#33c530" opacity="0.64"/><ellipse cx="107.2" cy="486.6" rx="2.5" ry="0.8" transform="rotate(24 107.2 486.6)" fill="#33c530" opacity="0.57"/><ellipse cx="122.3" cy="517.0" rx="2.6" ry="1.1" transform="rotate(43 122.3 517.0)" fill="#33c530" opacity="0.41"/><ellipse cx="103.6" cy="462.8" rx="2.7" ry="1.2" transform="rotate(49 103.6 462.8)" fill="#33c530" opacity="0.77"/><ellipse cx="122.8" cy="479.7" rx="1.6" ry="1.0" transform="rotate(21 122.8 479.7)" fill="#33c530" opacity="0.50"/><ellipse cx="112.3" cy="499.7" rx="1.9" ry="1.0" transform="rotate(44 112.3 499.7)" fill="#33c530" opacity="0.60"/><ellipse cx="61.8" cy="470.5" rx="1.6" ry="1.1" transform="rotate(-50 61.8 470.5)" fill="#33c530" opacity="0.72"/><ellipse cx="106.0" cy="495.8" rx="1.9" ry="1.2" transform="rotate(19 106.0 495.8)" fill="#33c530" opacity="0.69"/><ellipse cx="104.9" cy="458.7" rx="3.2" ry="1.1" transform="rotate(-20 104.9 458.7)" fill="#33c530" opacity="0.48"/><ellipse cx="105.0" cy="508.1" rx="3.2" ry="1.4" transform="rotate(-61 105.0 508.1)" fill="#33c530" opacity="0.85"/><ellipse cx="117.3" cy="517.0" rx="2.7" ry="1.1" transform="rotate(-67 117.3 517.0)" fill="#33c530" opacity="0.88"/><ellipse cx="65.6" cy="471.1" rx="2.6" ry="0.9" transform="rotate(18 65.6 471.1)" fill="#33c530" opacity="0.38"/><ellipse cx="66.2" cy="462.0" rx="2.7" ry="1.1" transform="rotate(-26 66.2 462.0)" fill="#33c530" opacity="0.50"/><ellipse cx="69.5" cy="497.8" rx="1.7" ry="1.1" transform="rotate(-49 69.5 497.8)" fill="#33c530" opacity="0.56"/><ellipse cx="119.2" cy="511.5" rx="2.1" ry="0.6" transform="rotate(-29 119.2 511.5)" fill="#33c530" opacity="0.41"/><ellipse cx="115.5" cy="472.9" rx="2.3" ry="1.2" transform="rotate(48 115.5 472.9)" fill="#33c530" opacity="0.60"/><ellipse cx="120.8" cy="519.8" rx="3.1" ry="1.0" transform="rotate(-59 120.8 519.8)" fill="#33c530" opacity="0.78"/><ellipse cx="97.4" cy="493.2" rx="1.7" ry="0.9" transform="rotate(-53 97.4 493.2)" fill="#33c530" opacity="0.51"/><ellipse cx="79.5" cy="476.8" rx="2.2" ry="1.1" transform="rotate(13 79.5 476.8)" fill="#33c530" opacity="0.80"/><ellipse cx="55.0" cy="482.4" rx="2.7" ry="0.8" transform="rotate(42 55.0 482.4)" fill="#33c530" opacity="0.60"/><ellipse cx="50.3" cy="489.3" rx="2.5" ry="1.0" transform="rotate(-53 50.3 489.3)" fill="#33c530" opacity="0.47"/><ellipse cx="80.4" cy="455.7" rx="1.9" ry="0.7" transform="rotate(45 80.4 455.7)" fill="#33c530" opacity="0.65"/><ellipse cx="97.8" cy="461.1" rx="2.0" ry="0.6" transform="rotate(2 97.8 461.1)" fill="#33c530" opacity="0.73"/><ellipse cx="67.0" cy="468.3" rx="2.7" ry="0.7" transform="rotate(-63 67.0 468.3)" fill="#33c530" opacity="0.83"/><ellipse cx="76.6" cy="473.7" rx="1.5" ry="1.0" transform="rotate(-41 76.6 473.7)" fill="#33c530" opacity="0.61"/><ellipse cx="106.4" cy="509.3" rx="2.2" ry="0.7" transform="rotate(19 106.4 509.3)" fill="#33c530" opacity="0.58"/><ellipse cx="103.5" cy="498.5" rx="2.7" ry="0.9" transform="rotate(-45 103.5 498.5)" fill="#33c530" opacity="0.72"/><ellipse cx="119.4" cy="467.4" rx="2.9" ry="1.1" transform="rotate(37 119.4 467.4)" fill="#33c530" opacity="0.84"/><ellipse cx="104.3" cy="471.5" rx="2.0" ry="1.1" transform="rotate(-49 104.3 471.5)" fill="#33c530" opacity="0.53"/><ellipse cx="111.1" cy="459.6" rx="2.2" ry="1.0" transform="rotate(48 111.1 459.6)" fill="#33c530" opacity="0.80"/><ellipse cx="105.2" cy="476.3" rx="1.6" ry="0.7" transform="rotate(43 105.2 476.3)" fill="#33c530" opacity="0.70"/><ellipse cx="121.6" cy="461.5" rx="3.1" ry="1.1" transform="rotate(-15 121.6 461.5)" fill="#33c530" opacity="0.71"/><ellipse cx="73.1" cy="481.7" rx="1.6" ry="1.1" transform="rotate(-50 73.1 481.7)" fill="#33c530" opacity="0.87"/><ellipse cx="121.8" cy="460.6" rx="2.6" ry="0.8" transform="rotate(-60 121.8 460.6)" fill="#33c530" opacity="0.73"/><ellipse cx="58.8" cy="470.6" rx="3.0" ry="1.2" transform="rotate(-63 58.8 470.6)" fill="#33c530" opacity="0.41"/><ellipse cx="96.4" cy="460.0" rx="2.1" ry="1.0" transform="rotate(-59 96.4 460.0)" fill="#33c530" opacity="0.65"/><ellipse cx="77.1" cy="466.3" rx="3.2" ry="1.0" transform="rotate(-20 77.1 466.3)" fill="#33c530" opacity="0.80"/><ellipse cx="83.7" cy="469.4" rx="1.9" ry="1.1" transform="rotate(-29 83.7 469.4)" fill="#33c530" opacity="0.37"/><ellipse cx="67.3" cy="470.2" rx="2.9" ry="1.3" transform="rotate(30 67.3 470.2)" fill="#33c530" opacity="0.42"/><ellipse cx="63.5" cy="474.0" rx="3.2" ry="1.3" transform="rotate(30 63.5 474.0)" fill="#33c530" opacity="0.36"/><ellipse cx="115.6" cy="466.2" rx="3.2" ry="0.7" transform="rotate(-49 115.6 466.2)" fill="#33c530" opacity="0.59"/><ellipse cx="103.5" cy="506.2" rx="3.4" ry="1.1" transform="rotate(47 103.5 506.2)" fill="#33c530" opacity="0.47"/><ellipse cx="107.8" cy="491.2" rx="3.3" ry="1.3" transform="rotate(-7 107.8 491.2)" fill="#33c530" opacity="0.57"/><ellipse cx="114.0" cy="463.5" rx="1.6" ry="0.9" transform="rotate(-31 114.0 463.5)" fill="#33c530" opacity="0.35"/><ellipse cx="122.8" cy="512.3" rx="2.0" ry="1.2" transform="rotate(-63 122.8 512.3)" fill="#33c530" opacity="0.51"/><ellipse cx="56.4" cy="482.7" rx="2.3" ry="1.0" transform="rotate(-55 56.4 482.7)" fill="#33c530" opacity="0.76"/><ellipse cx="103.9" cy="493.3" rx="3.1" ry="1.2" transform="rotate(-32 103.9 493.3)" fill="#33c530" opacity="0.87"/><ellipse cx="108.5" cy="504.4" rx="3.1" ry="0.7" transform="rotate(-17 108.5 504.4)" fill="#33c530" opacity="0.75"/><ellipse cx="97.2" cy="517.4" rx="2.1" ry="1.0" transform="rotate(-21 97.2 517.4)" fill="#33c530" opacity="0.76"/><ellipse cx="56.1" cy="481.2" rx="3.3" ry="0.9" transform="rotate(-57 56.1 481.2)" fill="#33c530" opacity="0.48"/><ellipse cx="121.3" cy="498.4" rx="1.6" ry="1.2" transform="rotate(-51 121.3 498.4)" fill="#33c530" opacity="0.69"/><ellipse cx="109.5" cy="474.2" rx="2.1" ry="1.2" transform="rotate(-18 109.5 474.2)" fill="#33c530" opacity="0.40"/><ellipse cx="104.6" cy="477.2" rx="2.1" ry="1.0" transform="rotate(-58 104.6 477.2)" fill="#33c530" opacity="0.69"/><ellipse cx="115.0" cy="470.8" rx="2.0" ry="0.7" transform="rotate(5 115.0 470.8)" fill="#33c530" opacity="0.39"/><ellipse cx="75.2" cy="457.1" rx="2.8" ry="1.1" transform="rotate(-42 75.2 457.1)" fill="#33c530" opacity="0.70"/><ellipse cx="96.6" cy="479.8" rx="2.0" ry="1.2" transform="rotate(-35 96.6 479.8)" fill="#33c530" opacity="0.40"/><ellipse cx="64.9" cy="489.0" rx="1.6" ry="0.7" transform="rotate(-8 64.9 489.0)" fill="#33c530" opacity="0.42"/><ellipse cx="64.5" cy="517.0" rx="2.8" ry="1.4" transform="rotate(-52 64.5 517.0)" fill="#33c530" opacity="0.86"/><ellipse cx="115.4" cy="504.1" rx="3.0" ry="0.8" transform="rotate(42 115.4 504.1)" fill="#33c530" opacity="0.74"/><ellipse cx="82.0" cy="514.6" rx="2.1" ry="0.8" transform="rotate(-32 82.0 514.6)" fill="#33c530" opacity="0.71"/><ellipse cx="57.9" cy="472.0" rx="3.0" ry="1.4" transform="rotate(25 57.9 472.0)" fill="#33c530" opacity="0.83"/><ellipse cx="112.4" cy="462.2" rx="3.1" ry="0.8" transform="rotate(15 112.4 462.2)" fill="#33c530" opacity="0.82"/><ellipse cx="106.7" cy="462.7" rx="2.7" ry="0.7" transform="rotate(9 106.7 462.7)" fill="#33c530" opacity="0.85"/><ellipse cx="118.8" cy="483.9" rx="3.2" ry="0.9" transform="rotate(-42 118.8 483.9)" fill="#33c530" opacity="0.85"/><ellipse cx="51.8" cy="517.7" rx="3.4" ry="0.9" transform="rotate(17 51.8 517.7)" fill="#33c530" opacity="0.68"/><ellipse cx="107.4" cy="500.3" rx="2.3" ry="1.0" transform="rotate(-14 107.4 500.3)" fill="#33c530" opacity="0.66"/><ellipse cx="101.7" cy="480.8" rx="2.9" ry="0.8" transform="rotate(29 101.7 480.8)" fill="#33c530" opacity="0.43"/><ellipse cx="101.2" cy="498.1" rx="2.4" ry="1.1" transform="rotate(-2 101.2 498.1)" fill="#33c530" opacity="0.78"/><ellipse cx="64.9" cy="478.3" rx="2.5" ry="1.0" transform="rotate(45 64.9 478.3)" fill="#33c530" opacity="0.88"/><ellipse cx="108.7" cy="515.5" rx="2.2" ry="0.7" transform="rotate(-55 108.7 515.5)" fill="#33c530" opacity="0.57"/><ellipse cx="89.7" cy="462.8" rx="2.5" ry="0.9" transform="rotate(12 89.7 462.8)" fill="#33c530" opacity="0.62"/><ellipse cx="64.2" cy="479.1" rx="3.2" ry="1.0" transform="rotate(-38 64.2 479.1)" fill="#33c530" opacity="0.88"/><ellipse cx="120.6" cy="483.7" rx="2.6" ry="0.8" transform="rotate(20 120.6 483.7)" fill="#33c530" opacity="0.86"/><ellipse cx="66.3" cy="455.9" rx="3.2" ry="1.3" transform="rotate(39 66.3 455.9)" fill="#33c530" opacity="0.69"/><ellipse cx="88.0" cy="472.3" rx="3.2" ry="1.0" transform="rotate(-17 88.0 472.3)" fill="#33c530" opacity="0.89"/><ellipse cx="110.0" cy="491.5" rx="3.3" ry="1.3" transform="rotate(-20 110.0 491.5)" fill="#33c530" opacity="0.45"/><ellipse cx="117.7" cy="501.7" rx="2.3" ry="1.2" transform="rotate(19 117.7 501.7)" fill="#33c530" opacity="0.63"/><ellipse cx="71.8" cy="469.4" rx="3.2" ry="1.1" transform="rotate(-2 71.8 469.4)" fill="#33c530" opacity="0.71"/><ellipse cx="107.1" cy="479.9" rx="1.9" ry="1.2" transform="rotate(8 107.1 479.9)" fill="#33c530" opacity="0.86"/><ellipse cx="102.9" cy="513.1" rx="1.7" ry="0.7" transform="rotate(7 102.9 513.1)" fill="#33c530" opacity="0.60"/><ellipse cx="123.0" cy="461.9" rx="2.2" ry="0.9" transform="rotate(6 123.0 461.9)" fill="#33c530" opacity="0.42"/><ellipse cx="118.9" cy="483.8" rx="3.4" ry="0.7" transform="rotate(-41 118.9 483.8)" fill="#33c530" opacity="0.73"/><ellipse cx="72.3" cy="481.9" rx="3.2" ry="0.8" transform="rotate(-45 72.3 481.9)" fill="#33c530" opacity="0.65"/><ellipse cx="95.5" cy="460.1" rx="2.6" ry="1.2" transform="rotate(-54 95.5 460.1)" fill="#33c530" opacity="0.82"/><ellipse cx="120.6" cy="458.8" rx="2.2" ry="1.4" transform="rotate(10 120.6 458.8)" fill="#33c530" opacity="0.62"/><ellipse cx="102.1" cy="513.9" rx="3.0" ry="0.9" transform="rotate(33 102.1 513.9)" fill="#33c530" opacity="0.74"/><ellipse cx="113.4" cy="518.0" rx="1.6" ry="1.0" transform="rotate(23 113.4 518.0)" fill="#33c530" opacity="0.52"/><ellipse cx="87.6" cy="479.3" rx="3.0" ry="1.1" transform="rotate(-18 87.6 479.3)" fill="#33c530" opacity="0.50"/><ellipse cx="64.3" cy="468.3" rx="2.5" ry="1.2" transform="rotate(-19 64.3 468.3)" fill="#33c530" opacity="0.89"/><ellipse cx="69.1" cy="472.6" rx="2.8" ry="0.6" transform="rotate(-69 69.1 472.6)" fill="#33c530" opacity="0.68"/><ellipse cx="97.2" cy="502.6" rx="2.6" ry="1.4" transform="rotate(-45 97.2 502.6)" fill="#33c530" opacity="0.36"/><ellipse cx="74.3" cy="473.6" rx="2.8" ry="0.7" transform="rotate(23 74.3 473.6)" fill="#33c530" opacity="0.74"/><ellipse cx="116.0" cy="455.2" rx="3.3" ry="1.0" transform="rotate(2 116.0 455.2)" fill="#33c530" opacity="0.63"/><ellipse cx="116.3" cy="508.7" rx="2.1" ry="1.4" transform="rotate(-34 116.3 508.7)" fill="#33c530" opacity="0.70"/><ellipse cx="116.7" cy="491.7" rx="3.4" ry="1.1" transform="rotate(-18 116.7 491.7)" fill="#33c530" opacity="0.64"/><ellipse cx="76.8" cy="485.0" rx="2.0" ry="0.7" transform="rotate(-17 76.8 485.0)" fill="#33c530" opacity="0.55"/><ellipse cx="118.0" cy="474.3" rx="2.1" ry="1.2" transform="rotate(-4 118.0 474.3)" fill="#33c530" opacity="0.52"/><ellipse cx="116.3" cy="502.5" rx="2.2" ry="1.0" transform="rotate(7 116.3 502.5)" fill="#33c530" opacity="0.50"/><ellipse cx="119.5" cy="481.2" rx="2.7" ry="1.0" transform="rotate(46 119.5 481.2)" fill="#33c530" opacity="0.78"/><ellipse cx="69.1" cy="478.9" rx="3.1" ry="1.2" transform="rotate(16 69.1 478.9)" fill="#33c530" opacity="0.88"/><ellipse cx="106.6" cy="458.3" rx="1.7" ry="1.3" transform="rotate(41 106.6 458.3)" fill="#33c530" opacity="0.79"/><ellipse cx="50.2" cy="480.3" rx="3.3" ry="1.2" transform="rotate(39 50.2 480.3)" fill="#33c530" opacity="0.35"/><ellipse cx="107.2" cy="492.7" rx="3.0" ry="0.7" transform="rotate(-41 107.2 492.7)" fill="#33c530" opacity="0.56"/><ellipse cx="120.0" cy="481.3" rx="2.2" ry="1.2" transform="rotate(8 120.0 481.3)" fill="#33c530" opacity="0.55"/><ellipse cx="112.2" cy="512.9" rx="2.4" ry="0.7" transform="rotate(-4 112.2 512.9)" fill="#33c530" opacity="0.85"/><ellipse cx="85.2" cy="466.8" rx="2.7" ry="1.2" transform="rotate(31 85.2 466.8)" fill="#33c530" opacity="0.76"/><ellipse cx="71.4" cy="479.2" rx="1.9" ry="0.6" transform="rotate(-65 71.4 479.2)" fill="#33c530" opacity="0.58"/><ellipse cx="88.4" cy="471.4" rx="2.0" ry="0.9" transform="rotate(40 88.4 471.4)" fill="#33c530" opacity="0.85"/><ellipse cx="100.1" cy="516.0" rx="2.9" ry="1.0" transform="rotate(19 100.1 516.0)" fill="#33c530" opacity="0.77"/><ellipse cx="86.0" cy="459.3" rx="1.8" ry="1.0" transform="rotate(20 86.0 459.3)" fill="#33c530" opacity="0.81"/><ellipse cx="71.1" cy="462.0" rx="3.5" ry="1.2" transform="rotate(37 71.1 462.0)" fill="#33c530" opacity="0.73"/><ellipse cx="101.4" cy="519.7" rx="3.2" ry="0.6" transform="rotate(-53 101.4 519.7)" fill="#33c530" opacity="0.64"/><ellipse cx="66.3" cy="455.1" rx="2.4" ry="1.1" transform="rotate(-4 66.3 455.1)" fill="#33c530" opacity="0.38"/><ellipse cx="115.3" cy="481.0" rx="3.3" ry="1.3" transform="rotate(-26 115.3 481.0)" fill="#33c530" opacity="0.87"/><ellipse cx="114.3" cy="501.9" rx="1.8" ry="1.2" transform="rotate(43 114.3 501.9)" fill="#33c530" opacity="0.55"/><ellipse cx="120.3" cy="462.8" rx="2.1" ry="0.8" transform="rotate(-25 120.3 462.8)" fill="#33c530" opacity="0.76"/><ellipse cx="73.0" cy="472.4" rx="3.0" ry="0.9" transform="rotate(43 73.0 472.4)" fill="#33c530" opacity="0.89"/><ellipse cx="107.7" cy="505.2" rx="2.2" ry="1.4" transform="rotate(17 107.7 505.2)" fill="#33c530" opacity="0.76"/><ellipse cx="121.5" cy="474.3" rx="2.6" ry="1.3" transform="rotate(-3 121.5 474.3)" fill="#33c530" opacity="0.82"/><ellipse cx="55.5" cy="474.6" rx="2.3" ry="0.9" transform="rotate(-60 55.5 474.6)" fill="#33c530" opacity="0.58"/><ellipse cx="91.4" cy="467.9" rx="2.5" ry="0.7" transform="rotate(-26 91.4 467.9)" fill="#33c530" opacity="0.76"/><ellipse cx="111.1" cy="491.0" rx="2.2" ry="0.7" transform="rotate(13 111.1 491.0)" fill="#33c530" opacity="0.60"/><ellipse cx="111.3" cy="501.5" rx="1.6" ry="1.0" transform="rotate(29 111.3 501.5)" fill="#33c530" opacity="0.45"/><ellipse cx="103.2" cy="517.4" rx="1.6" ry="0.7" transform="rotate(-63 103.2 517.4)" fill="#33c530" opacity="0.42"/><ellipse cx="62.6" cy="472.7" rx="2.2" ry="1.0" transform="rotate(32 62.6 472.7)" fill="#33c530" opacity="0.78"/><ellipse cx="62.9" cy="488.3" rx="3.4" ry="1.1" transform="rotate(-12 62.9 488.3)" fill="#33c530" opacity="0.52"/><ellipse cx="97.3" cy="488.4" rx="2.9" ry="1.3" transform="rotate(6 97.3 488.4)" fill="#33c530" opacity="0.89"/><ellipse cx="110.0" cy="465.0" rx="2.4" ry="0.6" transform="rotate(31 110.0 465.0)" fill="#33c530" opacity="0.76"/><ellipse cx="109.5" cy="479.2" rx="2.9" ry="0.8" transform="rotate(12 109.5 479.2)" fill="#33c530" opacity="0.72"/><circle cx="71.6" cy="471" r="2.5" fill="#2a50d0" opacity="0.8"/><circle cx="103.8" cy="475.4" r="2.5" fill="#2a50d0" opacity="0.8"/>
<rect x="60.8" y="481.7" width="1.2" height="1.2" fill="#e040c8"/><rect x="79.3" y="510.6" width="1.2" height="1.2" fill="#f0a0f0"/><rect x="64.3" y="500.2" width="1.2" height="1.2" fill="#a02080"/><rect x="87.3" y="452.7" width="1.2" height="1.2" fill="#f0a0f0"/><rect x="81.4" y="485.6" width="1.2" height="1.2" fill="#c03060"/><rect x="51.1" y="453.1" width="1.2" height="1.2" fill="#f0a0f0"/><rect x="105.5" y="499.8" width="1.2" height="1.2" fill="#f0a0f0"/><rect x="94.2" y="518.1" width="1.2" height="1.2" fill="#a02080"/><rect x="90.8" y="493.5" width="1.2" height="1.2" fill="#c03060"/><rect x="117.5" y="507.1" width="1.2" height="1.2" fill="#a02080"/><rect x="70.5" y="500.8" width="1.2" height="1.2" fill="#c03060"/><rect x="114.0" y="478.4" width="1.2" height="1.2" fill="#a02080"/><rect x="114.4" y="491.0" width="1.2" height="1.2" fill="#e040c8"/><rect x="75.6" y="458.1" width="1.2" height="1.2" fill="#c03060"/><rect x="51.5" y="463.8" width="1.2" height="1.2" fill="#e040c8"/><rect x="63.5" y="525.2" width="1.2" height="1.2" fill="#c03060"/><rect x="57.3" y="455.5" width="1.2" height="1.2" fill="#a02080"/><rect x="97.7" y="452.0" width="1.2" height="1.2" fill="#e040c8"/><rect x="78.4" y="490.2" width="1.2" height="1.2" fill="#f0a0f0"/><rect x="69.7" y="520.7" width="1.2" height="1.2" fill="#c03060"/><rect x="57.3" y="517.5" width="1.2" height="1.2" fill="#e040c8"/><rect x="95.8" y="472.7" width="1.2" height="1.2" fill="#c03060"/><rect x="110.9" y="465.0" width="1.2" height="1.2" fill="#a02080"/><rect x="122.6" y="466.2" width="1.2" height="1.2" fill="#f0a0f0"/><rect x="105.0" y="457.6" width="1.2" height="1.2" fill="#e040c8"/><rect x="86.9" y="508.0" width="1.2" height="1.2" fill="#a02080"/><rect x="100.6" y="477.9" width="1.2" height="1.2" fill="#a02080"/><rect x="59.2" y="496.6" width="1.2" height="1.2" fill="#c03060"/><rect x="117.9" y="511.8" width="1.2" height="1.2" fill="#f0a0f0"/><rect x="84.8" y="490.7" width="1.2" height="1.2" fill="#e040c8"/><rect x="98.2" y="504.8" width="1.2" height="1.2" fill="#f0a0f0"/><rect x="86.8" y="520.1" width="1.2" height="1.2" fill="#a02080"/><rect x="99.8" y="452.9" width="1.2" height="1.2" fill="#a02080"/><rect x="68.1" y="453.7" width="1.2" height="1.2" fill="#c03060"/><rect x="113.5" y="450.4" width="1.2" height="1.2" fill="#f0a0f0"/><rect x="112.2" y="477.2" width="1.2" height="1.2" fill="#a02080"/><rect x="61.6" y="469.9" width="1.2" height="1.2" fill="#a02080"/><rect x="82.2" y="460.3" width="1.2" height="1.2" fill="#a02080"/><rect x="62.4" y="486.0" width="1.2" height="1.2" fill="#c03060"/><rect x="55.0" y="490.0" width="1.2" height="1.2" fill="#e040c8"/><rect x="122.4" y="522.7" width="1.2" height="1.2" fill="#e040c8"/><rect x="108.0" y="525.7" width="1.2" height="1.2" fill="#f0a0f0"/><rect x="113.5" y="523.6" width="1.2" height="1.2" fill="#c03060"/><rect x="99.1" y="471.1" width="1.2" height="1.2" fill="#c03060"/><rect x="53.6" y="523.6" width="1.2" height="1.2" fill="#c03060"/><rect x="69.7" y="469.7" width="1.2" height="1.2" fill="#e040c8"/><rect x="87.9" y="458.7" width="1.2" height="1.2" fill="#a02080"/><rect x="82.1" y="495.3" width="1.2" height="1.2" fill="#c03060"/><rect x="57.7" y="465.8" width="1.2" height="1.2" fill="#f0a0f0"/><rect x="120.9" y="492.0" width="1.2" height="1.2" fill="#a02080"/><rect x="68.2" y="520.0" width="1.2" height="1.2" fill="#e040c8"/><rect x="81.8" y="467.7" width="1.2" height="1.2" fill="#e040c8"/><rect x="82.5" y="472.9" width="1.2" height="1.2" fill="#f0a0f0"/><rect x="60.1" y="482.0" width="1.2" height="1.2" fill="#a02080"/><rect x="73.2" y="502.8" width="1.2" height="1.2" fill="#f0a0f0"/><rect x="81.8" y="508.7" width="1.2" height="1.2" fill="#c03060"/><rect x="109.1" y="472.9" width="1.2" height="1.2" fill="#f0a0f0"/><rect x="69.5" y="456.0" width="1.2" height="1.2" fill="#c03060"/><rect x="54.5" y="513.7" width="1.2" height="1.2" fill="#e040c8"/><rect x="50.5" y="472.1" width="1.2" height="1.2" fill="#f0a0f0"/><rect x="85.4" y="463.6" width="1.2" height="1.2" fill="#c03060"/><rect x="100.5" y="479.9" width="1.2" height="1.2" fill="#f0a0f0"/><rect x="124.2" y="503.9" width="1.2" height="1.2" fill="#e040c8"/><rect x="71.4" y="483.4" width="1.2" height="1.2" fill="#e040c8"/><rect x="122.1" y="459.0" width="1.2" height="1.2" fill="#f0a0f0"/><rect x="51.4" y="518.8" width="1.2" height="1.2" fill="#f0a0f0"/><rect x="95.4" y="492.2" width="1.2" height="1.2" fill="#e040c8"/><rect x="124.1" y="503.8" width="1.2" height="1.2" fill="#f0a0f0"/><rect x="111.8" y="509.0" width="1.2" height="1.2" fill="#c03060"/><rect x="98.2" y="524.4" width="1.2" height="1.2" fill="#c03060"/><rect x="103.6" y="477.6" width="1.2" height="1.2" fill="#e040c8"/><rect x="84.6" y="458.5" width="1.2" height="1.2" fill="#e040c8"/><rect x="114.7" y="475.4" width="1.2" height="1.2" fill="#c03060"/><rect x="83.0" y="466.1" width="1.2" height="1.2" fill="#e040c8"/><rect x="124.1" y="455.1" width="1.2" height="1.2" fill="#f0a0f0"/><rect x="75.7" y="470.6" width="1.2" height="1.2" fill="#c03060"/><rect x="105.2" y="461.2" width="1.2" height="1.2" fill="#e040c8"/><rect x="84.3" y="488.2" width="1.2" height="1.2" fill="#f0a0f0"/><rect x="52.5" y="474.6" width="1.2" height="1.2" fill="#a02080"/><rect x="110.2" y="508.4" width="1.2" height="1.2" fill="#a02080"/><rect x="55.0" y="459.4" width="1.2" height="1.2" fill="#c03060"/><rect x="76.2" y="461.7" width="1.2" height="1.2" fill="#f0a0f0"/><rect x="115.2" y="460.5" width="1.2" height="1.2" fill="#c03060"/><rect x="84.3" y="517.4" width="1.2" height="1.2" fill="#f0a0f0"/><rect x="75.4" y="465.6" width="1.2" height="1.2" fill="#a02080"/><rect x="97.7" y="470.9" width="1.2" height="1.2" fill="#a02080"/><rect x="105.0" y="514.4" width="1.2" height="1.2" fill="#c03060"/><rect x="63.8" y="509.7" width="1.2" height="1.2" fill="#e040c8"/><rect x="100.8" y="497.2" width="1.2" height="1.2" fill="#c03060"/><rect x="55.5" y="514.1" width="1.2" height="1.2" fill="#f0a0f0"/><rect x="65.9" y="503.9" width="1.2" height="1.2" fill="#a02080"/><rect x="117.3" y="468.0" width="1.2" height="1.2" fill="#f0a0f0"/><rect x="52.3" y="466.5" width="1.2" height="1.2" fill="#f0a0f0"/><rect x="80.2" y="513.7" width="1.2" height="1.2" fill="#c03060"/><rect x="63.2" y="500.3" width="1.2" height="1.2" fill="#e040c8"/><rect x="79.6" y="492.6" width="1.2" height="1.2" fill="#a02080"/><rect x="103.9" y="479.9" width="1.2" height="1.2" fill="#a02080"/><rect x="98.1" y="456.0" width="1.2" height="1.2" fill="#c03060"/><rect x="74.3" y="510.0" width="1.2" height="1.2" fill="#e040c8"/><rect x="50.8" y="512.2" width="1.2" height="1.2" fill="#f0a0f0"/><rect x="115.2" y="512.7" width="1.2" height="1.2" fill="#f0a0f0"/><rect x="80.6" y="463.9" width="1.2" height="1.2" fill="#c03060"/><rect x="79.0" y="450.9" width="1.2" height="1.2" fill="#a02080"/><rect x="51.0" y="450.9" width="1.2" height="1.2" fill="#a02080"/><rect x="86.4" y="522.3" width="1.2" height="1.2" fill="#c03060"/><rect x="59.4" y="523.8" width="1.2" height="1.2" fill="#a02080"/><rect x="110.6" y="518.8" width="1.2" height="1.2" fill="#c03060"/><rect x="91.2" y="486.7" width="1.2" height="1.2" fill="#e040c8"/><rect x="90.6" y="469.8" width="1.2" height="1.2" fill="#f0a0f0"/><rect x="89.3" y="462.4" width="1.2" height="1.2" fill="#e040c8"/></g>
<rect x="156" y="451" width="75" height="74.3" fill="#d8d8da"/>
<path d="M171.5,456.5 L184.4,454.3 L193,457.9 L200.2,466.5 L204.5,473.7 L211.6,479.4 L223,479.4 L228.8,485.1 L227.4,495.2 L220.2,502.3 L228.8,506.6 L221.7,510.9 L218.8,519.5 L213,516.7 L208.8,512.4 L204.5,516.7 L193,522.4 L184.4,513.8 L177.2,505.2 L168.6,505.2 L160,499.5 L160,490.9 L165.8,482.3 L164.3,476.5 L168.6,466.5 Z" fill="#1d1d80" stroke="#d9a0b0" stroke-width="0.4"/>
<path d="M184.4,454.3 L193,457.9 L200.2,466.5 L204.5,473.7 L211.6,479.4 L223,479.4 L228.8,485.1 L227.4,495.2 L220.2,502.3 L228.8,506.6 L221.7,510.9 L218.8,519.5 L213,516.7 L208.8,512.4 L203,505 L197,494 L190,486 L187,472 L186,460 Z" fill="#4b4b4e"/>
<g clip-path="url(#spclip)"><circle cx="181.3" cy="477.0" r="1.7" fill="#701414" opacity="0.9"/><circle cx="188.7" cy="477.0" r="1.8" fill="#701414" opacity="0.9"/><circle cx="167.7" cy="469.6" r="1.8" fill="#701414" opacity="0.9"/><circle cx="181.9" cy="481.3" r="1.1" fill="#701414" opacity="0.9"/><circle cx="177.8" cy="463.7" r="1.5" fill="#701414" opacity="0.9"/><circle cx="180.2" cy="457.4" r="1.2" fill="#701414" opacity="0.9"/><circle cx="173.4" cy="481.7" r="1.7" fill="#701414" opacity="0.9"/><circle cx="170.7" cy="478.5" r="1.1" fill="#701414" opacity="0.9"/><circle cx="181.2" cy="460.4" r="1.0" fill="#701414" opacity="0.9"/><circle cx="187.0" cy="462.7" r="1.2" fill="#701414" opacity="0.9"/><circle cx="189.6" cy="480.6" r="1.3" fill="#701414" opacity="0.9"/><circle cx="189.1" cy="471.6" r="1.6" fill="#701414" opacity="0.9"/><circle cx="171.7" cy="482.4" r="1.6" fill="#701414" opacity="0.9"/><circle cx="189.2" cy="481.1" r="1.3" fill="#701414" opacity="0.9"/><circle cx="175.3" cy="461.5" r="1.1" fill="#701414" opacity="0.9"/><circle cx="168.5" cy="465.1" r="1.5" fill="#701414" opacity="0.9"/><circle cx="167.1" cy="475.3" r="1.3" fill="#701414" opacity="0.9"/><circle cx="174.1" cy="479.1" r="1.4" fill="#701414" opacity="0.9"/><circle cx="174.3" cy="470.0" r="1.6" fill="#701414" opacity="0.9"/><circle cx="168.3" cy="483.3" r="1.0" fill="#701414" opacity="0.9"/><circle cx="184.2" cy="479.8" r="1.0" fill="#701414" opacity="0.9"/><circle cx="185.1" cy="466.9" r="1.5" fill="#701414" opacity="0.9"/><circle cx="167.2" cy="458.3" r="1.2" fill="#701414" opacity="0.9"/><circle cx="189.0" cy="462.3" r="1.7" fill="#701414" opacity="0.9"/><circle cx="188.4" cy="482.4" r="1.3" fill="#701414" opacity="0.9"/><circle cx="175.2" cy="471.2" r="1.7" fill="#701414" opacity="0.9"/><circle cx="169.5" cy="477.2" r="1.7" fill="#701414" opacity="0.9"/><circle cx="186.8" cy="458.0" r="1.9" fill="#701414" opacity="0.9"/><circle cx="169.1" cy="466.2" r="1.5" fill="#701414" opacity="0.9"/><circle cx="188.1" cy="466.2" r="1.8" fill="#701414" opacity="0.9"/><circle cx="179.5" cy="465.4" r="1.3" fill="#701414" opacity="0.9"/><circle cx="171.1" cy="459.1" r="1.1" fill="#701414" opacity="0.9"/><circle cx="182.9" cy="483.9" r="1.1" fill="#701414" opacity="0.9"/><circle cx="168.1" cy="483.6" r="1.5" fill="#701414" opacity="0.9"/><circle cx="176.3" cy="463.4" r="1.5" fill="#701414" opacity="0.9"/><circle cx="186.0" cy="469.3" r="1.4" fill="#701414" opacity="0.9"/><circle cx="168.3" cy="481.7" r="1.0" fill="#701414" opacity="0.9"/><circle cx="178.4" cy="479.6" r="1.1" fill="#701414" opacity="0.9"/><circle cx="183.8" cy="482.6" r="1.6" fill="#701414" opacity="0.9"/><circle cx="185.1" cy="459.9" r="1.4" fill="#701414" opacity="0.9"/><circle cx="170.4" cy="479.8" r="1.3" fill="#701414" opacity="0.9"/><circle cx="177.4" cy="484.0" r="1.8" fill="#701414" opacity="0.9"/><circle cx="189.4" cy="469.2" r="1.4" fill="#701414" opacity="0.9"/><circle cx="183.8" cy="469.9" r="1.3" fill="#701414" opacity="0.9"/><circle cx="176.3" cy="461.0" r="1.3" fill="#701414" opacity="0.9"/><circle cx="189.7" cy="482.9" r="1.6" fill="#701414" opacity="0.9"/><circle cx="178.5" cy="466.1" r="1.1" fill="#701414" opacity="0.9"/><circle cx="173.3" cy="478.1" r="1.8" fill="#701414" opacity="0.9"/><circle cx="175.3" cy="478.2" r="1.7" fill="#701414" opacity="0.9"/><circle cx="183.0" cy="474.9" r="1.7" fill="#701414" opacity="0.9"/><circle cx="175.4" cy="476.0" r="1.3" fill="#701414" opacity="0.9"/><circle cx="178.2" cy="477.8" r="1.6" fill="#701414" opacity="0.9"/><circle cx="173.8" cy="482.5" r="1.6" fill="#701414" opacity="0.9"/><circle cx="180.4" cy="457.3" r="1.5" fill="#701414" opacity="0.9"/><circle cx="172.8" cy="475.1" r="1.4" fill="#701414" opacity="0.9"/><circle cx="185.8" cy="474.5" r="1.7" fill="#701414" opacity="0.9"/><circle cx="175.0" cy="474.4" r="1.7" fill="#701414" opacity="0.9"/><circle cx="186.0" cy="466.5" r="1.8" fill="#701414" opacity="0.9"/><circle cx="187.0" cy="475.6" r="1.9" fill="#701414" opacity="0.9"/><circle cx="189.0" cy="471.0" r="1.5" fill="#701414" opacity="0.9"/><circle cx="170.8" cy="479.6" r="1.8" fill="#701414" opacity="0.9"/><circle cx="178.0" cy="475.7" r="1.6" fill="#701414" opacity="0.9"/><circle cx="183.8" cy="461.6" r="1.7" fill="#701414" opacity="0.9"/><circle cx="180.4" cy="475.0" r="1.4" fill="#701414" opacity="0.9"/><circle cx="181.3" cy="477.9" r="1.6" fill="#701414" opacity="0.9"/><circle cx="183.6" cy="457.7" r="1.1" fill="#701414" opacity="0.9"/><circle cx="177.1" cy="474.6" r="1.2" fill="#701414" opacity="0.9"/><circle cx="182.8" cy="474.0" r="1.0" fill="#701414" opacity="0.9"/><circle cx="177.8" cy="463.1" r="1.0" fill="#701414" opacity="0.9"/><circle cx="170.1" cy="465.6" r="1.2" fill="#701414" opacity="0.9"/><circle cx="171.4" cy="458.0" r="1.4" fill="#701414" opacity="0.9"/><circle cx="175.7" cy="473.5" r="1.5" fill="#701414" opacity="0.9"/><circle cx="172.5" cy="481.4" r="1.0" fill="#701414" opacity="0.9"/><circle cx="176.3" cy="464.5" r="1.4" fill="#701414" opacity="0.9"/><circle cx="169.6" cy="479.4" r="1.3" fill="#701414" opacity="0.9"/><circle cx="167.8" cy="473.6" r="1.1" fill="#701414" opacity="0.9"/><circle cx="179.5" cy="466.2" r="1.5" fill="#701414" opacity="0.9"/><circle cx="189.0" cy="479.1" r="1.4" fill="#701414" opacity="0.9"/><circle cx="185.7" cy="474.3" r="1.3" fill="#701414" opacity="0.9"/><circle cx="170.3" cy="473.1" r="1.5" fill="#701414" opacity="0.9"/><circle cx="189.0" cy="483.1" r="1.5" fill="#701414" opacity="0.9"/><circle cx="175.1" cy="481.1" r="1.0" fill="#701414" opacity="0.9"/><circle cx="169.5" cy="472.3" r="1.6" fill="#701414" opacity="0.9"/><circle cx="170.2" cy="474.0" r="1.8" fill="#701414" opacity="0.9"/><circle cx="175.6" cy="468.7" r="1.2" fill="#701414" opacity="0.9"/><circle cx="173.7" cy="483.3" r="1.3" fill="#701414" opacity="0.9"/><circle cx="189.1" cy="481.7" r="1.5" fill="#701414" opacity="0.9"/><circle cx="173.0" cy="483.5" r="1.4" fill="#701414" opacity="0.9"/><circle cx="176.6" cy="465.6" r="1.9" fill="#701414" opacity="0.9"/><circle cx="178.3" cy="464.7" r="1.4" fill="#701414" opacity="0.9"/><circle cx="184.0" cy="506.9" r="1.4" fill="#701414" opacity="0.9"/><circle cx="188.3" cy="512.0" r="1.7" fill="#701414" opacity="0.9"/><circle cx="181.3" cy="504.0" r="1.2" fill="#701414" opacity="0.9"/><circle cx="204.4" cy="512.0" r="1.2" fill="#701414" opacity="0.9"/><circle cx="187.7" cy="492.0" r="1.9" fill="#701414" opacity="0.9"/><circle cx="188.3" cy="506.5" r="1.4" fill="#701414" opacity="0.9"/><circle cx="197.1" cy="506.3" r="1.7" fill="#701414" opacity="0.9"/><circle cx="184.0" cy="511.3" r="1.3" fill="#701414" opacity="0.9"/><circle cx="194.3" cy="497.8" r="1.3" fill="#701414" opacity="0.9"/><circle cx="194.2" cy="501.9" r="1.3" fill="#701414" opacity="0.9"/><circle cx="199.6" cy="505.9" r="1.0" fill="#701414" opacity="0.9"/><circle cx="187.3" cy="501.6" r="1.8" fill="#701414" opacity="0.9"/><circle cx="203.2" cy="504.5" r="1.0" fill="#701414" opacity="0.9"/><circle cx="200.5" cy="500.7" r="1.5" fill="#701414" opacity="0.9"/><circle cx="198.7" cy="507.2" r="1.4" fill="#701414" opacity="0.9"/><circle cx="203.8" cy="499.3" r="1.4" fill="#701414" opacity="0.9"/><circle cx="202.3" cy="493.3" r="1.3" fill="#701414" opacity="0.9"/><circle cx="201.8" cy="489.1" r="1.8" fill="#701414" opacity="0.9"/><circle cx="198.4" cy="500.9" r="1.3" fill="#701414" opacity="0.9"/><circle cx="200.5" cy="516.1" r="1.1" fill="#701414" opacity="0.9"/><circle cx="193.0" cy="504.6" r="1.4" fill="#701414" opacity="0.9"/><circle cx="189.3" cy="491.9" r="1.5" fill="#701414" opacity="0.9"/><circle cx="201.3" cy="489.2" r="1.2" fill="#701414" opacity="0.9"/><circle cx="201.5" cy="512.3" r="1.6" fill="#701414" opacity="0.9"/><circle cx="181.6" cy="510.1" r="1.9" fill="#701414" opacity="0.9"/><circle cx="206.0" cy="509.4" r="1.0" fill="#701414" opacity="0.9"/><circle cx="202.1" cy="494.0" r="1.6" fill="#701414" opacity="0.9"/><circle cx="204.8" cy="509.8" r="1.1" fill="#701414" opacity="0.9"/><circle cx="188.3" cy="516.4" r="1.1" fill="#701414" opacity="0.9"/><circle cx="196.3" cy="500.2" r="1.1" fill="#701414" opacity="0.9"/><circle cx="196.6" cy="488.4" r="1.1" fill="#701414" opacity="0.9"/><circle cx="190.5" cy="489.3" r="1.1" fill="#701414" opacity="0.9"/><circle cx="195.4" cy="510.8" r="1.8" fill="#701414" opacity="0.9"/><circle cx="184.4" cy="500.8" r="1.3" fill="#701414" opacity="0.9"/><circle cx="196.0" cy="502.7" r="1.8" fill="#701414" opacity="0.9"/><circle cx="190.4" cy="488.8" r="1.6" fill="#701414" opacity="0.9"/><circle cx="184.8" cy="507.2" r="1.5" fill="#701414" opacity="0.9"/><circle cx="203.8" cy="504.8" r="1.6" fill="#701414" opacity="0.9"/><circle cx="187.6" cy="504.7" r="1.2" fill="#701414" opacity="0.9"/><circle cx="199.8" cy="503.5" r="1.1" fill="#701414" opacity="0.9"/><circle cx="186.9" cy="498.9" r="1.7" fill="#701414" opacity="0.9"/><circle cx="185.5" cy="509.8" r="1.6" fill="#701414" opacity="0.9"/><circle cx="183.1" cy="508.4" r="1.1" fill="#701414" opacity="0.9"/><circle cx="184.1" cy="506.0" r="1.2" fill="#701414" opacity="0.9"/><circle cx="202.9" cy="502.4" r="1.3" fill="#701414" opacity="0.9"/><circle cx="200.9" cy="487.9" r="1.7" fill="#701414" opacity="0.9"/><circle cx="182.3" cy="491.8" r="1.9" fill="#701414" opacity="0.9"/><circle cx="198.0" cy="494.1" r="1.1" fill="#701414" opacity="0.9"/><circle cx="205.3" cy="508.3" r="1.7" fill="#701414" opacity="0.9"/><circle cx="184.5" cy="507.0" r="1.3" fill="#701414" opacity="0.9"/><circle cx="186.9" cy="497.7" r="1.6" fill="#701414" opacity="0.9"/><circle cx="189.7" cy="499.3" r="1.1" fill="#701414" opacity="0.9"/><circle cx="201.8" cy="507.7" r="1.7" fill="#701414" opacity="0.9"/><circle cx="191.8" cy="514.3" r="1.5" fill="#701414" opacity="0.9"/><circle cx="195.8" cy="505.3" r="1.7" fill="#701414" opacity="0.9"/><circle cx="190.9" cy="490.1" r="1.0" fill="#701414" opacity="0.9"/><circle cx="186.1" cy="488.3" r="1.8" fill="#701414" opacity="0.9"/><circle cx="193.0" cy="511.3" r="1.0" fill="#701414" opacity="0.9"/><circle cx="192.8" cy="515.5" r="1.6" fill="#701414" opacity="0.9"/><circle cx="191.7" cy="501.9" r="1.1" fill="#701414" opacity="0.9"/></g>
<path d="M171.5,489 L177.5,488 L175.5,495 L177,500 L171,499.5 Z M213.5,500 L221,500.5 L218.5,506 L212.5,505 Z" fill="#d8d8da"/>
<path d="M171.5,456.5 L184.4,454.3 L193,457.9 L200.2,466.5 L204.5,473.7 L211.6,479.4 L223,479.4 L228.8,485.1 L227.4,495.2 L220.2,502.3 L228.8,506.6 L221.7,510.9 L218.8,519.5 L213,516.7 L208.8,512.4 L204.5,516.7 L193,522.4 L184.4,513.8 L177.2,505.2 L168.6,505.2 L160,499.5 L160,490.9 L165.8,482.3 L164.3,476.5 L168.6,466.5 Z" fill="none" stroke="#e0a8b8" stroke-width="0.5" transform="translate(-0.8,-0.8) scale(1.004)"/>
<path d="M255,68 H501.5 V115.7 L501.00,115.70 L499.99,115.70 L498.99,115.70 L497.98,115.70 L496.98,115.70 L495.97,115.70 L494.97,115.70 L493.96,115.70 L492.95,115.70 L491.95,115.70 L490.94,115.70 L489.94,115.70 L488.93,115.70 L487.93,115.70 L486.92,115.70 L485.91,115.70 L484.91,115.70 L483.90,115.70 L482.90,115.70 L481.89,115.70 L480.89,115.70 L479.88,115.70 L478.87,115.70 L477.87,115.70 L476.86,115.70 L475.86,115.70 L474.85,115.70 L473.85,115.70 L472.84,115.70 L471.83,115.70 L470.83,115.70 L469.82,115.70 L468.82,115.70 L467.81,115.70 L466.81,115.70 L465.80,115.70 L464.79,115.70 L463.79,115.70 L462.78,115.70 L462.02,115.71 L461.03,115.93 L460.14,116.43 L459.43,117.16 L458.97,118.07 L458.78,119.07 L458.89,120.08 L459.29,121.02 L459.76,121.63 L460.45,122.36 L461.11,123.11 L461.76,123.87 L462.38,124.65 L462.99,125.45 L463.57,126.26 L464.13,127.09 L464.67,127.94 L465.19,128.79 L465.68,129.66 L466.15,130.55 L466.60,131.44 L467.03,132.35 L467.43,133.26 L467.80,134.19 L468.15,135.13 L468.48,136.08 L468.78,137.03 L469.06,137.99 L469.31,138.96 L469.53,139.94 L469.73,140.92 L469.91,141.90 L470.06,142.89 L470.18,143.89 L470.27,144.88 L470.34,145.88 L470.38,146.88 L470.40,147.88 L470.39,148.88 L470.35,149.88 L470.29,150.88 L470.20,151.88 L470.09,152.87 L469.94,153.86 L469.78,154.85 L469.58,155.83 L469.36,156.81 L469.12,157.78 L468.85,158.74 L468.55,159.70 L468.23,160.65 L467.89,161.59 L467.52,162.52 L467.12,163.44 L466.70,164.35 L466.26,165.25 L465.80,166.13 L465.31,167.00 L464.79,167.86 L464.26,168.71 L463.70,169.54 L463.13,170.36 L462.53,171.16 L461.91,171.95 L461.26,172.72 L460.60,173.47 L459.92,174.20 L459.22,174.92 L458.50,175.61 L457.77,176.29 L457.01,176.95 L456.24,177.59 L455.46,178.21 L454.65,178.80 L453.83,179.38 L453.00,179.93 L452.15,180.46 L451.29,180.97 L450.41,181.46 L449.53,181.92 L448.63,182.36 L447.72,182.78 L446.80,183.17 L445.86,183.53 L444.92,183.88 L443.97,184.19 L443.02,184.49 L442.05,184.75 L441.08,185.00 L440.10,185.21 L439.12,185.40 L438.13,185.56 L437.14,185.70 L436.15,185.81 L435.15,185.90 L434.15,185.96 L433.15,185.99 L432.15,186.00 L431.15,185.98 L430.15,185.93 L429.15,185.86 L428.15,185.76 L427.16,185.64 L426.17,185.49 L425.19,185.31 L424.21,185.11 L423.23,184.88 L422.26,184.62 L421.30,184.34 L420.35,184.04 L419.40,183.71 L418.47,183.35 L417.54,182.98 L416.63,182.57 L415.72,182.14 L414.83,181.69 L413.95,181.22 L413.08,180.72 L412.22,180.20 L411.38,179.66 L410.56,179.09 L409.74,178.51 L408.95,177.90 L408.17,177.27 L407.41,176.62 L406.66,175.96 L405.93,175.27 L405.22,174.56 L404.53,173.84 L403.86,173.09 L403.21,172.33 L402.58,171.56 L401.97,170.76 L401.38,169.95 L400.82,169.13 L400.27,168.29 L399.75,167.44 L399.25,166.57 L398.77,165.69 L398.31,164.80 L397.88,163.89 L397.48,162.98 L397.09,162.05 L396.74,161.12 L396.40,160.18 L396.10,159.22 L395.81,158.26 L395.55,157.30 L395.32,156.32 L395.12,155.34 L394.94,154.36 L394.78,153.37 L394.65,152.38 L394.55,151.38 L394.47,150.38 L394.43,149.38 L394.40,148.38 L394.41,147.38 L394.43,146.38 L394.49,145.38 L394.57,144.38 L394.68,143.39 L394.82,142.40 L394.98,141.41 L395.16,140.43 L395.37,139.45 L395.61,138.48 L395.88,137.51 L396.17,136.55 L396.48,135.60 L396.82,134.66 L397.18,133.73 L397.57,132.80 L397.98,131.89 L398.42,130.99 L398.88,130.10 L399.36,129.23 L399.87,128.36 L400.40,127.51 L400.95,126.68 L401.52,125.86 L402.11,125.05 L402.73,124.26 L403.36,123.49 L404.02,122.73 L404.70,121.99 L405.21,121.44 L405.74,120.57 L406.00,119.58 L405.96,118.56 L405.63,117.60 L405.04,116.77 L404.23,116.15 L403.28,115.78 L402.52,115.70 L401.52,115.70 L400.52,115.70 L399.52,115.70 L398.52,115.70 L397.52,115.70 L396.52,115.70 L395.52,115.70 L394.52,115.70 L393.52,115.70 L392.52,115.70 L391.52,115.70 L390.52,115.70 L389.52,115.70 L388.52,115.70 L387.52,115.70 L386.52,115.70 L385.52,115.70 L384.52,115.70 L383.52,115.70 L382.52,115.70 L381.52,115.70 L380.52,115.70 L379.52,115.70 L378.52,115.70 L377.52,115.70 L376.52,115.70 L375.52,115.70 L374.52,115.70 L373.52,115.70 L372.52,115.70 L371.52,115.70 L370.52,115.70 L369.52,115.70 L368.52,115.70 L367.52,115.70 L366.52,115.70 L365.52,115.70 L364.52,115.70 L363.51,115.70 L362.51,115.70 L361.51,115.70 L360.51,115.70 L359.51,115.70 L358.51,115.70 L357.51,115.70 L356.51,115.70 L355.51,115.70 L354.51,115.70 L353.51,115.70 L352.51,115.70 L351.51,115.70 L350.51,115.70 L349.51,115.70 L348.51,115.70 L347.51,115.70 L346.51,115.70 L345.51,115.70 L344.51,115.70 L343.51,115.70 L342.51,115.70 L341.51,115.70 L340.51,115.70 L339.51,115.70 L338.51,115.70 L337.51,115.70 L336.51,115.70 L335.51,115.70 L334.51,115.70 L333.51,115.70 L332.51,115.70 L331.51,115.70 L330.51,115.70 L329.51,115.70 L328.51,115.70 L327.51,115.70 L326.51,115.70 L325.51,115.70 L324.51,115.70 L323.51,115.70 L322.51,115.70 L321.51,115.70 L320.51,115.70 L319.51,115.70 L318.51,115.70 L317.51,115.70 L316.51,115.70 L315.51,115.70 L314.51,115.70 L313.51,115.70 L312.51,115.70 L311.51,115.70 L310.51,115.70 L309.51,115.70 L308.51,115.70 L307.51,115.70 L306.51,115.70 L305.51,115.70 L304.51,115.70 L303.51,115.70 L302.51,115.70 L301.51,115.70 L300.51,115.70 L299.51,115.70 L298.51,115.70 L297.51,115.70 L296.51,115.70 L295.51,115.70 L294.51,115.70 L293.51,115.70 L292.51,115.70 L291.51,115.70 L290.51,115.70 L289.51,115.70 L288.51,115.70 L287.50,115.70 L286.50,115.70 L285.50,115.70 L284.50,115.70 L283.50,115.70 L282.50,115.70 L281.50,115.70 L280.50,115.70 L279.50,115.70 L278.50,115.70 L277.50,115.70 L276.50,115.70 L275.50,115.70 L274.50,115.70 L273.50,115.70 L272.50,115.70 L271.50,115.70 L270.50,115.70 L269.50,115.70 L268.50,115.70 L267.50,115.70 L266.50,115.70 L265.50,115.70 L264.50,115.70 L263.50,115.70 L262.50,115.70 L261.50,115.70 L260.50,115.70 L259.50,115.70 L258.50,115.70 L257.50,115.70 L256.50,115.70 L255.50,115.70 L254.50,115.70 L253.50,115.70 L252.50,115.70 L251.50,115.70 L250.50,115.70 L255,115.7 Z" fill="#f8f0eb"/>
<path d="M250.00,115.70 L251.00,115.70 L252.00,115.70 L253.00,115.70 L254.00,115.70 L255.00,115.70 L256.00,115.70 L257.00,115.70 L258.00,115.70 L259.00,115.70 L260.00,115.70 L261.00,115.70 L262.00,115.70 L263.00,115.70 L264.00,115.70 L265.00,115.70 L266.00,115.70 L267.00,115.70 L268.00,115.70 L269.00,115.70 L270.00,115.70 L271.00,115.70 L272.00,115.70 L273.00,115.70 L274.00,115.70 L275.00,115.70 L276.00,115.70 L277.00,115.70 L278.00,115.70 L279.00,115.70 L280.00,115.70 L281.00,115.70 L282.00,115.70 L283.00,115.70 L284.00,115.70 L285.00,115.70 L286.00,115.70 L287.00,115.70 L288.01,115.70 L289.01,115.70 L290.01,115.70 L291.01,115.70 L292.01,115.70 L293.01,115.70 L294.01,115.70 L295.01,115.70 L296.01,115.70 L297.01,115.70 L298.01,115.70 L299.01,115.70 L300.01,115.70 L301.01,115.70 L302.01,115.70 L303.01,115.70 L304.01,115.70 L305.01,115.70 L306.01,115.70 L307.01,115.70 L308.01,115.70 L309.01,115.70 L310.01,115.70 L311.01,115.70 L312.01,115.70 L313.01,115.70 L314.01,115.70 L315.01,115.70 L316.01,115.70 L317.01,115.70 L318.01,115.70 L319.01,115.70 L320.01,115.70 L321.01,115.70 L322.01,115.70 L323.01,115.70 L324.01,115.70 L325.01,115.70 L326.01,115.70 L327.01,115.70 L328.01,115.70 L329.01,115.70 L330.01,115.70 L331.01,115.70 L332.01,115.70 L333.01,115.70 L334.01,115.70 L335.01,115.70 L336.01,115.70 L337.01,115.70 L338.01,115.70 L339.01,115.70 L340.01,115.70 L341.01,115.70 L342.01,115.70 L343.01,115.70 L344.01,115.70 L345.01,115.70 L346.01,115.70 L347.01,115.70 L348.01,115.70 L349.01,115.70 L350.01,115.70 L351.01,115.70 L352.01,115.70 L353.01,115.70 L354.01,115.70 L355.01,115.70 L356.01,115.70 L357.01,115.70 L358.01,115.70 L359.01,115.70 L360.01,115.70 L361.01,115.70 L362.01,115.70 L363.01,115.70 L364.02,115.70 L365.02,115.70 L366.02,115.70 L367.02,115.70 L368.02,115.70 L369.02,115.70 L370.02,115.70 L371.02,115.70 L372.02,115.70 L373.02,115.70 L374.02,115.70 L375.02,115.70 L376.02,115.70 L377.02,115.70 L378.02,115.70 L379.02,115.70 L380.02,115.70 L381.02,115.70 L382.02,115.70 L383.02,115.70 L384.02,115.70 L385.02,115.70 L386.02,115.70 L387.02,115.70 L388.02,115.70 L389.02,115.70 L390.02,115.70 L391.02,115.70 L392.02,115.70 L393.02,115.70 L394.02,115.70 L395.02,115.70 L396.02,115.70 L397.02,115.70 L398.02,115.70 L399.02,115.70 L400.02,115.70 L401.02,115.70 L402.02,115.70 L402.78,115.71 L403.77,115.93 L404.66,116.43 L405.37,117.16 L405.83,118.07 L406.02,119.07 L405.91,120.08 L405.51,121.02 L405.04,121.63 L404.35,122.36 L403.69,123.11 L403.04,123.87 L402.42,124.65 L401.81,125.45 L401.23,126.26 L400.67,127.09 L400.13,127.94 L399.61,128.79 L399.12,129.66 L398.65,130.55 L398.20,131.44 L397.77,132.35 L397.37,133.26 L397.00,134.19 L396.65,135.13 L396.32,136.08 L396.02,137.03 L395.74,137.99 L395.49,138.96 L395.27,139.94 L395.07,140.92 L394.89,141.90 L394.74,142.89 L394.62,143.89 L394.53,144.88 L394.46,145.88 L394.42,146.88 L394.40,147.88 L394.41,148.88 L394.45,149.88 L394.51,150.88 L394.60,151.88 L394.71,152.87 L394.86,153.86 L395.02,154.85 L395.22,155.83 L395.44,156.81 L395.68,157.78 L395.95,158.74 L396.25,159.70 L396.57,160.65 L396.91,161.59 L397.28,162.52 L397.68,163.44 L398.10,164.35 L398.54,165.25 L399.00,166.13 L399.49,167.00 L400.01,167.86 L400.54,168.71 L401.10,169.54 L401.67,170.36 L402.27,171.16 L402.89,171.95 L403.54,172.72 L404.20,173.47 L404.88,174.20 L405.58,174.92 L406.30,175.61 L407.03,176.29 L407.79,176.95 L408.56,177.59 L409.34,178.21 L410.15,178.80 L410.97,179.38 L411.80,179.93 L412.65,180.46 L413.51,180.97 L414.39,181.46 L415.27,181.92 L416.17,182.36 L417.08,182.78 L418.00,183.17 L418.94,183.53 L419.88,183.88 L420.83,184.19 L421.78,184.49 L422.75,184.75 L423.72,185.00 L424.70,185.21 L425.68,185.40 L426.67,185.56 L427.66,185.70 L428.65,185.81 L429.65,185.90 L430.65,185.96 L431.65,185.99 L432.65,186.00 L433.65,185.98 L434.65,185.93 L435.65,185.86 L436.65,185.76 L437.64,185.64 L438.63,185.49 L439.61,185.31 L440.59,185.11 L441.57,184.88 L442.54,184.62 L443.50,184.34 L444.45,184.04 L445.40,183.71 L446.33,183.35 L447.26,182.98 L448.17,182.57 L449.08,182.14 L449.97,181.69 L450.85,181.22 L451.72,180.72 L452.58,180.20 L453.42,179.66 L454.24,179.09 L455.06,178.51 L455.85,177.90 L456.63,177.27 L457.39,176.62 L458.14,175.96 L458.87,175.27 L459.58,174.56 L460.27,173.84 L460.94,173.09 L461.59,172.33 L462.22,171.56 L462.83,170.76 L463.42,169.95 L463.98,169.13 L464.53,168.29 L465.05,167.44 L465.55,166.57 L466.03,165.69 L466.49,164.80 L466.92,163.89 L467.32,162.98 L467.71,162.05 L468.06,161.12 L468.40,160.18 L468.70,159.22 L468.99,158.26 L469.25,157.30 L469.48,156.32 L469.68,155.34 L469.86,154.36 L470.02,153.37 L470.15,152.38 L470.25,151.38 L470.33,150.38 L470.37,149.38 L470.40,148.38 L470.39,147.38 L470.37,146.38 L470.31,145.38 L470.23,144.38 L470.12,143.39 L469.98,142.40 L469.82,141.41 L469.64,140.43 L469.43,139.45 L469.19,138.48 L468.92,137.51 L468.63,136.55 L468.32,135.60 L467.98,134.66 L467.62,133.73 L467.23,132.80 L466.82,131.89 L466.38,130.99 L465.92,130.10 L465.44,129.23 L464.93,128.36 L464.40,127.51 L463.85,126.68 L463.28,125.86 L462.69,125.05 L462.07,124.26 L461.44,123.49 L460.78,122.73 L460.10,121.99 L459.59,121.44 L459.06,120.57 L458.80,119.58 L458.84,118.56 L459.17,117.60 L459.76,116.77 L460.57,116.15 L461.52,115.78 L462.28,115.70 L463.29,115.70 L464.29,115.70 L465.30,115.70 L466.30,115.70 L467.31,115.70 L468.31,115.70 L469.32,115.70 L470.33,115.70 L471.33,115.70 L472.34,115.70 L473.34,115.70 L474.35,115.70 L475.35,115.70 L476.36,115.70 L477.37,115.70 L478.37,115.70 L479.38,115.70 L480.38,115.70 L481.39,115.70 L482.39,115.70 L483.40,115.70 L484.41,115.70 L485.41,115.70 L486.42,115.70 L487.42,115.70 L488.43,115.70 L489.43,115.70 L490.44,115.70 L491.45,115.70 L492.45,115.70 L493.46,115.70 L494.46,115.70 L495.47,115.70 L496.47,115.70 L497.48,115.70 L498.49,115.70 L499.49,115.70 L500.50,115.70" fill="none" stroke="#f7fbfe" stroke-width="16"/>
<path d="M252.8,121.9 l0.0,-5.8 M251.2,121.9 l0.0,-5.8 M257.8,121.9 l0.0,-5.8 M256.0,121.9 l0.0,-5.8 M262.7,121.9 l0.0,-5.8 M260.9,121.9 l0.0,-5.8 M267.6,121.9 l0.0,-5.8 M265.8,121.9 l0.0,-5.8 M272.5,121.9 l0.0,-5.8 M270.8,121.9 l0.0,-5.8 M277.4,121.9 l0.0,-5.8 M275.6,121.9 l0.0,-5.8 M282.2,121.9 l0.0,-5.8 M280.5,121.9 l0.0,-5.8 M287.2,121.9 l0.0,-5.8 M285.4,121.9 l0.0,-5.8 M292.1,121.9 l0.0,-5.8 M290.3,121.9 l0.0,-5.8 M297.0,121.9 l0.0,-5.8 M295.2,121.9 l0.0,-5.8 M301.9,121.9 l0.0,-5.8 M300.1,121.9 l0.0,-5.8 M306.8,121.9 l0.0,-5.8 M305.0,121.9 l0.0,-5.8 M311.7,121.9 l0.0,-5.8 M309.9,121.9 l0.0,-5.8 M316.6,121.9 l0.0,-5.8 M314.8,121.9 l0.0,-5.8 M321.5,121.9 l0.0,-5.8 M319.8,121.9 l0.0,-5.8 M326.4,121.9 l0.0,-5.8 M324.6,121.9 l0.0,-5.8 M331.2,121.9 l0.0,-5.8 M329.5,121.9 l0.0,-5.8 M336.2,121.9 l0.0,-5.8 M334.4,121.9 l0.0,-5.8 M341.1,121.9 l0.0,-5.8 M339.4,121.9 l0.0,-5.8 M346.0,121.9 l0.0,-5.8 M344.2,121.9 l0.0,-5.8 M350.9,121.9 l0.0,-5.8 M349.1,121.9 l0.0,-5.8 M355.8,121.9 l0.0,-5.8 M354.1,121.9 l0.0,-5.8 M360.7,121.9 l0.0,-5.8 M359.0,121.9 l0.0,-5.8 M365.6,121.9 l0.0,-5.8 M363.9,121.9 l0.0,-5.8 M370.5,121.9 l0.0,-5.8 M368.8,121.9 l0.0,-5.8 M375.4,121.9 l0.0,-5.8 M373.7,121.9 l0.0,-5.8 M380.3,121.9 l0.0,-5.8 M378.6,121.9 l0.0,-5.8 M385.2,121.9 l0.0,-5.8 M383.5,121.9 l0.0,-5.8 M390.1,121.9 l0.0,-5.8 M388.4,121.9 l0.0,-5.8 M395.0,121.9 l0.0,-5.8 M393.3,121.9 l0.0,-5.8 M399.9,121.9 l0.0,-5.8 M398.2,121.9 l0.0,-5.8 M402.0,122.0 l2.8,-5.1 M400.5,121.2 l2.8,-5.1 M399.9,118.0 l4.2,4.0 M401.1,116.8 l4.2,4.0 M396.9,121.6 l4.6,3.5 M398.0,120.3 l4.6,3.5 M394.2,125.7 l5.0,3.0 M395.1,124.3 l5.0,3.0 M392.0,130.1 l5.3,2.4 M392.7,128.5 l5.3,2.4 M390.3,134.7 l5.5,1.9 M390.8,133.0 l5.5,1.9 M389.0,139.4 l5.7,1.2 M389.4,137.7 l5.7,1.2 M388.4,144.2 l5.8,0.6 M388.5,142.6 l5.8,0.6 M388.2,149.1 l5.8,-0.1 M388.2,147.4 l5.8,-0.1 M388.6,154.0 l5.8,-0.7 M388.4,152.3 l5.8,-0.7 M389.5,158.8 l5.6,-1.3 M389.2,157.2 l5.6,-1.3 M391.0,163.5 l5.5,-1.9 M390.4,161.9 l5.5,-1.9 M393.0,168.0 l5.2,-2.5 M392.2,166.5 l5.2,-2.5 M395.4,172.2 l4.9,-3.1 M394.5,170.8 l4.9,-3.1 M398.3,176.2 l4.5,-3.6 M397.3,174.8 l4.5,-3.6 M401.7,179.8 l4.1,-4.1 M400.5,178.6 l4.1,-4.1 M405.4,183.0 l3.6,-4.5 M404.0,181.9 l3.6,-4.5 M409.4,185.8 l3.1,-4.9 M408.0,184.8 l3.1,-4.9 M413.7,188.1 l2.5,-5.2 M412.2,187.3 l2.5,-5.2 M418.3,189.9 l1.9,-5.5 M416.7,189.3 l1.9,-5.5 M423.0,191.2 l1.3,-5.6 M421.3,190.8 l1.3,-5.6 M427.8,192.0 l0.7,-5.8 M426.1,191.8 l0.7,-5.8 M432.7,192.2 l0.0,-5.8 M431.0,192.2 l0.0,-5.8 M437.6,191.9 l-0.6,-5.8 M435.9,192.1 l-0.6,-5.8 M442.4,191.1 l-1.2,-5.7 M440.8,191.4 l-1.2,-5.7 M447.1,189.7 l-1.8,-5.5 M445.5,190.2 l-1.8,-5.5 M451.6,187.8 l-2.4,-5.3 M450.1,188.5 l-2.4,-5.3 M455.9,185.4 l-3.0,-5.0 M454.5,186.3 l-3.0,-5.0 M459.9,182.6 l-3.5,-4.6 M458.6,183.6 l-3.5,-4.6 M463.6,179.3 l-4.0,-4.2 M462.4,180.5 l-4.0,-4.2 M466.9,175.7 l-4.5,-3.7 M465.8,177.0 l-4.5,-3.7 M469.7,171.7 l-4.8,-3.2 M468.8,173.1 l-4.8,-3.2 M472.1,167.4 l-5.2,-2.6 M471.3,168.9 l-5.2,-2.6 M474.0,162.9 l-5.4,-2.0 M473.4,164.5 l-5.4,-2.0 M475.4,158.2 l-5.6,-1.4 M475.0,159.9 l-5.6,-1.4 M476.3,153.4 l-5.7,-0.8 M476.0,155.1 l-5.7,-0.8 M476.6,148.5 l-5.8,-0.2 M476.6,150.2 l-5.8,-0.2 M476.4,143.6 l-5.8,0.5 M476.5,145.3 l-5.8,0.5 M475.6,138.8 l-5.7,1.1 M476.0,140.5 l-5.7,1.1 M474.3,134.1 l-5.5,1.7 M474.9,135.7 l-5.5,1.7 M472.5,129.5 l-5.3,2.4 M473.2,131.1 l-5.3,2.4 M470.3,125.2 l-5.0,2.9 M471.1,126.6 l-5.0,2.9 M467.5,121.1 l-4.7,3.4 M468.5,122.5 l-4.7,3.4 M464.3,117.4 l-4.3,3.9 M465.5,118.7 l-4.3,3.9 M464.9,120.3 l-4.5,-3.7 M463.8,121.6 l-4.5,-3.7 M465.6,121.9 l0.0,-5.8 M463.9,121.9 l0.0,-5.8 M470.5,121.9 l0.0,-5.8 M468.8,121.9 l0.0,-5.8 M475.4,121.9 l0.0,-5.8 M473.7,121.9 l0.0,-5.8 M480.3,121.9 l0.0,-5.8 M478.6,121.9 l0.0,-5.8 M485.2,121.9 l0.0,-5.8 M483.5,121.9 l0.0,-5.8 M490.1,121.9 l0.0,-5.8 M488.4,121.9 l0.0,-5.8 M495.0,121.9 l0.0,-5.8 M493.3,121.9 l0.0,-5.8 M499.9,121.9 l0.0,-5.8 M498.2,121.9 l0.0,-5.8 M252.8,109.5 l-0.0,5.8 M251.2,109.5 l-0.0,5.8 M257.8,109.5 l-0.0,5.8 M256.0,109.5 l-0.0,5.8 M262.7,109.5 l-0.0,5.8 M260.9,109.5 l-0.0,5.8 M267.6,109.5 l-0.0,5.8 M265.8,109.5 l-0.0,5.8 M272.5,109.5 l-0.0,5.8 M270.8,109.5 l-0.0,5.8 M277.4,109.5 l-0.0,5.8 M275.6,109.5 l-0.0,5.8 M282.2,109.5 l-0.0,5.8 M280.5,109.5 l-0.0,5.8 M287.2,109.5 l-0.0,5.8 M285.4,109.5 l-0.0,5.8 M292.1,109.5 l-0.0,5.8 M290.3,109.5 l-0.0,5.8 M297.0,109.5 l-0.0,5.8 M295.2,109.5 l-0.0,5.8 M301.9,109.5 l-0.0,5.8 M300.1,109.5 l-0.0,5.8 M306.8,109.5 l-0.0,5.8 M305.0,109.5 l-0.0,5.8 M311.7,109.5 l-0.0,5.8 M309.9,109.5 l-0.0,5.8 M316.6,109.5 l-0.0,5.8 M314.8,109.5 l-0.0,5.8 M321.5,109.5 l-0.0,5.8 M319.8,109.5 l-0.0,5.8 M326.4,109.5 l-0.0,5.8 M324.6,109.5 l-0.0,5.8 M331.2,109.5 l-0.0,5.8 M329.5,109.5 l-0.0,5.8 M336.2,109.5 l-0.0,5.8 M334.4,109.5 l-0.0,5.8 M341.1,109.5 l-0.0,5.8 M339.4,109.5 l-0.0,5.8 M346.0,109.5 l-0.0,5.8 M344.2,109.5 l-0.0,5.8 M350.9,109.5 l-0.0,5.8 M349.1,109.5 l-0.0,5.8 M355.8,109.5 l-0.0,5.8 M354.1,109.5 l-0.0,5.8 M360.7,109.5 l-0.0,5.8 M359.0,109.5 l-0.0,5.8 M365.6,109.5 l-0.0,5.8 M363.9,109.5 l-0.0,5.8 M370.5,109.5 l-0.0,5.8 M368.8,109.5 l-0.0,5.8 M375.4,109.5 l-0.0,5.8 M373.7,109.5 l-0.0,5.8 M380.3,109.5 l-0.0,5.8 M378.6,109.5 l-0.0,5.8 M385.2,109.5 l-0.0,5.8 M383.5,109.5 l-0.0,5.8 M390.1,109.5 l-0.0,5.8 M388.4,109.5 l-0.0,5.8 M395.0,109.5 l-0.0,5.8 M393.3,109.5 l-0.0,5.8 M399.9,109.5 l-0.0,5.8 M398.2,109.5 l-0.0,5.8 M404.7,109.7 l-0.8,5.7 M403.1,109.5 l-0.8,5.7 M409.0,112.0 l-3.5,4.6 M407.7,110.9 l-3.5,4.6 M411.7,116.0 l-5.3,2.3 M411.0,114.5 l-5.3,2.3 M412.1,120.9 l-5.8,-0.6 M412.3,119.2 l-5.8,-0.6 M410.1,125.3 l-4.7,-3.4 M411.1,123.9 l-4.7,-3.4 M406.9,129.0 l-4.6,-3.6 M407.9,127.7 l-4.6,-3.6 M404.3,133.2 l-5.1,-2.8 M405.1,131.7 l-5.1,-2.8 M402.3,137.7 l-5.4,-2.0 M402.9,136.1 l-5.4,-2.0 M401.1,142.4 l-5.7,-1.2 M401.4,140.7 l-5.7,-1.2 M400.6,147.3 l-5.8,-0.3 M400.7,145.6 l-5.8,-0.3 M400.9,152.2 l-5.8,0.6 M400.7,150.5 l-5.8,0.6 M401.9,156.9 l-5.6,1.5 M401.4,155.3 l-5.6,1.5 M403.6,161.5 l-5.3,2.4 M402.9,160.0 l-5.3,2.4 M406.0,165.8 l-4.9,3.1 M405.1,164.4 l-4.9,3.1 M409.1,169.6 l-4.4,3.8 M407.9,168.3 l-4.4,3.8 M412.7,172.9 l-3.7,4.5 M411.4,171.9 l-3.7,4.5 M416.7,175.7 l-3.0,5.0 M415.3,174.8 l-3.0,5.0 M421.2,177.8 l-2.2,5.4 M419.6,177.1 l-2.2,5.4 M425.9,179.1 l-1.3,5.6 M424.2,178.7 l-1.3,5.6 M430.7,179.8 l-0.5,5.8 M429.0,179.6 l-0.5,5.8 M435.6,179.6 l0.5,5.8 M433.9,179.8 l0.5,5.8 M440.4,178.8 l1.3,5.6 M438.8,179.2 l1.3,5.6 M445.1,177.2 l2.2,5.4 M443.5,177.8 l2.2,5.4 M449.4,174.9 l3.0,5.0 M447.9,175.8 l3.0,5.0 M453.3,172.0 l3.7,4.5 M452.0,173.1 l3.7,4.5 M456.7,168.5 l4.4,3.8 M455.6,169.7 l4.4,3.8 M459.6,164.5 l4.9,3.1 M458.7,165.9 l4.9,3.1 M461.8,160.1 l5.3,2.3 M461.1,161.7 l5.3,2.3 M463.3,155.5 l5.6,1.5 M462.9,157.1 l5.6,1.5 M464.1,150.6 l5.8,0.6 M463.9,152.3 l5.8,0.6 M464.1,145.7 l5.8,-0.3 M464.2,147.4 l5.8,-0.3 M463.4,140.9 l5.7,-1.2 M463.7,142.6 l5.7,-1.2 M461.9,136.2 l5.4,-2.0 M462.5,137.8 l5.4,-2.0 M459.8,131.8 l5.1,-2.8 M460.6,133.3 l5.1,-2.8 M457.0,127.8 l4.6,-3.6 M458.0,129.2 l4.6,-3.6 M453.9,124.0 l5.0,-3.0 M454.8,125.5 l5.0,-3.0 M452.6,119.4 l5.8,-0.2 M452.7,121.1 l5.8,-0.2 M453.7,114.6 l5.3,2.3 M453.0,116.2 l5.3,2.3 M457.0,111.0 l3.5,4.6 M455.6,112.1 l3.5,4.6 M461.6,109.5 l0.8,5.7 M459.9,109.8 l0.8,5.7 M466.5,109.5 l-0.0,5.8 M464.8,109.5 l-0.0,5.8 M471.4,109.5 l-0.0,5.8 M469.7,109.5 l-0.0,5.8 M476.3,109.5 l-0.0,5.8 M474.6,109.5 l-0.0,5.8 M481.2,109.5 l-0.0,5.8 M479.5,109.5 l-0.0,5.8 M486.1,109.5 l-0.0,5.8 M484.4,109.5 l-0.0,5.8 M491.0,109.5 l-0.0,5.8 M489.3,109.5 l-0.0,5.8 M495.9,109.5 l-0.0,5.8 M494.2,109.5 l-0.0,5.8 M500.8,109.5 l-0.0,5.8 M499.1,109.5 l-0.0,5.8" fill="none" stroke="#98c8e6" stroke-width="0.65"/>
<g fill="#acd7f1" stroke="#80b9df" stroke-width="0.6"><circle cx="252.0" cy="121.9" r="2.5"/><circle cx="256.9" cy="121.9" r="2.5"/><circle cx="261.8" cy="121.9" r="2.5"/><circle cx="266.7" cy="121.9" r="2.5"/><circle cx="271.6" cy="121.9" r="2.5"/><circle cx="276.5" cy="121.9" r="2.5"/><circle cx="281.4" cy="121.9" r="2.5"/><circle cx="286.3" cy="121.9" r="2.5"/><circle cx="291.2" cy="121.9" r="2.5"/><circle cx="296.1" cy="121.9" r="2.5"/><circle cx="301.0" cy="121.9" r="2.5"/><circle cx="305.9" cy="121.9" r="2.5"/><circle cx="310.8" cy="121.9" r="2.5"/><circle cx="315.7" cy="121.9" r="2.5"/><circle cx="320.6" cy="121.9" r="2.5"/><circle cx="325.5" cy="121.9" r="2.5"/><circle cx="330.4" cy="121.9" r="2.5"/><circle cx="335.3" cy="121.9" r="2.5"/><circle cx="340.2" cy="121.9" r="2.5"/><circle cx="345.1" cy="121.9" r="2.5"/><circle cx="350.0" cy="121.9" r="2.5"/><circle cx="354.9" cy="121.9" r="2.5"/><circle cx="359.8" cy="121.9" r="2.5"/><circle cx="364.7" cy="121.9" r="2.5"/><circle cx="369.6" cy="121.9" r="2.5"/><circle cx="374.5" cy="121.9" r="2.5"/><circle cx="379.4" cy="121.9" r="2.5"/><circle cx="384.3" cy="121.9" r="2.5"/><circle cx="389.2" cy="121.9" r="2.5"/><circle cx="394.1" cy="121.9" r="2.5"/><circle cx="399.0" cy="121.9" r="2.5"/><circle cx="401.3" cy="121.6" r="2.5"/><circle cx="400.5" cy="117.4" r="2.5"/><circle cx="397.4" cy="121.0" r="2.5"/><circle cx="394.7" cy="125.0" r="2.5"/><circle cx="392.4" cy="129.3" r="2.5"/><circle cx="390.5" cy="133.8" r="2.5"/><circle cx="389.2" cy="138.6" r="2.5"/><circle cx="388.4" cy="143.4" r="2.5"/><circle cx="388.2" cy="148.3" r="2.5"/><circle cx="388.5" cy="153.2" r="2.5"/><circle cx="389.3" cy="158.0" r="2.5"/><circle cx="390.7" cy="162.7" r="2.5"/><circle cx="392.6" cy="167.2" r="2.5"/><circle cx="395.0" cy="171.5" r="2.5"/><circle cx="397.8" cy="175.5" r="2.5"/><circle cx="401.1" cy="179.2" r="2.5"/><circle cx="404.7" cy="182.4" r="2.5"/><circle cx="408.7" cy="185.3" r="2.5"/><circle cx="413.0" cy="187.7" r="2.5"/><circle cx="417.5" cy="189.6" r="2.5"/><circle cx="422.2" cy="191.0" r="2.5"/><circle cx="427.0" cy="191.9" r="2.5"/><circle cx="431.9" cy="192.2" r="2.5"/><circle cx="436.8" cy="192.0" r="2.5"/><circle cx="441.6" cy="191.2" r="2.5"/><circle cx="446.3" cy="190.0" r="2.5"/><circle cx="450.9" cy="188.2" r="2.5"/><circle cx="455.2" cy="185.9" r="2.5"/><circle cx="459.3" cy="183.1" r="2.5"/><circle cx="463.0" cy="179.9" r="2.5"/><circle cx="466.3" cy="176.3" r="2.5"/><circle cx="469.2" cy="172.4" r="2.5"/><circle cx="471.7" cy="168.2" r="2.5"/><circle cx="473.7" cy="163.7" r="2.5"/><circle cx="475.2" cy="159.0" r="2.5"/><circle cx="476.2" cy="154.2" r="2.5"/><circle cx="476.6" cy="149.4" r="2.5"/><circle cx="476.5" cy="144.5" r="2.5"/><circle cx="475.8" cy="139.6" r="2.5"/><circle cx="474.6" cy="134.9" r="2.5"/><circle cx="472.9" cy="130.3" r="2.5"/><circle cx="470.7" cy="125.9" r="2.5"/><circle cx="468.0" cy="121.8" r="2.5"/><circle cx="464.9" cy="118.0" r="2.5"/><circle cx="464.4" cy="120.9" r="2.5"/><circle cx="464.7" cy="121.9" r="2.5"/><circle cx="469.6" cy="121.9" r="2.5"/><circle cx="474.5" cy="121.9" r="2.5"/><circle cx="479.4" cy="121.9" r="2.5"/><circle cx="484.3" cy="121.9" r="2.5"/><circle cx="489.2" cy="121.9" r="2.5"/><circle cx="494.1" cy="121.9" r="2.5"/><circle cx="499.0" cy="121.9" r="2.5"/><circle cx="252.0" cy="109.5" r="2.5"/><circle cx="256.9" cy="109.5" r="2.5"/><circle cx="261.8" cy="109.5" r="2.5"/><circle cx="266.7" cy="109.5" r="2.5"/><circle cx="271.6" cy="109.5" r="2.5"/><circle cx="276.5" cy="109.5" r="2.5"/><circle cx="281.4" cy="109.5" r="2.5"/><circle cx="286.3" cy="109.5" r="2.5"/><circle cx="291.2" cy="109.5" r="2.5"/><circle cx="296.1" cy="109.5" r="2.5"/><circle cx="301.0" cy="109.5" r="2.5"/><circle cx="305.9" cy="109.5" r="2.5"/><circle cx="310.8" cy="109.5" r="2.5"/><circle cx="315.7" cy="109.5" r="2.5"/><circle cx="320.6" cy="109.5" r="2.5"/><circle cx="325.5" cy="109.5" r="2.5"/><circle cx="330.4" cy="109.5" r="2.5"/><circle cx="335.3" cy="109.5" r="2.5"/><circle cx="340.2" cy="109.5" r="2.5"/><circle cx="345.1" cy="109.5" r="2.5"/><circle cx="350.0" cy="109.5" r="2.5"/><circle cx="354.9" cy="109.5" r="2.5"/><circle cx="359.8" cy="109.5" r="2.5"/><circle cx="364.7" cy="109.5" r="2.5"/><circle cx="369.6" cy="109.5" r="2.5"/><circle cx="374.5" cy="109.5" r="2.5"/><circle cx="379.4" cy="109.5" r="2.5"/><circle cx="384.3" cy="109.5" r="2.5"/><circle cx="389.2" cy="109.5" r="2.5"/><circle cx="394.1" cy="109.5" r="2.5"/><circle cx="399.0" cy="109.5" r="2.5"/><circle cx="403.9" cy="109.6" r="2.5"/><circle cx="408.4" cy="111.5" r="2.5"/><circle cx="411.4" cy="115.3" r="2.5"/><circle cx="412.2" cy="120.0" r="2.5"/><circle cx="410.6" cy="124.6" r="2.5"/><circle cx="407.4" cy="128.3" r="2.5"/><circle cx="404.7" cy="132.4" r="2.5"/><circle cx="402.6" cy="136.9" r="2.5"/><circle cx="401.3" cy="141.6" r="2.5"/><circle cx="400.6" cy="146.4" r="2.5"/><circle cx="400.8" cy="151.3" r="2.5"/><circle cx="401.7" cy="156.1" r="2.5"/><circle cx="403.3" cy="160.7" r="2.5"/><circle cx="405.6" cy="165.1" r="2.5"/><circle cx="408.5" cy="169.0" r="2.5"/><circle cx="412.0" cy="172.4" r="2.5"/><circle cx="416.0" cy="175.2" r="2.5"/><circle cx="420.4" cy="177.4" r="2.5"/><circle cx="425.0" cy="178.9" r="2.5"/><circle cx="429.9" cy="179.7" r="2.5"/><circle cx="434.8" cy="179.7" r="2.5"/><circle cx="439.6" cy="179.0" r="2.5"/><circle cx="444.3" cy="177.5" r="2.5"/><circle cx="448.7" cy="175.3" r="2.5"/><circle cx="452.7" cy="172.5" r="2.5"/><circle cx="456.2" cy="169.1" r="2.5"/><circle cx="459.1" cy="165.2" r="2.5"/><circle cx="461.5" cy="160.9" r="2.5"/><circle cx="463.1" cy="156.3" r="2.5"/><circle cx="464.0" cy="151.5" r="2.5"/><circle cx="464.2" cy="146.6" r="2.5"/><circle cx="463.6" cy="141.7" r="2.5"/><circle cx="462.2" cy="137.0" r="2.5"/><circle cx="460.2" cy="132.6" r="2.5"/><circle cx="457.5" cy="128.5" r="2.5"/><circle cx="454.3" cy="124.8" r="2.5"/><circle cx="452.6" cy="120.2" r="2.5"/><circle cx="453.3" cy="115.4" r="2.5"/><circle cx="456.3" cy="111.6" r="2.5"/><circle cx="460.7" cy="109.6" r="2.5"/><circle cx="465.6" cy="109.5" r="2.5"/><circle cx="470.5" cy="109.5" r="2.5"/><circle cx="475.4" cy="109.5" r="2.5"/><circle cx="480.3" cy="109.5" r="2.5"/><circle cx="485.2" cy="109.5" r="2.5"/><circle cx="490.1" cy="109.5" r="2.5"/><circle cx="495.0" cy="109.5" r="2.5"/><circle cx="499.9" cy="109.5" r="2.5"/></g>
<circle cx="264.3" cy="76" r="2.3" fill="#a6def0" stroke="#5cb9cf" stroke-width="0.8" opacity="0.6"/>
<circle cx="266.5" cy="83.5" r="3" fill="#a6def0" stroke="#5cb9cf" stroke-width="0.8" opacity="1"/>
<circle cx="281.7" cy="80.7" r="3" fill="#a6def0" stroke="#5cb9cf" stroke-width="0.8" opacity="1"/>
<circle cx="276.5" cy="86.3" r="3" fill="#a6def0" stroke="#5cb9cf" stroke-width="0.8" opacity="1"/>
<circle cx="286.5" cy="74.3" r="2.8" fill="#a6def0" stroke="#5cb9cf" stroke-width="0.8" opacity="0.6"/>
<circle cx="296" cy="76" r="3" fill="#a6def0" stroke="#5cb9cf" stroke-width="0.8" opacity="1"/>
<circle cx="294" cy="83" r="3" fill="#a6def0" stroke="#5cb9cf" stroke-width="0.8" opacity="1"/>
<circle cx="301.5" cy="86" r="3" fill="#a6def0" stroke="#5cb9cf" stroke-width="0.8" opacity="1"/>
<circle cx="285" cy="89.3" r="3" fill="#a6def0" stroke="#5cb9cf" stroke-width="0.8" opacity="1"/>
<text x="307.6" y="86" font-size="15.2" fill="#111" font-weight="normal" text-anchor="start" font-style="normal" stroke="#111" stroke-width="0.28" >EGF</text>
<path d="M374.50,257.70 L374.49,256.70 L374.45,255.70 L374.39,254.70 L374.30,253.70 L374.19,252.71 L374.06,251.72 L373.90,250.73 L373.71,249.75 L373.50,248.77 L373.27,247.79 L373.01,246.83 L372.73,245.86 L372.43,244.91 L372.10,243.97 L371.75,243.03 L371.38,242.10 L370.98,241.18 L370.56,240.27 L370.12,239.37 L369.65,238.49 L369.17,237.61 L368.66,236.75 L368.13,235.90 L367.58,235.06 L367.01,234.24 L366.42,233.43 L365.81,232.64 L365.19,231.86 L364.54,231.10 L363.87,230.35 L363.19,229.62 L362.48,228.91 L361.76,228.21 L361.03,227.54 L360.27,226.88 L359.50,226.24 L358.72,225.62 L357.92,225.02 L357.10,224.43 L356.27,223.87 L355.43,223.33 L354.57,222.82 L353.71,222.32 L352.83,221.84 L351.93,221.39 L351.03,220.95 L350.12,220.55 L349.19,220.16 L348.26,219.79 L347.32,219.45 L346.37,219.14 L345.42,218.84 L344.45,218.57 L343.48,218.33 L342.51,218.10 L341.53,217.91 L340.54,217.73 L339.55,217.58 L338.56,217.46 L337.56,217.36 L336.56,217.28 L335.56,217.23 L334.56,217.20 L333.56,217.20 L332.56,217.23 L331.56,217.27 L330.56,217.35 L329.57,217.44 L328.57,217.57 L327.58,217.71 L326.60,217.88 L325.62,218.08 L324.64,218.30 L323.67,218.54 L322.70,218.81 L321.75,219.10 L320.80,219.41 L319.85,219.75 L318.92,220.11 L318.00,220.50 L317.08,220.90 L316.18,221.33 L315.29,221.78 L314.40,222.26 L313.53,222.75 L312.68,223.27 L311.83,223.81 L311.00,224.36 L310.18,224.94 L309.38,225.54 L308.60,226.16 L307.82,226.80 L307.07,227.45 L306.33,228.13 L305.61,228.82 L304.90,229.53 L304.21,230.26 L303.55,231.00 L302.89,231.76 L302.26,232.54 L301.65,233.33 L301.06,234.14 L300.49,234.96 L299.94,235.79 L299.40,236.64 L298.89,237.50 L298.41,238.38 L297.94,239.26 L297.50,240.16 L297.07,241.07 L296.67,241.98 L296.30,242.91 L295.94,243.85 L295.61,244.79 L295.30,245.75 L295.02,246.71 L294.76,247.67 L294.53,248.64 L294.31,249.62 L294.13,250.61 L293.96,251.59 L293.82,252.58 L293.71,253.58 L293.62,254.58 L293.56,255.57 L293.52,256.57 L293.50,257.57 L293.51,258.58 L293.54,259.58 L293.60,260.58 L293.69,261.57 L293.79,262.57 L293.93,263.56 L294.08,264.55 L294.26,265.53 L294.47,266.51 L294.70,267.49 L294.95,268.45 L295.23,269.42 L295.53,270.37 L295.86,271.32 L296.21,272.25 L296.58,273.18 L296.97,274.10 L297.39,275.01 L297.83,275.91 L298.29,276.80 L298.77,277.68 L299.28,278.54 L299.80,279.39 L300.35,280.23 L300.91,281.06 L301.50,281.87 L302.11,282.66 L302.74,283.44 L303.38,284.21 L304.05,284.96 L304.73,285.69 L305.43,286.40 L306.15,287.10 L306.88,287.78 L307.63,288.44 L308.40,289.08 L309.18,289.71 L309.98,290.31 L310.80,290.89 L311.62,291.46 L312.46,292.00 L313.32,292.52 L314.18,293.02 L315.06,293.50 L315.95,293.96 L316.86,294.39 L317.77,294.80 L318.69,295.19 L319.62,295.56 L320.56,295.91 L321.51,296.23 L322.46,296.52 L323.43,296.80 L324.40,297.04 L325.37,297.27 L326.35,297.47 L327.34,297.65 L328.33,297.80 L329.32,297.93 L330.31,298.03 L331.31,298.11 L332.31,298.16 L333.31,298.19 L334.31,298.20 L335.31,298.18 L336.31,298.13 L337.31,298.06 L338.31,297.97 L339.30,297.85 L340.29,297.71 L341.28,297.54 L342.26,297.35 L343.24,297.13 L344.21,296.89 L345.18,296.63 L346.13,296.34 L347.08,296.03 L348.03,295.69 L348.96,295.33 L349.89,294.95 L350.80,294.55 L351.71,294.12 L352.60,293.67 L353.49,293.20 L354.36,292.71 L355.22,292.20 L356.06,291.66 L356.90,291.11 L357.71,290.53 L358.52,289.94 L359.31,289.32 L360.08,288.68 L360.84,288.03 L361.58,287.36 L362.30,286.67 L363.01,285.96 L363.70,285.23 L364.37,284.49 L365.02,283.73 L365.66,282.96 L366.27,282.17 L366.87,281.36 L367.44,280.54 L368.00,279.71 L368.53,278.86 L369.04,278.00 L369.53,277.13 L370.00,276.25 L370.45,275.35 L370.88,274.45 L371.28,273.53 L371.66,272.60 L372.01,271.67 L372.35,270.73 L372.66,269.77 L372.94,268.82 L373.21,267.85 L373.45,266.88 L373.66,265.90 L373.85,264.92 L374.02,263.93 L374.16,262.94 L374.28,261.95 L374.37,260.95 L374.44,259.95 L374.48,258.95 L374.50,257.95 Z" fill="none" stroke="#f7fbfe" stroke-width="16"/>
<path d="M380.6,254.8 l-5.8,0.3 M380.7,256.5 l-5.8,0.3 M380.1,250.0 l-5.7,0.9 M380.3,251.6 l-5.7,0.9 M379.0,245.2 l-5.6,1.5 M379.4,246.8 l-5.6,1.5 M377.4,240.5 l-5.4,2.0 M378.0,242.1 l-5.4,2.0 M375.4,236.1 l-5.2,2.6 M376.2,237.6 l-5.2,2.6 M372.9,231.9 l-4.9,3.1 M373.8,233.3 l-4.9,3.1 M370.0,227.9 l-4.5,3.6 M371.1,229.3 l-4.5,3.6 M366.7,224.3 l-4.1,4.1 M367.9,225.5 l-4.1,4.1 M363.0,221.1 l-3.7,4.5 M364.3,222.2 l-3.7,4.5 M359.0,218.3 l-3.2,4.8 M360.4,219.2 l-3.2,4.8 M354.7,215.9 l-2.7,5.2 M356.2,216.6 l-2.7,5.2 M350.2,213.9 l-2.1,5.4 M351.8,214.5 l-2.1,5.4 M345.6,212.4 l-1.5,5.6 M347.2,212.9 l-1.5,5.6 M340.8,211.5 l-0.9,5.7 M342.4,211.8 l-0.9,5.7 M335.9,211.0 l-0.3,5.8 M337.6,211.1 l-0.3,5.8 M331.0,211.1 l0.3,5.8 M332.7,211.0 l0.3,5.8 M326.1,211.7 l0.9,5.7 M327.8,211.4 l0.9,5.7 M321.3,212.7 l1.5,5.6 M323.0,212.3 l1.5,5.6 M316.7,214.3 l2.1,5.4 M318.3,213.7 l2.1,5.4 M312.3,216.4 l2.6,5.2 M313.8,215.6 l2.6,5.2 M308.0,218.9 l3.1,4.9 M309.5,217.9 l3.1,4.9 M304.1,221.8 l3.6,4.5 M305.4,220.7 l3.6,4.5 M300.5,225.1 l4.1,4.1 M301.7,223.9 l4.1,4.1 M297.3,228.8 l4.5,3.7 M298.4,227.5 l4.5,3.7 M294.5,232.8 l4.9,3.2 M295.4,231.4 l4.9,3.2 M292.1,237.1 l5.2,2.6 M292.9,235.6 l5.2,2.6 M290.2,241.6 l5.4,2.1 M290.8,240.0 l5.4,2.1 M288.7,246.3 l5.6,1.5 M289.2,244.6 l5.6,1.5 M287.8,251.1 l5.7,0.9 M288.0,249.4 l5.7,0.9 M287.3,256.0 l5.8,0.3 M287.4,254.3 l5.8,0.3 M287.4,260.9 l5.8,-0.3 M287.3,259.2 l5.8,-0.3 M288.0,265.7 l5.7,-0.9 M287.7,264.0 l5.7,-0.9 M289.1,270.5 l5.6,-1.5 M288.6,268.9 l5.6,-1.5 M290.7,275.1 l5.4,-2.1 M290.1,273.5 l5.4,-2.1 M292.7,279.6 l5.2,-2.6 M292.0,278.1 l5.2,-2.6 M295.2,283.8 l4.9,-3.2 M294.3,282.3 l4.9,-3.2 M298.2,287.7 l4.5,-3.7 M297.1,286.4 l4.5,-3.7 M301.5,291.3 l4.1,-4.1 M300.3,290.1 l4.1,-4.1 M305.2,294.5 l3.6,-4.5 M303.9,293.4 l3.6,-4.5 M309.2,297.3 l3.1,-4.9 M307.8,296.4 l3.1,-4.9 M313.5,299.7 l2.6,-5.2 M312.0,298.9 l2.6,-5.2 M318.0,301.6 l2.1,-5.4 M316.4,301.0 l2.1,-5.4 M322.7,303.0 l1.5,-5.6 M321.1,302.6 l1.5,-5.6 M327.5,304.0 l0.9,-5.7 M325.8,303.7 l0.9,-5.7 M332.4,304.4 l0.3,-5.8 M330.7,304.3 l0.3,-5.8 M337.3,304.3 l-0.3,-5.8 M335.6,304.4 l-0.3,-5.8 M342.2,303.7 l-0.9,-5.7 M340.5,304.0 l-0.9,-5.7 M346.9,302.6 l-1.5,-5.6 M345.3,303.0 l-1.5,-5.6 M351.6,301.0 l-2.1,-5.4 M350.0,301.6 l-2.1,-5.4 M356.0,298.9 l-2.7,-5.2 M354.5,299.7 l-2.7,-5.2 M360.2,296.4 l-3.2,-4.8 M358.8,297.3 l-3.2,-4.8 M364.1,293.4 l-3.7,-4.5 M362.8,294.5 l-3.7,-4.5 M367.7,290.1 l-4.1,-4.1 M366.5,291.3 l-4.1,-4.1 M370.9,286.4 l-4.5,-3.6 M369.8,287.7 l-4.5,-3.6 M373.7,282.3 l-4.9,-3.1 M372.8,283.8 l-4.9,-3.1 M376.0,278.1 l-5.2,-2.6 M375.3,279.6 l-5.2,-2.6 M377.9,273.5 l-5.4,-2.0 M377.3,275.1 l-5.4,-2.0 M379.4,268.8 l-5.6,-1.5 M378.9,270.5 l-5.6,-1.5 M380.3,264.0 l-5.7,-0.9 M380.0,265.7 l-5.7,-0.9 M380.7,259.2 l-5.8,-0.3 M380.6,260.9 l-5.8,-0.3 M368.2,254.9 l5.8,-0.4 M368.3,256.6 l5.8,-0.4 M367.4,250.0 l5.7,-1.2 M367.8,251.7 l5.7,-1.2 M366.0,245.3 l5.5,-2.0 M366.6,246.9 l5.5,-2.0 M363.9,240.9 l5.1,-2.7 M364.7,242.4 l5.1,-2.7 M361.2,236.8 l4.7,-3.4 M362.2,238.2 l4.7,-3.4 M358.0,233.2 l4.2,-4.0 M359.2,234.4 l4.2,-4.0 M354.2,230.0 l3.5,-4.6 M355.6,231.0 l3.5,-4.6 M350.1,227.4 l2.8,-5.1 M351.6,228.2 l2.8,-5.1 M345.6,225.4 l2.1,-5.4 M347.2,226.0 l2.1,-5.4 M340.9,224.1 l1.3,-5.7 M342.6,224.5 l1.3,-5.7 M336.0,223.5 l0.5,-5.8 M337.7,223.6 l0.5,-5.8 M331.2,223.5 l-0.3,-5.8 M332.8,223.4 l-0.3,-5.8 M326.3,224.3 l-1.2,-5.7 M328.0,223.9 l-1.2,-5.7 M321.6,225.7 l-2.0,-5.5 M323.2,225.1 l-2.0,-5.5 M317.2,227.8 l-2.7,-5.1 M318.7,227.0 l-2.7,-5.1 M313.1,230.5 l-3.4,-4.7 M314.5,229.5 l-3.4,-4.7 M309.5,233.7 l-4.1,-4.1 M310.7,232.5 l-4.1,-4.1 M306.3,237.5 l-4.6,-3.5 M307.3,236.1 l-4.6,-3.5 M303.7,241.6 l-5.1,-2.8 M304.5,240.1 l-5.1,-2.8 M301.7,246.1 l-5.4,-2.1 M302.3,244.5 l-5.4,-2.1 M300.4,250.8 l-5.7,-1.3 M300.8,249.2 l-5.7,-1.3 M299.7,255.7 l-5.8,-0.5 M299.9,254.0 l-5.8,-0.5 M299.8,260.6 l-5.8,0.4 M299.7,258.9 l-5.8,0.4 M300.6,265.4 l-5.7,1.2 M300.2,263.7 l-5.7,1.2 M302.0,270.1 l-5.5,2.0 M301.4,268.5 l-5.5,2.0 M304.1,274.5 l-5.1,2.7 M303.3,273.0 l-5.1,2.7 M306.8,278.6 l-4.7,3.4 M305.8,277.2 l-4.7,3.4 M310.0,282.3 l-4.1,4.1 M308.9,281.1 l-4.1,4.1 M313.8,285.4 l-3.5,4.6 M312.4,284.4 l-3.5,4.6 M317.9,288.0 l-2.8,5.1 M316.5,287.2 l-2.8,5.1 M322.4,290.0 l-2.1,5.4 M320.8,289.4 l-2.1,5.4 M327.1,291.3 l-1.3,5.7 M325.5,290.9 l-1.3,5.7 M332.0,291.9 l-0.5,5.8 M330.3,291.8 l-0.5,5.8 M336.9,291.9 l0.4,5.8 M335.2,292.0 l0.4,5.8 M341.7,291.1 l1.2,5.7 M340.1,291.5 l1.2,5.7 M346.4,289.7 l2.0,5.5 M344.8,290.3 l2.0,5.5 M350.8,287.6 l2.7,5.1 M349.3,288.4 l2.7,5.1 M354.9,284.9 l3.4,4.7 M353.6,285.9 l3.4,4.7 M358.6,281.6 l4.1,4.1 M357.4,282.8 l4.1,4.1 M361.7,277.9 l4.6,3.5 M360.7,279.2 l4.6,3.5 M364.3,273.7 l5.1,2.8 M363.5,275.2 l5.1,2.8 M366.3,269.3 l5.4,2.1 M365.7,270.8 l5.4,2.1 M367.6,264.5 l5.7,1.3 M367.2,266.2 l5.7,1.3 M368.3,259.7 l5.8,0.5 M368.1,261.4 l5.8,0.5" fill="none" stroke="#98c8e6" stroke-width="0.65"/>
<g fill="#acd7f1" stroke="#80b9df" stroke-width="0.6"><circle cx="380.7" cy="255.7" r="2.5"/><circle cx="380.2" cy="250.8" r="2.5"/><circle cx="379.2" cy="246.0" r="2.5"/><circle cx="377.7" cy="241.3" r="2.5"/><circle cx="375.8" cy="236.8" r="2.5"/><circle cx="373.4" cy="232.6" r="2.5"/><circle cx="370.5" cy="228.6" r="2.5"/><circle cx="367.3" cy="224.9" r="2.5"/><circle cx="363.7" cy="221.6" r="2.5"/><circle cx="359.7" cy="218.7" r="2.5"/><circle cx="355.5" cy="216.2" r="2.5"/><circle cx="351.0" cy="214.2" r="2.5"/><circle cx="346.4" cy="212.7" r="2.5"/><circle cx="341.6" cy="211.6" r="2.5"/><circle cx="336.7" cy="211.1" r="2.5"/><circle cx="331.8" cy="211.1" r="2.5"/><circle cx="327.0" cy="211.5" r="2.5"/><circle cx="322.2" cy="212.5" r="2.5"/><circle cx="317.5" cy="214.0" r="2.5"/><circle cx="313.0" cy="216.0" r="2.5"/><circle cx="308.8" cy="218.4" r="2.5"/><circle cx="304.8" cy="221.3" r="2.5"/><circle cx="301.1" cy="224.5" r="2.5"/><circle cx="297.8" cy="228.2" r="2.5"/><circle cx="294.9" cy="232.1" r="2.5"/><circle cx="292.5" cy="236.3" r="2.5"/><circle cx="290.5" cy="240.8" r="2.5"/><circle cx="288.9" cy="245.5" r="2.5"/><circle cx="287.9" cy="250.2" r="2.5"/><circle cx="287.4" cy="255.1" r="2.5"/><circle cx="287.4" cy="260.0" r="2.5"/><circle cx="287.9" cy="264.9" r="2.5"/><circle cx="288.9" cy="269.7" r="2.5"/><circle cx="290.4" cy="274.3" r="2.5"/><circle cx="292.3" cy="278.8" r="2.5"/><circle cx="294.8" cy="283.1" r="2.5"/><circle cx="297.7" cy="287.0" r="2.5"/><circle cx="300.9" cy="290.7" r="2.5"/><circle cx="304.6" cy="294.0" r="2.5"/><circle cx="308.5" cy="296.8" r="2.5"/><circle cx="312.8" cy="299.3" r="2.5"/><circle cx="317.2" cy="301.3" r="2.5"/><circle cx="321.9" cy="302.8" r="2.5"/><circle cx="326.7" cy="303.8" r="2.5"/><circle cx="331.6" cy="304.3" r="2.5"/><circle cx="336.4" cy="304.3" r="2.5"/><circle cx="341.3" cy="303.8" r="2.5"/><circle cx="346.1" cy="302.8" r="2.5"/><circle cx="350.8" cy="301.3" r="2.5"/><circle cx="355.2" cy="299.3" r="2.5"/><circle cx="359.5" cy="296.8" r="2.5"/><circle cx="363.4" cy="294.0" r="2.5"/><circle cx="367.1" cy="290.7" r="2.5"/><circle cx="370.3" cy="287.0" r="2.5"/><circle cx="373.2" cy="283.1" r="2.5"/><circle cx="375.7" cy="278.8" r="2.5"/><circle cx="377.6" cy="274.3" r="2.5"/><circle cx="379.1" cy="269.7" r="2.5"/><circle cx="380.1" cy="264.9" r="2.5"/><circle cx="380.6" cy="260.0" r="2.5"/><circle cx="368.2" cy="255.7" r="2.5"/><circle cx="367.6" cy="250.9" r="2.5"/><circle cx="366.3" cy="246.1" r="2.5"/><circle cx="364.3" cy="241.7" r="2.5"/><circle cx="361.7" cy="237.5" r="2.5"/><circle cx="358.6" cy="233.8" r="2.5"/><circle cx="354.9" cy="230.5" r="2.5"/><circle cx="350.8" cy="227.8" r="2.5"/><circle cx="346.4" cy="225.7" r="2.5"/><circle cx="341.7" cy="224.3" r="2.5"/><circle cx="336.9" cy="223.5" r="2.5"/><circle cx="332.0" cy="223.5" r="2.5"/><circle cx="327.1" cy="224.1" r="2.5"/><circle cx="322.4" cy="225.4" r="2.5"/><circle cx="317.9" cy="227.4" r="2.5"/><circle cx="313.8" cy="230.0" r="2.5"/><circle cx="310.1" cy="233.1" r="2.5"/><circle cx="306.8" cy="236.8" r="2.5"/><circle cx="304.1" cy="240.9" r="2.5"/><circle cx="302.0" cy="245.3" r="2.5"/><circle cx="300.6" cy="250.0" r="2.5"/><circle cx="299.8" cy="254.8" r="2.5"/><circle cx="299.8" cy="259.7" r="2.5"/><circle cx="300.4" cy="264.6" r="2.5"/><circle cx="301.7" cy="269.3" r="2.5"/><circle cx="303.7" cy="273.8" r="2.5"/><circle cx="306.3" cy="277.9" r="2.5"/><circle cx="309.5" cy="281.7" r="2.5"/><circle cx="313.1" cy="284.9" r="2.5"/><circle cx="317.2" cy="287.6" r="2.5"/><circle cx="321.6" cy="289.7" r="2.5"/><circle cx="326.3" cy="291.1" r="2.5"/><circle cx="331.1" cy="291.9" r="2.5"/><circle cx="336.0" cy="291.9" r="2.5"/><circle cx="340.9" cy="291.3" r="2.5"/><circle cx="345.6" cy="290.0" r="2.5"/><circle cx="350.1" cy="288.0" r="2.5"/><circle cx="354.2" cy="285.4" r="2.5"/><circle cx="358.0" cy="282.2" r="2.5"/><circle cx="361.2" cy="278.6" r="2.5"/><circle cx="363.9" cy="274.5" r="2.5"/><circle cx="366.0" cy="270.0" r="2.5"/><circle cx="367.4" cy="265.4" r="2.5"/><circle cx="368.2" cy="260.5" r="2.5"/></g>
<g transform="translate(280.8,106)" fill="#6ddbea" stroke="#3b9cab" stroke-width="0.85" stroke-linejoin="round"><path d="M-3.8,0 L3.6,25 M3.8,0 L-3.6,25" fill="none" stroke="#3b9cab" stroke-width="2.2"/><path d="M-3.8,0 L3.6,25 M3.8,0 L-3.6,25" fill="none" stroke="#5cc4d2" stroke-width="0.9"/><path d="M-8.8,-11.7 L-1.5,-11.7 Q-0.9,-5 -3.2,1.2 L-4.6,1.2 Q-5.6,-1.2 -8.4,-3.2 Q-7,-5 -5.4,-6.3 Q-7.4,-8.5 -8.8,-11.7 Z"/><path d="M8.8,-11.7 L1.5,-11.7 Q0.9,-5 3.2,1.2 L4.6,1.2 Q5.6,-1.2 8.4,-3.2 Q7,-5 5.4,-6.3 Q7.4,-8.5 8.8,-11.7 Z"/><path d="M-6.3,28 Q-6.3,24.5 -3.6,24.5 Q-0.9,24.5 -0.9,28 V37 Q-0.9,40.5 -3.6,40.8 Q-6.3,40.5 -6.3,37 Z"/><path d="M6.3,28 Q6.3,24.5 3.6,24.5 Q0.9,24.5 0.9,28 V37 Q0.9,40.5 3.6,40.8 Q6.3,40.5 6.3,37 Z"/></g>
<text x="291.7" y="140" font-size="15.1" fill="#111" font-weight="normal" text-anchor="start" font-style="normal" stroke="#111" stroke-width="0.28" >EGFR</text>
<g transform="translate(326.5,247) rotate(-43)" fill="#6ddbea" stroke="#3b9cab" stroke-width="0.85" stroke-linejoin="round"><path d="M-3.8,0 L3.6,25 M3.8,0 L-3.6,25" fill="none" stroke="#3b9cab" stroke-width="2.2"/><path d="M-3.8,0 L3.6,25 M3.8,0 L-3.6,25" fill="none" stroke="#5cc4d2" stroke-width="0.9"/><path d="M-8.8,-11.7 L-1.5,-11.7 Q-0.9,-5 -3.2,1.2 L-4.6,1.2 Q-5.6,-1.2 -8.4,-3.2 Q-7,-5 -5.4,-6.3 Q-7.4,-8.5 -8.8,-11.7 Z"/><path d="M8.8,-11.7 L1.5,-11.7 Q0.9,-5 3.2,1.2 L4.6,1.2 Q5.6,-1.2 8.4,-3.2 Q7,-5 5.4,-6.3 Q7.4,-8.5 8.8,-11.7 Z"/><path d="M-6.3,28 Q-6.3,24.5 -3.6,24.5 Q-0.9,24.5 -0.9,28 V37 Q-0.9,40.5 -3.6,40.8 Q-6.3,40.5 -6.3,37 Z"/><path d="M6.3,28 Q6.3,24.5 3.6,24.5 Q0.9,24.5 0.9,28 V37 Q0.9,40.5 3.6,40.8 Q6.3,40.5 6.3,37 Z"/></g>
<path d="M322.5,203 Q294,188 285,162" fill="none" stroke="#555" stroke-width="1.1"/>
<path d="M282.7,153.5 L289.5,163.5 L280.5,164.5 Z" fill="#555"/>
<text x="303.7" y="188.2" font-size="15.2" fill="#111" font-weight="normal" text-anchor="start" font-style="normal" stroke="#111" stroke-width="0.28" >Recycle</text>
<path d="M278.7,183 V297" stroke="#555" stroke-width="1.5"/>
<path d="M273.8,295 L283.6,295 L278.7,304 Z" fill="#555"/>
<text x="427" y="212" font-size="15.36" fill="#111" font-weight="normal" text-anchor="middle" font-style="normal" stroke="#111" stroke-width="0.28" >Caveolae-induced</text>
<text x="427.5" y="227.5" font-size="15.36" fill="#111" font-weight="normal" text-anchor="middle" font-style="normal" stroke="#111" stroke-width="0.28" >Endocytosis</text>
<path d="M442.8,234 Q442,250 426,256" fill="none" stroke="#555" stroke-width="1.1"/>
<path d="M419.5,258.5 L427,251.5 L429,259.5 Z" fill="#555"/>
<rect x="366" y="234.6" width="50" height="21.4" rx="4.5" fill="#dfe5f6" stroke="#8394c8" stroke-width="1.3"/>
<path d="M402,255.0 Q413,254.0 415,245.0 V252.0 Q415,255.0 412,255.0Z" fill="#c3cbea"/>
<text x="371.5" y="251" font-size="14.6" fill="#111" font-weight="normal" text-anchor="start" font-style="normal" stroke="#111" stroke-width="0.28" textLength="37" lengthAdjust="spacingAndGlyphs">CAV1</text>
<rect x="360.3" y="261" width="60.7" height="21.8" rx="4.5" fill="#dfe5f6" stroke="#8394c8" stroke-width="1.3"/>
<path d="M407.0,281.8 Q418.0,280.8 420.0,271.8 V278.8 Q420.0,281.8 417.0,281.8Z" fill="#c3cbea"/>
<text x="367" y="277.6" font-size="14.03" fill="#111" font-weight="normal" text-anchor="start" font-style="normal" stroke="#111" stroke-width="0.28" textLength="46" lengthAdjust="spacingAndGlyphs">CDC42</text>
<rect x="257.75" y="313.4" width="83.5" height="45.8" rx="3" fill="#c8e1f4"/>
<text x="299.5" y="332.6" font-size="15.44" fill="#111" font-weight="normal" text-anchor="middle" font-style="normal" stroke="#111" stroke-width="0.28" >PI3K/AKT</text>
<text x="299.8" y="347" font-size="15.2" fill="#111" font-weight="normal" text-anchor="middle" font-style="normal" stroke="#111" stroke-width="0.28" >pathway</text>
<defs><clipPath id="midclip"><path d="M255,68 H501.5 V379 Q501.5,385 495.5,385 H255 Z"/></clipPath></defs>
<g clip-path="url(#midclip)"><circle cx="447" cy="399" r="105" fill="#e3edf8"/><circle cx="447" cy="399" r="105" fill="none" stroke="#8fbfe6" stroke-width="3.6" stroke-dasharray="15 8" stroke-dashoffset="4"/></g>
<rect x="376" y="330" width="39.3" height="21" rx="4.5" fill="#dfe5f6" stroke="#8394c8" stroke-width="1.3"/>
<path d="M401.3,350 Q412.3,349 414.3,340 V347 Q414.3,350 411.3,350Z" fill="#c3cbea"/>
<text x="381" y="346.4" font-size="14.8" fill="#111" font-weight="normal" text-anchor="start" font-style="normal" stroke="#111" stroke-width="0.28" textLength="28" lengthAdjust="spacingAndGlyphs">SP1</text>
<text x="429" y="333.2" font-size="15" fill="#111" font-weight="normal" text-anchor="start" font-style="normal" stroke="#111" stroke-width="0.28" textLength="47.5" lengthAdjust="spacingAndGlyphs">PLAC1</text>
<path d="M426.6,352 V339 H482" fill="none" stroke="#2f6db5" stroke-width="1.8"/>
<path d="M480,334.5 L491.6,339 L480,343.5 Z" fill="#2f6db5"/>
<path d="M372.5,361.0 L373.0,361.6 L373.6,362.2 L374.1,362.7 L374.7,363.3 L375.2,363.8 L375.7,364.4 L376.3,364.9 L376.8,365.3 L377.4,365.8 L377.9,366.2 L378.4,366.6 L379.0,367.0 L379.5,367.3 L380.1,367.6 L380.6,367.8 L381.1,368.0 L381.7,368.2 L382.2,368.3 L382.8,368.4 L383.3,368.4 L383.8,368.4 L384.4,368.3 L384.9,368.2 L385.5,368.0 L386.0,367.8 L386.5,367.6 L387.1,367.3 L387.6,367.0 L388.2,366.6 L388.7,366.2 L389.2,365.8 L389.8,365.3 L390.3,364.9 L390.9,364.4 L391.4,363.8 L391.9,363.3 L392.5,362.7 L393.0,362.2 L393.6,361.6 L394.1,361.0 L394.6,360.4 L395.2,359.8 L395.7,359.3 L396.3,358.7 L396.8,358.2 L397.3,357.6 L397.9,357.1 L398.4,356.7 L399.0,356.2 L399.5,355.8 L400.0,355.4 L400.6,355.0 L401.1,354.7 L401.7,354.4 L402.2,354.2 L402.7,354.0 L403.3,353.8 L403.8,353.7 L404.4,353.6 L404.9,353.6 L405.4,353.6 L406.0,353.7 L406.5,353.8 L407.1,354.0 L407.6,354.2 L408.1,354.4 L408.7,354.7 L409.2,355.0 L409.8,355.4 L410.3,355.8 L410.8,356.2 L411.4,356.7 L411.9,357.1 L412.5,357.6 L413.0,358.2 L413.5,358.7 L414.1,359.3 L414.6,359.8 L415.2,360.4 L415.7,361.0 L416.2,361.6 L416.8,362.2 L417.3,362.7 L417.9,363.3 L418.4,363.8 L418.9,364.4 L419.5,364.9 L420.0,365.3 L420.6,365.8 L421.1,366.2 L421.6,366.6 L422.2,367.0 L422.7,367.3 L423.3,367.6 L423.8,367.8 L424.3,368.0 L424.9,368.2 L425.4,368.3 L426.0,368.4 L426.5,368.4 L427.0,368.4 L427.6,368.3 L428.1,368.2 L428.7,368.0 L429.2,367.8 L429.7,367.6 L430.3,367.3 L430.8,367.0 L431.4,366.6 L431.9,366.2 L432.4,365.8 L433.0,365.3 L433.5,364.9 L434.1,364.4 L434.6,363.8 L435.1,363.3 L435.7,362.7 L436.2,362.2 L436.8,361.6 L437.3,361.0 L437.8,360.4 L438.4,359.8 L438.9,359.3 L439.5,358.7 L440.0,358.2 L440.5,357.6 L441.1,357.1 L441.6,356.7 L442.2,356.2 L442.7,355.8 L443.2,355.4 L443.8,355.0 L444.3,354.7 L444.9,354.4 L445.4,354.2 L445.9,354.0 L446.5,353.8 L447.0,353.7 L447.6,353.6 L448.1,353.6 L448.6,353.6 L449.2,353.7 L449.7,353.8 L450.3,354.0 L450.8,354.2 L451.3,354.4 L451.9,354.7 L452.4,355.0 L453.0,355.4 L453.5,355.8 L454.0,356.2 L454.6,356.7 L455.1,357.1 L455.7,357.6 L456.2,358.2 L456.7,358.7 L457.3,359.3 L457.8,359.8 L458.4,360.4 L458.9,361.0 L459.4,361.6 L460.0,362.2 L460.5,362.7 L461.1,363.3 L461.6,363.8 L462.1,364.4 L462.7,364.9 L463.2,365.3 L463.8,365.8 L464.3,366.2 L464.8,366.6 L465.4,367.0 L465.9,367.3 L466.5,367.6 L467.0,367.8 L467.5,368.0 L468.1,368.2 L468.6,368.3 L469.2,368.4 L469.7,368.4 L470.2,368.4 L470.8,368.3 L471.3,368.2 L471.9,368.0 L472.4,367.8 L472.9,367.6 L473.5,367.3 L474.0,367.0 L474.6,366.6 L475.1,366.2 L475.6,365.8 L476.2,365.3 L476.7,364.9 L477.3,364.4 L477.8,363.8 L478.3,363.3 L478.9,362.7 L479.4,362.2 L480.0,361.6 L480.5,361.0 L480.5,361.0 L480.0,360.4 L479.4,359.8 L478.9,359.3 L478.3,358.7 L477.8,358.2 L477.3,357.6 L476.7,357.1 L476.2,356.7 L475.6,356.2 L475.1,355.8 L474.6,355.4 L474.0,355.0 L473.5,354.7 L472.9,354.4 L472.4,354.2 L471.9,354.0 L471.3,353.8 L470.8,353.7 L470.2,353.6 L469.7,353.6 L469.2,353.6 L468.6,353.7 L468.1,353.8 L467.5,354.0 L467.0,354.2 L466.5,354.4 L465.9,354.7 L465.4,355.0 L464.8,355.4 L464.3,355.8 L463.8,356.2 L463.2,356.7 L462.7,357.1 L462.1,357.6 L461.6,358.2 L461.1,358.7 L460.5,359.3 L460.0,359.8 L459.4,360.4 L458.9,361.0 L458.4,361.6 L457.8,362.2 L457.3,362.7 L456.7,363.3 L456.2,363.8 L455.7,364.4 L455.1,364.9 L454.6,365.3 L454.0,365.8 L453.5,366.2 L453.0,366.6 L452.4,367.0 L451.9,367.3 L451.3,367.6 L450.8,367.8 L450.3,368.0 L449.7,368.2 L449.2,368.3 L448.6,368.4 L448.1,368.4 L447.6,368.4 L447.0,368.3 L446.5,368.2 L445.9,368.0 L445.4,367.8 L444.9,367.6 L444.3,367.3 L443.8,367.0 L443.2,366.6 L442.7,366.2 L442.2,365.8 L441.6,365.3 L441.1,364.9 L440.5,364.4 L440.0,363.8 L439.5,363.3 L438.9,362.7 L438.4,362.2 L437.8,361.6 L437.3,361.0 L436.8,360.4 L436.2,359.8 L435.7,359.3 L435.1,358.7 L434.6,358.2 L434.1,357.6 L433.5,357.1 L433.0,356.7 L432.4,356.2 L431.9,355.8 L431.4,355.4 L430.8,355.0 L430.3,354.7 L429.7,354.4 L429.2,354.2 L428.7,354.0 L428.1,353.8 L427.6,353.7 L427.0,353.6 L426.5,353.6 L426.0,353.6 L425.4,353.7 L424.9,353.8 L424.3,354.0 L423.8,354.2 L423.3,354.4 L422.7,354.7 L422.2,355.0 L421.6,355.4 L421.1,355.8 L420.6,356.2 L420.0,356.7 L419.5,357.1 L418.9,357.6 L418.4,358.2 L417.9,358.7 L417.3,359.3 L416.8,359.8 L416.2,360.4 L415.7,361.0 L415.2,361.6 L414.6,362.2 L414.1,362.7 L413.5,363.3 L413.0,363.8 L412.5,364.4 L411.9,364.9 L411.4,365.3 L410.8,365.8 L410.3,366.2 L409.8,366.6 L409.2,367.0 L408.7,367.3 L408.1,367.6 L407.6,367.8 L407.1,368.0 L406.5,368.2 L406.0,368.3 L405.4,368.4 L404.9,368.4 L404.4,368.4 L403.8,368.3 L403.3,368.2 L402.7,368.0 L402.2,367.8 L401.7,367.6 L401.1,367.3 L400.6,367.0 L400.0,366.6 L399.5,366.2 L399.0,365.8 L398.4,365.3 L397.9,364.9 L397.3,364.4 L396.8,363.8 L396.3,363.3 L395.7,362.7 L395.2,362.2 L394.6,361.6 L394.1,361.0 L393.6,360.4 L393.0,359.8 L392.5,359.3 L391.9,358.7 L391.4,358.2 L390.9,357.6 L390.3,357.1 L389.8,356.7 L389.2,356.2 L388.7,355.8 L388.2,355.4 L387.6,355.0 L387.1,354.7 L386.5,354.4 L386.0,354.2 L385.5,354.0 L384.9,353.8 L384.4,353.7 L383.8,353.6 L383.3,353.6 L382.8,353.6 L382.2,353.7 L381.7,353.8 L381.1,354.0 L380.6,354.2 L380.1,354.4 L379.5,354.7 L379.0,355.0 L378.4,355.4 L377.9,355.8 L377.4,356.2 L376.8,356.7 L376.3,357.1 L375.7,357.6 L375.2,358.2 L374.7,358.7 L374.1,359.3 L373.6,359.8 L373.0,360.4 L372.5,361.0Z" fill="#8ea9e6"/>
<path d="M375.1,360.0 V362.0 M378.2,357.2 V364.8 M381.3,355.6 V366.4 M384.4,355.4 V366.6 M387.5,356.6 V365.4 M390.6,359.1 V362.9 M396.8,359.9 V362.1 M399.9,357.2 V364.8 M403.0,355.6 V366.4 M406.1,355.4 V366.6 M409.2,356.7 V365.3 M412.3,359.2 V362.8 M418.5,359.8 V362.2 M421.6,357.1 V364.9 M424.7,355.6 V366.4 M427.8,355.4 V366.6 M430.9,356.8 V365.2 M434.0,359.3 V362.7 M440.2,359.7 V362.3 M443.3,357.0 V365.0 M446.4,355.5 V366.5 M449.5,355.5 V366.5 M452.6,356.8 V365.2 M455.7,359.4 V362.6 M461.9,359.6 V362.4 M465.0,357.0 V365.0 M468.1,355.5 V366.5 M471.2,355.5 V366.5 M474.3,356.9 V365.1 M477.4,359.5 V362.5" stroke="#f2f5fc" stroke-width="1.1"/>
<path d="M372.5,361.0 L373.0,360.4 L373.6,359.8 L374.1,359.3 L374.7,358.7 L375.2,358.2 L375.7,357.6 L376.3,357.1 L376.8,356.7 L377.4,356.2 L377.9,355.8 L378.4,355.4 L379.0,355.0 L379.5,354.7 L380.1,354.4 L380.6,354.2 L381.1,354.0 L381.7,353.8 L382.2,353.7 L382.8,353.6 L383.3,353.6 L383.8,353.6 L384.4,353.7 L384.9,353.8 L385.5,354.0 L386.0,354.2 L386.5,354.4 L387.1,354.7 L387.6,355.0 L388.2,355.4 L388.7,355.8 L389.2,356.2 L389.8,356.7 L390.3,357.1 L390.9,357.6 L391.4,358.2 L391.9,358.7 L392.5,359.3 L393.0,359.8 L393.6,360.4 L394.1,361.0 L394.6,361.6 L395.2,362.2 L395.7,362.7 L396.3,363.3 L396.8,363.8 L397.3,364.4 L397.9,364.9 L398.4,365.3 L399.0,365.8 L399.5,366.2 L400.0,366.6 L400.6,367.0 L401.1,367.3 L401.7,367.6 L402.2,367.8 L402.7,368.0 L403.3,368.2 L403.8,368.3 L404.4,368.4 L404.9,368.4 L405.4,368.4 L406.0,368.3 L406.5,368.2 L407.1,368.0 L407.6,367.8 L408.1,367.6 L408.7,367.3 L409.2,367.0 L409.8,366.6 L410.3,366.2 L410.8,365.8 L411.4,365.3 L411.9,364.9 L412.5,364.4 L413.0,363.8 L413.5,363.3 L414.1,362.7 L414.6,362.2 L415.2,361.6 L415.7,361.0 L416.2,360.4 L416.8,359.8 L417.3,359.3 L417.9,358.7 L418.4,358.2 L418.9,357.6 L419.5,357.1 L420.0,356.7 L420.6,356.2 L421.1,355.8 L421.6,355.4 L422.2,355.0 L422.7,354.7 L423.3,354.4 L423.8,354.2 L424.3,354.0 L424.9,353.8 L425.4,353.7 L426.0,353.6 L426.5,353.6 L427.0,353.6 L427.6,353.7 L428.1,353.8 L428.7,354.0 L429.2,354.2 L429.7,354.4 L430.3,354.7 L430.8,355.0 L431.4,355.4 L431.9,355.8 L432.4,356.2 L433.0,356.7 L433.5,357.1 L434.1,357.6 L434.6,358.2 L435.1,358.7 L435.7,359.3 L436.2,359.8 L436.8,360.4 L437.3,361.0 L437.8,361.6 L438.4,362.2 L438.9,362.7 L439.5,363.3 L440.0,363.8 L440.5,364.4 L441.1,364.9 L441.6,365.3 L442.2,365.8 L442.7,366.2 L443.2,366.6 L443.8,367.0 L444.3,367.3 L444.9,367.6 L445.4,367.8 L445.9,368.0 L446.5,368.2 L447.0,368.3 L447.6,368.4 L448.1,368.4 L448.6,368.4 L449.2,368.3 L449.7,368.2 L450.3,368.0 L450.8,367.8 L451.3,367.6 L451.9,367.3 L452.4,367.0 L453.0,366.6 L453.5,366.2 L454.0,365.8 L454.6,365.3 L455.1,364.9 L455.7,364.4 L456.2,363.8 L456.7,363.3 L457.3,362.7 L457.8,362.2 L458.4,361.6 L458.9,361.0 L459.4,360.4 L460.0,359.8 L460.5,359.3 L461.1,358.7 L461.6,358.2 L462.1,357.6 L462.7,357.1 L463.2,356.7 L463.8,356.2 L464.3,355.8 L464.8,355.4 L465.4,355.0 L465.9,354.7 L466.5,354.4 L467.0,354.2 L467.5,354.0 L468.1,353.8 L468.6,353.7 L469.2,353.6 L469.7,353.6 L470.2,353.6 L470.8,353.7 L471.3,353.8 L471.9,354.0 L472.4,354.2 L472.9,354.4 L473.5,354.7 L474.0,355.0 L474.6,355.4 L475.1,355.8 L475.6,356.2 L476.2,356.7 L476.7,357.1 L477.3,357.6 L477.8,358.2 L478.3,358.7 L478.9,359.3 L479.4,359.8 L480.0,360.4 L480.5,361.0" fill="none" stroke="#7393dc" stroke-width="2.5"/>
<path d="M372.5,361.0 L373.0,361.6 L373.6,362.2 L374.1,362.7 L374.7,363.3 L375.2,363.8 L375.7,364.4 L376.3,364.9 L376.8,365.3 L377.4,365.8 L377.9,366.2 L378.4,366.6 L379.0,367.0 L379.5,367.3 L380.1,367.6 L380.6,367.8 L381.1,368.0 L381.7,368.2 L382.2,368.3 L382.8,368.4 L383.3,368.4 L383.8,368.4 L384.4,368.3 L384.9,368.2 L385.5,368.0 L386.0,367.8 L386.5,367.6 L387.1,367.3 L387.6,367.0 L388.2,366.6 L388.7,366.2 L389.2,365.8 L389.8,365.3 L390.3,364.9 L390.9,364.4 L391.4,363.8 L391.9,363.3 L392.5,362.7 L393.0,362.2 L393.6,361.6 L394.1,361.0 L394.6,360.4 L395.2,359.8 L395.7,359.3 L396.3,358.7 L396.8,358.2 L397.3,357.6 L397.9,357.1 L398.4,356.7 L399.0,356.2 L399.5,355.8 L400.0,355.4 L400.6,355.0 L401.1,354.7 L401.7,354.4 L402.2,354.2 L402.7,354.0 L403.3,353.8 L403.8,353.7 L404.4,353.6 L404.9,353.6 L405.4,353.6 L406.0,353.7 L406.5,353.8 L407.1,354.0 L407.6,354.2 L408.1,354.4 L408.7,354.7 L409.2,355.0 L409.8,355.4 L410.3,355.8 L410.8,356.2 L411.4,356.7 L411.9,357.1 L412.5,357.6 L413.0,358.2 L413.5,358.7 L414.1,359.3 L414.6,359.8 L415.2,360.4 L415.7,361.0 L416.2,361.6 L416.8,362.2 L417.3,362.7 L417.9,363.3 L418.4,363.8 L418.9,364.4 L419.5,364.9 L420.0,365.3 L420.6,365.8 L421.1,366.2 L421.6,366.6 L422.2,367.0 L422.7,367.3 L423.3,367.6 L423.8,367.8 L424.3,368.0 L424.9,368.2 L425.4,368.3 L426.0,368.4 L426.5,368.4 L427.0,368.4 L427.6,368.3 L428.1,368.2 L428.7,368.0 L429.2,367.8 L429.7,367.6 L430.3,367.3 L430.8,367.0 L431.4,366.6 L431.9,366.2 L432.4,365.8 L433.0,365.3 L433.5,364.9 L434.1,364.4 L434.6,363.8 L435.1,363.3 L435.7,362.7 L436.2,362.2 L436.8,361.6 L437.3,361.0 L437.8,360.4 L438.4,359.8 L438.9,359.3 L439.5,358.7 L440.0,358.2 L440.5,357.6 L441.1,357.1 L441.6,356.7 L442.2,356.2 L442.7,355.8 L443.2,355.4 L443.8,355.0 L444.3,354.7 L444.9,354.4 L445.4,354.2 L445.9,354.0 L446.5,353.8 L447.0,353.7 L447.6,353.6 L448.1,353.6 L448.6,353.6 L449.2,353.7 L449.7,353.8 L450.3,354.0 L450.8,354.2 L451.3,354.4 L451.9,354.7 L452.4,355.0 L453.0,355.4 L453.5,355.8 L454.0,356.2 L454.6,356.7 L455.1,357.1 L455.7,357.6 L456.2,358.2 L456.7,358.7 L457.3,359.3 L457.8,359.8 L458.4,360.4 L458.9,361.0 L459.4,361.6 L460.0,362.2 L460.5,362.7 L461.1,363.3 L461.6,363.8 L462.1,364.4 L462.7,364.9 L463.2,365.3 L463.8,365.8 L464.3,366.2 L464.8,366.6 L465.4,367.0 L465.9,367.3 L466.5,367.6 L467.0,367.8 L467.5,368.0 L468.1,368.2 L468.6,368.3 L469.2,368.4 L469.7,368.4 L470.2,368.4 L470.8,368.3 L471.3,368.2 L471.9,368.0 L472.4,367.8 L472.9,367.6 L473.5,367.3 L474.0,367.0 L474.6,366.6 L475.1,366.2 L475.6,365.8 L476.2,365.3 L476.7,364.9 L477.3,364.4 L477.8,363.8 L478.3,363.3 L478.9,362.7 L479.4,362.2 L480.0,361.6 L480.5,361.0" fill="none" stroke="#4463b8" stroke-width="2.9"/>
<path d="M372.5,361 Q366.5,369 361,367.5" fill="none" stroke="#4463b8" stroke-width="1.3"/>
<path d="M372.5,361 Q366.5,354 362,353" fill="none" stroke="#7393dc" stroke-width="1.1"/>
<path d="M480.5,361 Q486.5,353 493.5,353.5" fill="none" stroke="#4463b8" stroke-width="1.3"/>
<path d="M480.5,361 Q486.5,368 492.5,369" fill="none" stroke="#7393dc" stroke-width="1.1"/>
<text x="526" y="117.8" font-size="12.55" fill="#111" font-weight="normal" text-anchor="start" font-style="normal" stroke="#111" stroke-width="0.28" >CXCL11</text>
<path d="M577,120.6 Q588,108 606,114.5" fill="none" stroke="#555" stroke-width="1.1"/>
<path d="M612.5,115.5 L603,110 L603.5,119 Z" fill="#555"/>
<defs><linearGradient id="cone" x1="0" y1="0" x2="0" y2="1"><stop offset="0" stop-color="#d7b8ea" stop-opacity="0"/><stop offset="1" stop-color="#c9a3e6" stop-opacity="0.95"/></linearGradient><linearGradient id="ltacone" x1="1" y1="0" x2="0" y2="0"><stop offset="0" stop-color="#c6e9ec" stop-opacity="0.6"/><stop offset="1" stop-color="#e6f4f3" stop-opacity="0"/></linearGradient></defs>
<path d="M521,150 Q538,160 542,184 L556,184 Q560,160 573,150 Z" fill="url(#cone)"/>
<circle cx="535.4" cy="128.1" r="2.3" fill="#ecc0ee" stroke="#9c5cb0" stroke-width="0.9" opacity="0.6"/>
<circle cx="551.8" cy="130.2" r="2.8" fill="#ecc0ee" stroke="#9c5cb0" stroke-width="0.9" opacity="1"/>
<circle cx="533.6" cy="139.4" r="2.8" fill="#ecc0ee" stroke="#9c5cb0" stroke-width="0.9" opacity="1"/>
<circle cx="546.6" cy="140.5" r="2.5" fill="#ecc0ee" stroke="#9c5cb0" stroke-width="0.9" opacity="0.6"/>
<circle cx="557" cy="141.7" r="2.8" fill="#ecc0ee" stroke="#9c5cb0" stroke-width="0.9" opacity="1"/>
<circle cx="537.6" cy="152" r="3" fill="#ecc0ee" stroke="#9c5cb0" stroke-width="0.9" opacity="1"/>
<circle cx="554.3" cy="149" r="3" fill="#ecc0ee" stroke="#9c5cb0" stroke-width="0.9" opacity="1"/>
<circle cx="567.5" cy="147.5" r="2.8" fill="#ecc0ee" stroke="#9c5cb0" stroke-width="0.9" opacity="1"/>
<circle cx="544.4" cy="160.8" r="2.8" fill="#ecc0ee" stroke="#9c5cb0" stroke-width="0.9" opacity="1"/>
<circle cx="625.7" cy="120" r="3" fill="#ecc0ee" stroke="#9c5cb0" stroke-width="0.9" opacity="1"/>
<circle cx="628.3" cy="127.3" r="3" fill="#ecc0ee" stroke="#9c5cb0" stroke-width="0.9" opacity="1"/>
<circle cx="637.7" cy="117.3" r="2.8" fill="#ecc0ee" stroke="#9c5cb0" stroke-width="0.9" opacity="1"/>
<path d="M757.7,129.4 L757.7,130.7 L757.7,131.9 L757.6,133.2 L757.5,134.4 L757.4,135.7 L757.2,136.9 L757.0,138.1 L756.8,139.4 L756.5,140.6 L756.2,141.8 L755.8,143.0 L755.4,144.2 L755.0,145.4 L754.5,146.5 L754.0,147.7 L753.5,148.8 L752.9,149.9 L752.3,151.0 L751.7,152.1 L751.0,153.2 L750.3,154.2 L749.6,155.2 L748.9,156.2 L748.1,157.2 L747.3,158.1 L746.5,159.0 L745.6,159.9 L744.7,160.8 L743.8,161.7 L742.9,162.5 L742.0,163.3 L741.1,164.1 L740.1,164.8 L739.1,165.6 L738.1,166.3 L737.1,166.9 L736.1,167.6 L735.0,168.2 L734.0,168.8 L732.9,169.4 L731.8,170.0 L730.7,170.5 L729.6,171.0 L728.5,171.5 L727.4,172.0 L726.3,172.4 L725.1,172.8 L724.0,173.2 L722.8,173.6 L721.7,173.9 L720.5,174.2 L719.3,174.5 L718.1,174.8 L717.0,175.0 L715.8,175.2 L714.6,175.4 L713.3,175.6 L712.1,175.7 L710.9,175.8 L709.7,175.9 L708.5,175.9 L707.2,176.0 L706.0,175.9 L704.8,175.9 L703.6,175.8 L702.3,175.7 L701.1,175.6 L699.9,175.4 L698.7,175.2 L697.4,175.0 L696.2,174.7 L695.0,174.4 L693.8,174.1 L692.6,173.7 L691.4,173.3 L690.3,172.9 L689.1,172.4 L688.0,171.9 L686.8,171.4 L685.7,170.8 L684.6,170.2 L683.5,169.5 L682.5,168.9 L681.4,168.2 L680.4,167.4 L679.4,166.7 L678.4,165.9 L677.5,165.0 L676.6,164.2 L675.7,163.3 L674.8,162.4 L674.0,161.4 L673.2,160.5 L672.4,159.5 L671.6,158.5 L670.9,157.5 L670.2,156.4 L669.6,155.3 L669.0,154.3 L668.4,153.2 L667.8,152.0 L667.3,150.9 L666.8,149.8 L666.4,148.6 L665.9,147.4 L665.5,146.3 L665.2,145.1 L664.9,143.9 L664.6,142.7 L664.3,141.5 L664.1,140.3 L663.9,139.1 L663.7,137.9 L663.6,136.7 L663.4,135.5 L663.4,134.3 L663.3,133.0 L663.3,131.8 L663.3,130.6 L663.3,129.4 L663.3,128.2 L663.4,127.0 L663.5,125.8 L663.7,124.6 L663.8,123.4 L664.0,122.2 L664.2,121.0 L664.5,119.8 L664.7,118.6 L665.0,117.5 L665.3,116.3 L665.6,115.1 L666.0,114.0 L666.4,112.8 L666.8,111.7 L667.2,110.6 L667.7,109.5 L668.2,108.3 L668.7,107.2 L669.3,106.2 L669.8,105.1 L670.4,104.0 L671.1,103.0 L671.7,101.9 L672.4,100.9 L673.1,99.9 L673.8,98.9 L674.6,97.9 L675.4,97.0 L676.2,96.0 L677.0,95.1 L677.9,94.2 L678.8,93.3 L679.7,92.5 L680.6,91.7 L681.6,90.9 L682.6,90.1 L683.6,89.4 L684.6,88.7 L685.7,88.0 L686.8,87.4 L687.9,86.8 L689.0,86.2 L690.1,85.6 L691.3,85.1 L692.4,84.6 L693.6,84.2 L694.8,83.8 L696.0,83.4 L697.2,83.1 L698.5,82.8 L699.7,82.6 L700.9,82.4 L702.2,82.2 L703.4,82.0 L704.7,81.9 L705.9,81.9 L707.2,81.8 L708.4,81.8 L709.7,81.9 L710.9,82.0 L712.2,82.1 L713.4,82.2 L714.7,82.4 L715.9,82.6 L717.1,82.9 L718.3,83.2 L719.5,83.5 L720.7,83.8 L721.9,84.2 L723.0,84.6 L724.2,85.0 L725.3,85.5 L726.4,86.0 L727.6,86.5 L728.7,87.0 L729.7,87.6 L730.8,88.1 L731.9,88.8 L732.9,89.4 L733.9,90.0 L734.9,90.7 L735.9,91.4 L736.9,92.1 L737.9,92.8 L738.8,93.6 L739.7,94.4 L740.7,95.2 L741.5,96.0 L742.4,96.8 L743.3,97.7 L744.1,98.5 L744.9,99.4 L745.7,100.3 L746.5,101.3 L747.3,102.2 L748.0,103.2 L748.8,104.1 L749.5,105.1 L750.1,106.2 L750.8,107.2 L751.4,108.2 L752.0,109.3 L752.6,110.4 L753.2,111.5 L753.7,112.6 L754.2,113.7 L754.6,114.9 L755.1,116.0 L755.5,117.2 L755.9,118.4 L756.2,119.6 L756.5,120.8 L756.8,122.0 L757.0,123.2 L757.2,124.4 L757.4,125.7 L757.5,126.9 L757.6,128.2Z" fill="#c4e0f4"/>
<path d="M748,108 Q760,150 730,170 Q712,178 684,172 Q716,168 736,150 Q750,130 748,108Z" fill="#a9d1ee"/>
<ellipse cx="712.7" cy="128.2" rx="23" ry="22" fill="#64a6dc"/>
<ellipse cx="689" cy="131" rx="8.5" ry="15" transform="rotate(22 689 131)" fill="#e6f2fb" opacity="0.65"/>
<ellipse cx="698" cy="107.6" rx="5.5" ry="4" transform="rotate(-20 698 107.6)" fill="#e6f2fb" opacity="0.85"/>
<path d="M757.7,129.4 L757.7,130.7 L757.7,131.9 L757.6,133.2 L757.5,134.4 L757.4,135.7 L757.2,136.9 L757.0,138.1 L756.8,139.4 L756.5,140.6 L756.2,141.8 L755.8,143.0 L755.4,144.2 L755.0,145.4 L754.5,146.5 L754.0,147.7 L753.5,148.8 L752.9,149.9 L752.3,151.0 L751.7,152.1 L751.0,153.2 L750.3,154.2 L749.6,155.2 L748.9,156.2 L748.1,157.2 L747.3,158.1 L746.5,159.0 L745.6,159.9 L744.7,160.8 L743.8,161.7 L742.9,162.5 L742.0,163.3 L741.1,164.1 L740.1,164.8 L739.1,165.6 L738.1,166.3 L737.1,166.9 L736.1,167.6 L735.0,168.2 L734.0,168.8 L732.9,169.4 L731.8,170.0 L730.7,170.5 L729.6,171.0 L728.5,171.5 L727.4,172.0 L726.3,172.4 L725.1,172.8 L724.0,173.2 L722.8,173.6 L721.7,173.9 L720.5,174.2 L719.3,174.5 L718.1,174.8 L717.0,175.0 L715.8,175.2 L714.6,175.4 L713.3,175.6 L712.1,175.7 L710.9,175.8 L709.7,175.9 L708.5,175.9 L707.2,176.0 L706.0,175.9 L704.8,175.9 L703.6,175.8 L702.3,175.7 L701.1,175.6 L699.9,175.4 L698.7,175.2 L697.4,175.0 L696.2,174.7 L695.0,174.4 L693.8,174.1 L692.6,173.7 L691.4,173.3 L690.3,172.9 L689.1,172.4 L688.0,171.9 L686.8,171.4 L685.7,170.8 L684.6,170.2 L683.5,169.5 L682.5,168.9 L681.4,168.2 L680.4,167.4 L679.4,166.7 L678.4,165.9 L677.5,165.0 L676.6,164.2 L675.7,163.3 L674.8,162.4 L674.0,161.4 L673.2,160.5 L672.4,159.5 L671.6,158.5 L670.9,157.5 L670.2,156.4 L669.6,155.3 L669.0,154.3 L668.4,153.2 L667.8,152.0 L667.3,150.9 L666.8,149.8 L666.4,148.6 L665.9,147.4 L665.5,146.3 L665.2,145.1 L664.9,143.9 L664.6,142.7 L664.3,141.5 L664.1,140.3 L663.9,139.1 L663.7,137.9 L663.6,136.7 L663.4,135.5 L663.4,134.3 L663.3,133.0 L663.3,131.8 L663.3,130.6 L663.3,129.4 L663.3,128.2 L663.4,127.0 L663.5,125.8 L663.7,124.6 L663.8,123.4 L664.0,122.2 L664.2,121.0 L664.5,119.8 L664.7,118.6 L665.0,117.5 L665.3,116.3 L665.6,115.1 L666.0,114.0 L666.4,112.8 L666.8,111.7 L667.2,110.6 L667.7,109.5 L668.2,108.3 L668.7,107.2 L669.3,106.2 L669.8,105.1 L670.4,104.0 L671.1,103.0 L671.7,101.9 L672.4,100.9 L673.1,99.9 L673.8,98.9 L674.6,97.9 L675.4,97.0 L676.2,96.0 L677.0,95.1 L677.9,94.2 L678.8,93.3 L679.7,92.5 L680.6,91.7 L681.6,90.9 L682.6,90.1 L683.6,89.4 L684.6,88.7 L685.7,88.0 L686.8,87.4 L687.9,86.8 L689.0,86.2 L690.1,85.6 L691.3,85.1 L692.4,84.6 L693.6,84.2 L694.8,83.8 L696.0,83.4 L697.2,83.1 L698.5,82.8 L699.7,82.6 L700.9,82.4 L702.2,82.2 L703.4,82.0 L704.7,81.9 L705.9,81.9 L707.2,81.8 L708.4,81.8 L709.7,81.9 L710.9,82.0 L712.2,82.1 L713.4,82.2 L714.7,82.4 L715.9,82.6 L717.1,82.9 L718.3,83.2 L719.5,83.5 L720.7,83.8 L721.9,84.2 L723.0,84.6 L724.2,85.0 L725.3,85.5 L726.4,86.0 L727.6,86.5 L728.7,87.0 L729.7,87.6 L730.8,88.1 L731.9,88.8 L732.9,89.4 L733.9,90.0 L734.9,90.7 L735.9,91.4 L736.9,92.1 L737.9,92.8 L738.8,93.6 L739.7,94.4 L740.7,95.2 L741.5,96.0 L742.4,96.8 L743.3,97.7 L744.1,98.5 L744.9,99.4 L745.7,100.3 L746.5,101.3 L747.3,102.2 L748.0,103.2 L748.8,104.1 L749.5,105.1 L750.1,106.2 L750.8,107.2 L751.4,108.2 L752.0,109.3 L752.6,110.4 L753.2,111.5 L753.7,112.6 L754.2,113.7 L754.6,114.9 L755.1,116.0 L755.5,117.2 L755.9,118.4 L756.2,119.6 L756.5,120.8 L756.8,122.0 L757.0,123.2 L757.2,124.4 L757.4,125.7 L757.5,126.9 L757.6,128.2Z" fill="none" stroke="#7a7a84" stroke-width="2.3"/>
<path d="M757.7,129.4 L757.7,130.7 L757.7,131.9 L757.6,133.2 L757.5,134.4 L757.4,135.7 L757.2,136.9 L757.0,138.1 L756.8,139.4 L756.5,140.6 L756.2,141.8 L755.8,143.0 L755.4,144.2 L755.0,145.4 L754.5,146.5 L754.0,147.7 L753.5,148.8 L752.9,149.9 L752.3,151.0 L751.7,152.1 L751.0,153.2 L750.3,154.2 L749.6,155.2 L748.9,156.2 L748.1,157.2 L747.3,158.1 L746.5,159.0 L745.6,159.9 L744.7,160.8 L743.8,161.7 L742.9,162.5 L742.0,163.3 L741.1,164.1 L740.1,164.8 L739.1,165.6 L738.1,166.3 L737.1,166.9 L736.1,167.6 L735.0,168.2 L734.0,168.8 L732.9,169.4 L731.8,170.0 L730.7,170.5 L729.6,171.0 L728.5,171.5 L727.4,172.0 L726.3,172.4 L725.1,172.8 L724.0,173.2 L722.8,173.6 L721.7,173.9 L720.5,174.2 L719.3,174.5 L718.1,174.8 L717.0,175.0 L715.8,175.2 L714.6,175.4 L713.3,175.6 L712.1,175.7 L710.9,175.8 L709.7,175.9 L708.5,175.9 L707.2,176.0 L706.0,175.9 L704.8,175.9 L703.6,175.8 L702.3,175.7 L701.1,175.6 L699.9,175.4 L698.7,175.2 L697.4,175.0 L696.2,174.7 L695.0,174.4 L693.8,174.1 L692.6,173.7 L691.4,173.3 L690.3,172.9 L689.1,172.4 L688.0,171.9 L686.8,171.4 L685.7,170.8 L684.6,170.2 L683.5,169.5 L682.5,168.9 L681.4,168.2 L680.4,167.4 L679.4,166.7 L678.4,165.9 L677.5,165.0 L676.6,164.2 L675.7,163.3 L674.8,162.4 L674.0,161.4 L673.2,160.5 L672.4,159.5 L671.6,158.5 L670.9,157.5 L670.2,156.4 L669.6,155.3 L669.0,154.3 L668.4,153.2 L667.8,152.0 L667.3,150.9 L666.8,149.8 L666.4,148.6 L665.9,147.4 L665.5,146.3 L665.2,145.1 L664.9,143.9 L664.6,142.7 L664.3,141.5 L664.1,140.3 L663.9,139.1 L663.7,137.9 L663.6,136.7 L663.4,135.5 L663.4,134.3 L663.3,133.0 L663.3,131.8 L663.3,130.6 L663.3,129.4 L663.3,128.2 L663.4,127.0 L663.5,125.8 L663.7,124.6 L663.8,123.4 L664.0,122.2 L664.2,121.0 L664.5,119.8 L664.7,118.6 L665.0,117.5 L665.3,116.3 L665.6,115.1 L666.0,114.0 L666.4,112.8 L666.8,111.7 L667.2,110.6 L667.7,109.5 L668.2,108.3 L668.7,107.2 L669.3,106.2 L669.8,105.1 L670.4,104.0 L671.1,103.0 L671.7,101.9 L672.4,100.9 L673.1,99.9 L673.8,98.9 L674.6,97.9 L675.4,97.0 L676.2,96.0 L677.0,95.1 L677.9,94.2 L678.8,93.3 L679.7,92.5 L680.6,91.7 L681.6,90.9 L682.6,90.1 L683.6,89.4 L684.6,88.7 L685.7,88.0 L686.8,87.4 L687.9,86.8 L689.0,86.2 L690.1,85.6 L691.3,85.1 L692.4,84.6 L693.6,84.2 L694.8,83.8 L696.0,83.4 L697.2,83.1 L698.5,82.8 L699.7,82.6 L700.9,82.4 L702.2,82.2 L703.4,82.0 L704.7,81.9 L705.9,81.9 L707.2,81.8 L708.4,81.8 L709.7,81.9 L710.9,82.0 L712.2,82.1 L713.4,82.2 L714.7,82.4 L715.9,82.6 L717.1,82.9 L718.3,83.2 L719.5,83.5 L720.7,83.8 L721.9,84.2 L723.0,84.6 L724.2,85.0 L725.3,85.5 L726.4,86.0 L727.6,86.5 L728.7,87.0 L729.7,87.6 L730.8,88.1 L731.9,88.8 L732.9,89.4 L733.9,90.0 L734.9,90.7 L735.9,91.4 L736.9,92.1 L737.9,92.8 L738.8,93.6 L739.7,94.4 L740.7,95.2 L741.5,96.0 L742.4,96.8 L743.3,97.7 L744.1,98.5 L744.9,99.4 L745.7,100.3 L746.5,101.3 L747.3,102.2 L748.0,103.2 L748.8,104.1 L749.5,105.1 L750.1,106.2 L750.8,107.2 L751.4,108.2 L752.0,109.3 L752.6,110.4 L753.2,111.5 L753.7,112.6 L754.2,113.7 L754.6,114.9 L755.1,116.0 L755.5,117.2 L755.9,118.4 L756.2,119.6 L756.5,120.8 L756.8,122.0 L757.0,123.2 L757.2,124.4 L757.4,125.7 L757.5,126.9 L757.6,128.2Z" fill="none" stroke="#fbfbfd" stroke-width="1.0"/>
<text x="627.5" y="92.9" font-size="12.8" fill="#111" font-weight="normal" text-anchor="start" font-style="normal" stroke="#111" stroke-width="0.28" >CXCR3</text>
<g transform="translate(666,110.7) rotate(22)"><rect x="-11" y="-12.0" width="22" height="3.9" rx="1.95" fill="#8fd0e8" stroke="#3a93b2" stroke-width="0.85"/><path d="M-8.5,-10.1 H8.5" stroke="#e4f5fb" stroke-width="0.7"/><rect x="-11" y="-7.1" width="22" height="3.9" rx="1.95" fill="#8fd0e8" stroke="#3a93b2" stroke-width="0.85"/><path d="M-8.5,-5.2 H8.5" stroke="#e4f5fb" stroke-width="0.7"/><rect x="-11" y="-2.2" width="22" height="3.9" rx="1.95" fill="#8fd0e8" stroke="#3a93b2" stroke-width="0.85"/><path d="M-8.5,-0.2 H8.5" stroke="#e4f5fb" stroke-width="0.7"/><rect x="-11" y="2.7" width="22" height="3.9" rx="1.95" fill="#8fd0e8" stroke="#3a93b2" stroke-width="0.85"/><path d="M-8.5,4.7 H8.5" stroke="#e4f5fb" stroke-width="0.7"/><rect x="-11" y="7.6" width="22" height="3.9" rx="1.95" fill="#8fd0e8" stroke="#3a93b2" stroke-width="0.85"/><path d="M-8.5,9.6 H8.5" stroke="#e4f5fb" stroke-width="0.7"/></g>
<path d="M656,118 Q652,122 648,118 Q644,113 640,116 Q637,119 635,114" fill="none" stroke="#3b98b6" stroke-width="0.9"/>
<path d="M677,101 Q680,104 682,100 Q683,97 685,99" fill="none" stroke="#3b98b6" stroke-width="0.8"/>
<path d="M647,146.7 H680.3 M647,155.3 H680.3" stroke="#34a89e" stroke-width="1.1"/>
<rect x="667.5" y="145" width="9" height="3.4" rx="1.7" fill="#5dd4c8" stroke="#2ba79c" stroke-width="0.6"/>
<rect x="667.5" y="153.6" width="9" height="3.4" rx="1.7" fill="#5dd4c8" stroke="#2ba79c" stroke-width="0.6"/>
<circle cx="647" cy="146.7" r="4.3" fill="#5dd4c8" stroke="#2ba79c" stroke-width="0.8"/>
<circle cx="647" cy="155.3" r="4.3" fill="#5dd4c8" stroke="#2ba79c" stroke-width="0.8"/>
<text x="633.3" y="174.5" font-size="12.3" fill="#111" font-weight="normal" text-anchor="start" font-style="normal" stroke="#111" stroke-width="0.28" >TIGIT</text>
<text x="681.8" y="194.8" font-size="17.5" font-weight="bold" fill="#3a85b6">CD4<tspan font-size="9" dy="-7">+</tspan><tspan dy="7">T</tspan></text>
<path d="M708.3,220 V253" stroke="#555" stroke-width="1.4"/>
<path d="M703.3,251 L713.3,251 L708.3,260.5 Z" fill="#555"/>
<path d="M622,246 Q650,262 672,284 L663,305 Q640,300 616,292 Z" fill="url(#ltacone)"/>
<path d="M759.0,317.2 L759.0,318.5 L759.0,319.8 L759.0,321.1 L758.9,322.3 L758.7,323.6 L758.6,324.9 L758.3,326.2 L758.1,327.4 L757.8,328.7 L757.5,329.9 L757.1,331.2 L756.7,332.4 L756.2,333.6 L755.7,334.8 L755.2,335.9 L754.7,337.1 L754.1,338.3 L753.4,339.4 L752.8,340.5 L752.1,341.6 L751.4,342.6 L750.6,343.7 L749.8,344.7 L749.0,345.7 L748.2,346.6 L747.4,347.6 L746.5,348.5 L745.6,349.4 L744.6,350.3 L743.7,351.1 L742.7,352.0 L741.7,352.8 L740.7,353.5 L739.7,354.3 L738.7,355.0 L737.6,355.7 L736.6,356.4 L735.5,357.0 L734.4,357.6 L733.3,358.2 L732.2,358.8 L731.0,359.4 L729.9,359.9 L728.7,360.4 L727.6,360.9 L726.4,361.3 L725.2,361.7 L724.0,362.1 L722.8,362.5 L721.6,362.8 L720.4,363.2 L719.2,363.5 L718.0,363.7 L716.7,364.0 L715.5,364.2 L714.2,364.4 L713.0,364.6 L711.7,364.7 L710.5,364.8 L709.2,364.9 L707.9,364.9 L706.7,364.9 L705.4,364.9 L704.1,364.9 L702.8,364.8 L701.5,364.7 L700.3,364.6 L699.0,364.4 L697.7,364.2 L696.5,364.0 L695.2,363.7 L693.9,363.4 L692.7,363.0 L691.5,362.7 L690.2,362.2 L689.0,361.8 L687.8,361.3 L686.6,360.8 L685.4,360.2 L684.3,359.6 L683.1,359.0 L682.0,358.4 L680.9,357.7 L679.8,356.9 L678.8,356.2 L677.7,355.4 L676.7,354.6 L675.8,353.7 L674.8,352.9 L673.9,351.9 L673.0,351.0 L672.1,350.1 L671.3,349.1 L670.5,348.1 L669.7,347.0 L668.9,346.0 L668.2,344.9 L667.6,343.8 L666.9,342.7 L666.3,341.6 L665.7,340.4 L665.2,339.3 L664.7,338.1 L664.2,336.9 L663.8,335.7 L663.4,334.5 L663.0,333.3 L662.7,332.1 L662.3,330.9 L662.1,329.6 L661.8,328.4 L661.6,327.1 L661.4,325.9 L661.3,324.7 L661.2,323.4 L661.1,322.2 L661.0,320.9 L661.0,319.7 L661.0,318.4 L661.0,317.2 L661.1,316.0 L661.2,314.7 L661.3,313.5 L661.4,312.3 L661.6,311.0 L661.8,309.8 L662.0,308.6 L662.2,307.4 L662.5,306.2 L662.8,305.0 L663.1,303.8 L663.5,302.6 L663.8,301.4 L664.2,300.2 L664.7,299.1 L665.1,297.9 L665.6,296.7 L666.1,295.6 L666.7,294.5 L667.2,293.4 L667.8,292.3 L668.4,291.2 L669.1,290.1 L669.8,289.0 L670.5,288.0 L671.2,286.9 L672.0,285.9 L672.7,284.9 L673.6,283.9 L674.4,283.0 L675.3,282.0 L676.2,281.1 L677.1,280.2 L678.1,279.4 L679.0,278.5 L680.0,277.7 L681.1,276.9 L682.1,276.2 L683.2,275.4 L684.3,274.8 L685.4,274.1 L686.5,273.5 L687.7,272.9 L688.9,272.3 L690.1,271.8 L691.3,271.3 L692.5,270.9 L693.8,270.4 L695.0,270.1 L696.3,269.7 L697.5,269.4 L698.8,269.2 L700.1,269.0 L701.4,268.8 L702.7,268.6 L704.0,268.5 L705.3,268.5 L706.6,268.4 L707.9,268.4 L709.2,268.5 L710.5,268.6 L711.8,268.7 L713.1,268.8 L714.3,269.0 L715.6,269.2 L716.9,269.5 L718.1,269.8 L719.4,270.1 L720.6,270.5 L721.8,270.8 L723.0,271.3 L724.2,271.7 L725.4,272.2 L726.6,272.7 L727.7,273.2 L728.9,273.7 L730.0,274.3 L731.1,274.9 L732.2,275.5 L733.3,276.2 L734.4,276.8 L735.4,277.5 L736.4,278.2 L737.4,279.0 L738.4,279.7 L739.4,280.5 L740.4,281.3 L741.3,282.1 L742.3,282.9 L743.2,283.8 L744.1,284.7 L744.9,285.5 L745.8,286.5 L746.6,287.4 L747.4,288.3 L748.2,289.3 L749.0,290.3 L749.7,291.3 L750.5,292.3 L751.2,293.4 L751.9,294.4 L752.5,295.5 L753.1,296.6 L753.7,297.7 L754.3,298.8 L754.9,300.0 L755.4,301.1 L755.9,302.3 L756.3,303.5 L756.7,304.7 L757.1,305.9 L757.5,307.1 L757.8,308.3 L758.1,309.6 L758.3,310.8 L758.5,312.1 L758.7,313.4 L758.9,314.6 L759.0,315.9Z" fill="#c2ebee"/>
<path d="M752,290 Q766,335 738,356 Q716,368 684,360 Q722,352 744,332 Q756,312 752,290Z" fill="#aee0e4"/>
<defs><clipPath id="tnuc"><ellipse cx="721" cy="325" rx="25" ry="22"/></clipPath></defs>
<ellipse cx="721" cy="325" rx="25" ry="22" fill="#6cd3da"/>
<g clip-path="url(#tnuc)"><path d="M750,312 Q748,342 728,350 Q708,356 690,340 L690,360 L760,360 Z" fill="#58c5cd"/></g>
<ellipse cx="692.5" cy="322" rx="8.5" ry="16" transform="rotate(18 692.5 322)" fill="#e4f8f8" opacity="0.8"/>
<ellipse cx="701" cy="296" rx="6.5" ry="5.5" transform="rotate(-25 701 296)" fill="#e4f8f8" opacity="0.9"/>
<path d="M759.0,317.2 L759.0,318.5 L759.0,319.8 L759.0,321.1 L758.9,322.3 L758.7,323.6 L758.6,324.9 L758.3,326.2 L758.1,327.4 L757.8,328.7 L757.5,329.9 L757.1,331.2 L756.7,332.4 L756.2,333.6 L755.7,334.8 L755.2,335.9 L754.7,337.1 L754.1,338.3 L753.4,339.4 L752.8,340.5 L752.1,341.6 L751.4,342.6 L750.6,343.7 L749.8,344.7 L749.0,345.7 L748.2,346.6 L747.4,347.6 L746.5,348.5 L745.6,349.4 L744.6,350.3 L743.7,351.1 L742.7,352.0 L741.7,352.8 L740.7,353.5 L739.7,354.3 L738.7,355.0 L737.6,355.7 L736.6,356.4 L735.5,357.0 L734.4,357.6 L733.3,358.2 L732.2,358.8 L731.0,359.4 L729.9,359.9 L728.7,360.4 L727.6,360.9 L726.4,361.3 L725.2,361.7 L724.0,362.1 L722.8,362.5 L721.6,362.8 L720.4,363.2 L719.2,363.5 L718.0,363.7 L716.7,364.0 L715.5,364.2 L714.2,364.4 L713.0,364.6 L711.7,364.7 L710.5,364.8 L709.2,364.9 L707.9,364.9 L706.7,364.9 L705.4,364.9 L704.1,364.9 L702.8,364.8 L701.5,364.7 L700.3,364.6 L699.0,364.4 L697.7,364.2 L696.5,364.0 L695.2,363.7 L693.9,363.4 L692.7,363.0 L691.5,362.7 L690.2,362.2 L689.0,361.8 L687.8,361.3 L686.6,360.8 L685.4,360.2 L684.3,359.6 L683.1,359.0 L682.0,358.4 L680.9,357.7 L679.8,356.9 L678.8,356.2 L677.7,355.4 L676.7,354.6 L675.8,353.7 L674.8,352.9 L673.9,351.9 L673.0,351.0 L672.1,350.1 L671.3,349.1 L670.5,348.1 L669.7,347.0 L668.9,346.0 L668.2,344.9 L667.6,343.8 L666.9,342.7 L666.3,341.6 L665.7,340.4 L665.2,339.3 L664.7,338.1 L664.2,336.9 L663.8,335.7 L663.4,334.5 L663.0,333.3 L662.7,332.1 L662.3,330.9 L662.1,329.6 L661.8,328.4 L661.6,327.1 L661.4,325.9 L661.3,324.7 L661.2,323.4 L661.1,322.2 L661.0,320.9 L661.0,319.7 L661.0,318.4 L661.0,317.2 L661.1,316.0 L661.2,314.7 L661.3,313.5 L661.4,312.3 L661.6,311.0 L661.8,309.8 L662.0,308.6 L662.2,307.4 L662.5,306.2 L662.8,305.0 L663.1,303.8 L663.5,302.6 L663.8,301.4 L664.2,300.2 L664.7,299.1 L665.1,297.9 L665.6,296.7 L666.1,295.6 L666.7,294.5 L667.2,293.4 L667.8,292.3 L668.4,291.2 L669.1,290.1 L669.8,289.0 L670.5,288.0 L671.2,286.9 L672.0,285.9 L672.7,284.9 L673.6,283.9 L674.4,283.0 L675.3,282.0 L676.2,281.1 L677.1,280.2 L678.1,279.4 L679.0,278.5 L680.0,277.7 L681.1,276.9 L682.1,276.2 L683.2,275.4 L684.3,274.8 L685.4,274.1 L686.5,273.5 L687.7,272.9 L688.9,272.3 L690.1,271.8 L691.3,271.3 L692.5,270.9 L693.8,270.4 L695.0,270.1 L696.3,269.7 L697.5,269.4 L698.8,269.2 L700.1,269.0 L701.4,268.8 L702.7,268.6 L704.0,268.5 L705.3,268.5 L706.6,268.4 L707.9,268.4 L709.2,268.5 L710.5,268.6 L711.8,268.7 L713.1,268.8 L714.3,269.0 L715.6,269.2 L716.9,269.5 L718.1,269.8 L719.4,270.1 L720.6,270.5 L721.8,270.8 L723.0,271.3 L724.2,271.7 L725.4,272.2 L726.6,272.7 L727.7,273.2 L728.9,273.7 L730.0,274.3 L731.1,274.9 L732.2,275.5 L733.3,276.2 L734.4,276.8 L735.4,277.5 L736.4,278.2 L737.4,279.0 L738.4,279.7 L739.4,280.5 L740.4,281.3 L741.3,282.1 L742.3,282.9 L743.2,283.8 L744.1,284.7 L744.9,285.5 L745.8,286.5 L746.6,287.4 L747.4,288.3 L748.2,289.3 L749.0,290.3 L749.7,291.3 L750.5,292.3 L751.2,293.4 L751.9,294.4 L752.5,295.5 L753.1,296.6 L753.7,297.7 L754.3,298.8 L754.9,300.0 L755.4,301.1 L755.9,302.3 L756.3,303.5 L756.7,304.7 L757.1,305.9 L757.5,307.1 L757.8,308.3 L758.1,309.6 L758.3,310.8 L758.5,312.1 L758.7,313.4 L758.9,314.6 L759.0,315.9Z" fill="none" stroke="#7a7a84" stroke-width="2.3"/>
<path d="M759.0,317.2 L759.0,318.5 L759.0,319.8 L759.0,321.1 L758.9,322.3 L758.7,323.6 L758.6,324.9 L758.3,326.2 L758.1,327.4 L757.8,328.7 L757.5,329.9 L757.1,331.2 L756.7,332.4 L756.2,333.6 L755.7,334.8 L755.2,335.9 L754.7,337.1 L754.1,338.3 L753.4,339.4 L752.8,340.5 L752.1,341.6 L751.4,342.6 L750.6,343.7 L749.8,344.7 L749.0,345.7 L748.2,346.6 L747.4,347.6 L746.5,348.5 L745.6,349.4 L744.6,350.3 L743.7,351.1 L742.7,352.0 L741.7,352.8 L740.7,353.5 L739.7,354.3 L738.7,355.0 L737.6,355.7 L736.6,356.4 L735.5,357.0 L734.4,357.6 L733.3,358.2 L732.2,358.8 L731.0,359.4 L729.9,359.9 L728.7,360.4 L727.6,360.9 L726.4,361.3 L725.2,361.7 L724.0,362.1 L722.8,362.5 L721.6,362.8 L720.4,363.2 L719.2,363.5 L718.0,363.7 L716.7,364.0 L715.5,364.2 L714.2,364.4 L713.0,364.6 L711.7,364.7 L710.5,364.8 L709.2,364.9 L707.9,364.9 L706.7,364.9 L705.4,364.9 L704.1,364.9 L702.8,364.8 L701.5,364.7 L700.3,364.6 L699.0,364.4 L697.7,364.2 L696.5,364.0 L695.2,363.7 L693.9,363.4 L692.7,363.0 L691.5,362.7 L690.2,362.2 L689.0,361.8 L687.8,361.3 L686.6,360.8 L685.4,360.2 L684.3,359.6 L683.1,359.0 L682.0,358.4 L680.9,357.7 L679.8,356.9 L678.8,356.2 L677.7,355.4 L676.7,354.6 L675.8,353.7 L674.8,352.9 L673.9,351.9 L673.0,351.0 L672.1,350.1 L671.3,349.1 L670.5,348.1 L669.7,347.0 L668.9,346.0 L668.2,344.9 L667.6,343.8 L666.9,342.7 L666.3,341.6 L665.7,340.4 L665.2,339.3 L664.7,338.1 L664.2,336.9 L663.8,335.7 L663.4,334.5 L663.0,333.3 L662.7,332.1 L662.3,330.9 L662.1,329.6 L661.8,328.4 L661.6,327.1 L661.4,325.9 L661.3,324.7 L661.2,323.4 L661.1,322.2 L661.0,320.9 L661.0,319.7 L661.0,318.4 L661.0,317.2 L661.1,316.0 L661.2,314.7 L661.3,313.5 L661.4,312.3 L661.6,311.0 L661.8,309.8 L662.0,308.6 L662.2,307.4 L662.5,306.2 L662.8,305.0 L663.1,303.8 L663.5,302.6 L663.8,301.4 L664.2,300.2 L664.7,299.1 L665.1,297.9 L665.6,296.7 L666.1,295.6 L666.7,294.5 L667.2,293.4 L667.8,292.3 L668.4,291.2 L669.1,290.1 L669.8,289.0 L670.5,288.0 L671.2,286.9 L672.0,285.9 L672.7,284.9 L673.6,283.9 L674.4,283.0 L675.3,282.0 L676.2,281.1 L677.1,280.2 L678.1,279.4 L679.0,278.5 L680.0,277.7 L681.1,276.9 L682.1,276.2 L683.2,275.4 L684.3,274.8 L685.4,274.1 L686.5,273.5 L687.7,272.9 L688.9,272.3 L690.1,271.8 L691.3,271.3 L692.5,270.9 L693.8,270.4 L695.0,270.1 L696.3,269.7 L697.5,269.4 L698.8,269.2 L700.1,269.0 L701.4,268.8 L702.7,268.6 L704.0,268.5 L705.3,268.5 L706.6,268.4 L707.9,268.4 L709.2,268.5 L710.5,268.6 L711.8,268.7 L713.1,268.8 L714.3,269.0 L715.6,269.2 L716.9,269.5 L718.1,269.8 L719.4,270.1 L720.6,270.5 L721.8,270.8 L723.0,271.3 L724.2,271.7 L725.4,272.2 L726.6,272.7 L727.7,273.2 L728.9,273.7 L730.0,274.3 L731.1,274.9 L732.2,275.5 L733.3,276.2 L734.4,276.8 L735.4,277.5 L736.4,278.2 L737.4,279.0 L738.4,279.7 L739.4,280.5 L740.4,281.3 L741.3,282.1 L742.3,282.9 L743.2,283.8 L744.1,284.7 L744.9,285.5 L745.8,286.5 L746.6,287.4 L747.4,288.3 L748.2,289.3 L749.0,290.3 L749.7,291.3 L750.5,292.3 L751.2,293.4 L751.9,294.4 L752.5,295.5 L753.1,296.6 L753.7,297.7 L754.3,298.8 L754.9,300.0 L755.4,301.1 L755.9,302.3 L756.3,303.5 L756.7,304.7 L757.1,305.9 L757.5,307.1 L757.8,308.3 L758.1,309.6 L758.3,310.8 L758.5,312.1 L758.7,313.4 L758.9,314.6 L759.0,315.9Z" fill="none" stroke="#fbfbfd" stroke-width="1.0"/>
<text x="689.3" y="383.3" font-size="17.4" fill="#3aa6ad" font-weight="bold" text-anchor="start" font-style="normal" stroke="#3aa6ad" stroke-width="0.28" >Treg</text>
<path d="M593.4,221.6 L593.6,222.7 L593.6,223.8 L593.6,224.9 L593.4,226.0 L593.1,227.1 L592.8,228.1 L592.4,229.1 L591.9,230.2 L591.3,231.1 L590.8,232.1 L590.2,233.1 L589.6,234.0 L589.1,234.9 L588.6,235.9 L588.2,236.8 L587.8,237.8 L587.4,238.8 L587.0,239.8 L586.7,240.8 L586.4,241.8 L586.0,242.9 L585.6,243.9 L585.1,244.9 L584.5,245.8 L583.9,246.7 L583.2,247.6 L582.4,248.4 L581.6,249.1 L580.7,249.8 L579.7,250.4 L578.7,250.9 L577.6,251.4 L576.5,251.8 L575.5,252.2 L574.4,252.6 L573.4,253.0 L572.4,253.5 L571.5,253.9 L570.5,254.4 L569.6,255.0 L568.7,255.6 L567.9,256.2 L567.0,256.8 L566.1,257.5 L565.2,258.1 L564.3,258.7 L563.4,259.3 L562.4,259.8 L561.3,260.3 L560.3,260.7 L559.2,261.0 L558.1,261.1 L557.0,261.2 L555.9,261.3 L554.7,261.2 L553.6,261.1 L552.5,261.0 L551.4,260.8 L550.3,260.7 L549.2,260.5 L548.1,260.4 L547.0,260.4 L546.0,260.4 L544.9,260.4 L543.8,260.5 L542.7,260.6 L541.5,260.7 L540.4,260.8 L539.2,260.9 L538.0,261.0 L536.8,261.0 L535.7,260.9 L534.5,260.7 L533.4,260.5 L532.3,260.1 L531.2,259.7 L530.2,259.1 L529.3,258.5 L528.3,257.9 L527.5,257.1 L526.6,256.4 L525.8,255.6 L525.0,254.8 L524.2,254.1 L523.4,253.4 L522.5,252.7 L521.7,252.0 L520.8,251.3 L519.9,250.7 L519.0,250.1 L518.0,249.5 L517.1,248.9 L516.1,248.3 L515.2,247.6 L514.3,246.9 L513.5,246.1 L512.7,245.2 L512.1,244.3 L511.5,243.4 L511.0,242.4 L510.6,241.4 L510.3,240.3 L510.1,239.2 L509.9,238.1 L509.8,237.0 L509.7,235.9 L509.6,234.8 L509.6,233.8 L509.4,232.7 L509.3,231.7 L509.1,230.7 L508.8,229.7 L508.6,228.7 L508.2,227.7 L507.9,226.7 L507.5,225.7 L507.2,224.7 L506.9,223.7 L506.6,222.7 L506.4,221.6 L506.3,220.5 L506.3,219.5 L506.4,218.4 L506.6,217.4 L506.9,216.3 L507.3,215.3 L507.7,214.3 L508.2,213.4 L508.7,212.4 L509.2,211.5 L509.8,210.6 L510.3,209.7 L510.7,208.7 L511.1,207.8 L511.5,206.9 L511.8,205.9 L512.1,204.9 L512.4,203.9 L512.6,202.8 L512.8,201.8 L513.1,200.7 L513.4,199.7 L513.8,198.6 L514.2,197.6 L514.7,196.6 L515.3,195.7 L516.0,194.8 L516.7,194.0 L517.6,193.3 L518.5,192.6 L519.4,192.0 L520.4,191.4 L521.4,190.9 L522.4,190.3 L523.4,189.8 L524.4,189.3 L525.3,188.8 L526.2,188.2 L527.2,187.7 L528.1,187.0 L528.9,186.4 L529.8,185.7 L530.7,185.0 L531.6,184.3 L532.5,183.6 L533.5,183.0 L534.5,182.4 L535.5,181.8 L536.6,181.4 L537.7,181.0 L538.8,180.8 L540.0,180.6 L541.1,180.5 L542.3,180.6 L543.5,180.7 L544.7,180.8 L545.8,181.1 L547.0,181.3 L548.1,181.6 L549.2,181.8 L550.3,182.0 L551.4,182.2 L552.5,182.3 L553.6,182.4 L554.7,182.4 L555.8,182.5 L556.9,182.5 L558.0,182.5 L559.1,182.5 L560.3,182.6 L561.4,182.7 L562.5,182.9 L563.6,183.1 L564.7,183.5 L565.7,183.9 L566.7,184.5 L567.7,185.1 L568.6,185.7 L569.4,186.5 L570.2,187.2 L571.0,188.0 L571.8,188.8 L572.5,189.6 L573.2,190.4 L574.0,191.1 L574.8,191.8 L575.6,192.4 L576.4,193.0 L577.3,193.6 L578.2,194.2 L579.2,194.7 L580.1,195.3 L581.1,195.9 L582.1,196.5 L583.0,197.2 L583.8,197.9 L584.6,198.6 L585.4,199.4 L586.0,200.3 L586.6,201.2 L587.1,202.2 L587.5,203.2 L587.8,204.2 L588.1,205.3 L588.3,206.3 L588.5,207.4 L588.7,208.4 L588.9,209.4 L589.2,210.4 L589.5,211.4 L589.8,212.4 L590.2,213.4 L590.6,214.4 L591.0,215.3 L591.5,216.3 L591.9,217.4 L592.4,218.4 L592.8,219.4 L593.1,220.5Z" fill="#d6c9ef"/>
<path d="M522,200 Q536,188 548,196 Q530,205 528,225 Q526,240 534,252 Q518,244 516,225 Q516,210 522,200Z" fill="#e7dff6"/>
<path d="M548,190 Q566,186 574,196 Q562,194 552,200Z" fill="#e7dff6"/>
<ellipse cx="555" cy="228.5" rx="22.5" ry="22.5" fill="#bba5e3"/>
<path d="M537,240 Q548,254 566,249 Q575,244 577,234 Q574,252 556,253 Q542,252 537,240Z" fill="#ab93da"/>
<path d="M593.4,221.6 L593.6,222.7 L593.6,223.8 L593.6,224.9 L593.4,226.0 L593.1,227.1 L592.8,228.1 L592.4,229.1 L591.9,230.2 L591.3,231.1 L590.8,232.1 L590.2,233.1 L589.6,234.0 L589.1,234.9 L588.6,235.9 L588.2,236.8 L587.8,237.8 L587.4,238.8 L587.0,239.8 L586.7,240.8 L586.4,241.8 L586.0,242.9 L585.6,243.9 L585.1,244.9 L584.5,245.8 L583.9,246.7 L583.2,247.6 L582.4,248.4 L581.6,249.1 L580.7,249.8 L579.7,250.4 L578.7,250.9 L577.6,251.4 L576.5,251.8 L575.5,252.2 L574.4,252.6 L573.4,253.0 L572.4,253.5 L571.5,253.9 L570.5,254.4 L569.6,255.0 L568.7,255.6 L567.9,256.2 L567.0,256.8 L566.1,257.5 L565.2,258.1 L564.3,258.7 L563.4,259.3 L562.4,259.8 L561.3,260.3 L560.3,260.7 L559.2,261.0 L558.1,261.1 L557.0,261.2 L555.9,261.3 L554.7,261.2 L553.6,261.1 L552.5,261.0 L551.4,260.8 L550.3,260.7 L549.2,260.5 L548.1,260.4 L547.0,260.4 L546.0,260.4 L544.9,260.4 L543.8,260.5 L542.7,260.6 L541.5,260.7 L540.4,260.8 L539.2,260.9 L538.0,261.0 L536.8,261.0 L535.7,260.9 L534.5,260.7 L533.4,260.5 L532.3,260.1 L531.2,259.7 L530.2,259.1 L529.3,258.5 L528.3,257.9 L527.5,257.1 L526.6,256.4 L525.8,255.6 L525.0,254.8 L524.2,254.1 L523.4,253.4 L522.5,252.7 L521.7,252.0 L520.8,251.3 L519.9,250.7 L519.0,250.1 L518.0,249.5 L517.1,248.9 L516.1,248.3 L515.2,247.6 L514.3,246.9 L513.5,246.1 L512.7,245.2 L512.1,244.3 L511.5,243.4 L511.0,242.4 L510.6,241.4 L510.3,240.3 L510.1,239.2 L509.9,238.1 L509.8,237.0 L509.7,235.9 L509.6,234.8 L509.6,233.8 L509.4,232.7 L509.3,231.7 L509.1,230.7 L508.8,229.7 L508.6,228.7 L508.2,227.7 L507.9,226.7 L507.5,225.7 L507.2,224.7 L506.9,223.7 L506.6,222.7 L506.4,221.6 L506.3,220.5 L506.3,219.5 L506.4,218.4 L506.6,217.4 L506.9,216.3 L507.3,215.3 L507.7,214.3 L508.2,213.4 L508.7,212.4 L509.2,211.5 L509.8,210.6 L510.3,209.7 L510.7,208.7 L511.1,207.8 L511.5,206.9 L511.8,205.9 L512.1,204.9 L512.4,203.9 L512.6,202.8 L512.8,201.8 L513.1,200.7 L513.4,199.7 L513.8,198.6 L514.2,197.6 L514.7,196.6 L515.3,195.7 L516.0,194.8 L516.7,194.0 L517.6,193.3 L518.5,192.6 L519.4,192.0 L520.4,191.4 L521.4,190.9 L522.4,190.3 L523.4,189.8 L524.4,189.3 L525.3,188.8 L526.2,188.2 L527.2,187.7 L528.1,187.0 L528.9,186.4 L529.8,185.7 L530.7,185.0 L531.6,184.3 L532.5,183.6 L533.5,183.0 L534.5,182.4 L535.5,181.8 L536.6,181.4 L537.7,181.0 L538.8,180.8 L540.0,180.6 L541.1,180.5 L542.3,180.6 L543.5,180.7 L544.7,180.8 L545.8,181.1 L547.0,181.3 L548.1,181.6 L549.2,181.8 L550.3,182.0 L551.4,182.2 L552.5,182.3 L553.6,182.4 L554.7,182.4 L555.8,182.5 L556.9,182.5 L558.0,182.5 L559.1,182.5 L560.3,182.6 L561.4,182.7 L562.5,182.9 L563.6,183.1 L564.7,183.5 L565.7,183.9 L566.7,184.5 L567.7,185.1 L568.6,185.7 L569.4,186.5 L570.2,187.2 L571.0,188.0 L571.8,188.8 L572.5,189.6 L573.2,190.4 L574.0,191.1 L574.8,191.8 L575.6,192.4 L576.4,193.0 L577.3,193.6 L578.2,194.2 L579.2,194.7 L580.1,195.3 L581.1,195.9 L582.1,196.5 L583.0,197.2 L583.8,197.9 L584.6,198.6 L585.4,199.4 L586.0,200.3 L586.6,201.2 L587.1,202.2 L587.5,203.2 L587.8,204.2 L588.1,205.3 L588.3,206.3 L588.5,207.4 L588.7,208.4 L588.9,209.4 L589.2,210.4 L589.5,211.4 L589.8,212.4 L590.2,213.4 L590.6,214.4 L591.0,215.3 L591.5,216.3 L591.9,217.4 L592.4,218.4 L592.8,219.4 L593.1,220.5Z" fill="none" stroke="#7a7a84" stroke-width="2.3"/>
<path d="M593.4,221.6 L593.6,222.7 L593.6,223.8 L593.6,224.9 L593.4,226.0 L593.1,227.1 L592.8,228.1 L592.4,229.1 L591.9,230.2 L591.3,231.1 L590.8,232.1 L590.2,233.1 L589.6,234.0 L589.1,234.9 L588.6,235.9 L588.2,236.8 L587.8,237.8 L587.4,238.8 L587.0,239.8 L586.7,240.8 L586.4,241.8 L586.0,242.9 L585.6,243.9 L585.1,244.9 L584.5,245.8 L583.9,246.7 L583.2,247.6 L582.4,248.4 L581.6,249.1 L580.7,249.8 L579.7,250.4 L578.7,250.9 L577.6,251.4 L576.5,251.8 L575.5,252.2 L574.4,252.6 L573.4,253.0 L572.4,253.5 L571.5,253.9 L570.5,254.4 L569.6,255.0 L568.7,255.6 L567.9,256.2 L567.0,256.8 L566.1,257.5 L565.2,258.1 L564.3,258.7 L563.4,259.3 L562.4,259.8 L561.3,260.3 L560.3,260.7 L559.2,261.0 L558.1,261.1 L557.0,261.2 L555.9,261.3 L554.7,261.2 L553.6,261.1 L552.5,261.0 L551.4,260.8 L550.3,260.7 L549.2,260.5 L548.1,260.4 L547.0,260.4 L546.0,260.4 L544.9,260.4 L543.8,260.5 L542.7,260.6 L541.5,260.7 L540.4,260.8 L539.2,260.9 L538.0,261.0 L536.8,261.0 L535.7,260.9 L534.5,260.7 L533.4,260.5 L532.3,260.1 L531.2,259.7 L530.2,259.1 L529.3,258.5 L528.3,257.9 L527.5,257.1 L526.6,256.4 L525.8,255.6 L525.0,254.8 L524.2,254.1 L523.4,253.4 L522.5,252.7 L521.7,252.0 L520.8,251.3 L519.9,250.7 L519.0,250.1 L518.0,249.5 L517.1,248.9 L516.1,248.3 L515.2,247.6 L514.3,246.9 L513.5,246.1 L512.7,245.2 L512.1,244.3 L511.5,243.4 L511.0,242.4 L510.6,241.4 L510.3,240.3 L510.1,239.2 L509.9,238.1 L509.8,237.0 L509.7,235.9 L509.6,234.8 L509.6,233.8 L509.4,232.7 L509.3,231.7 L509.1,230.7 L508.8,229.7 L508.6,228.7 L508.2,227.7 L507.9,226.7 L507.5,225.7 L507.2,224.7 L506.9,223.7 L506.6,222.7 L506.4,221.6 L506.3,220.5 L506.3,219.5 L506.4,218.4 L506.6,217.4 L506.9,216.3 L507.3,215.3 L507.7,214.3 L508.2,213.4 L508.7,212.4 L509.2,211.5 L509.8,210.6 L510.3,209.7 L510.7,208.7 L511.1,207.8 L511.5,206.9 L511.8,205.9 L512.1,204.9 L512.4,203.9 L512.6,202.8 L512.8,201.8 L513.1,200.7 L513.4,199.7 L513.8,198.6 L514.2,197.6 L514.7,196.6 L515.3,195.7 L516.0,194.8 L516.7,194.0 L517.6,193.3 L518.5,192.6 L519.4,192.0 L520.4,191.4 L521.4,190.9 L522.4,190.3 L523.4,189.8 L524.4,189.3 L525.3,188.8 L526.2,188.2 L527.2,187.7 L528.1,187.0 L528.9,186.4 L529.8,185.7 L530.7,185.0 L531.6,184.3 L532.5,183.6 L533.5,183.0 L534.5,182.4 L535.5,181.8 L536.6,181.4 L537.7,181.0 L538.8,180.8 L540.0,180.6 L541.1,180.5 L542.3,180.6 L543.5,180.7 L544.7,180.8 L545.8,181.1 L547.0,181.3 L548.1,181.6 L549.2,181.8 L550.3,182.0 L551.4,182.2 L552.5,182.3 L553.6,182.4 L554.7,182.4 L555.8,182.5 L556.9,182.5 L558.0,182.5 L559.1,182.5 L560.3,182.6 L561.4,182.7 L562.5,182.9 L563.6,183.1 L564.7,183.5 L565.7,183.9 L566.7,184.5 L567.7,185.1 L568.6,185.7 L569.4,186.5 L570.2,187.2 L571.0,188.0 L571.8,188.8 L572.5,189.6 L573.2,190.4 L574.0,191.1 L574.8,191.8 L575.6,192.4 L576.4,193.0 L577.3,193.6 L578.2,194.2 L579.2,194.7 L580.1,195.3 L581.1,195.9 L582.1,196.5 L583.0,197.2 L583.8,197.9 L584.6,198.6 L585.4,199.4 L586.0,200.3 L586.6,201.2 L587.1,202.2 L587.5,203.2 L587.8,204.2 L588.1,205.3 L588.3,206.3 L588.5,207.4 L588.7,208.4 L588.9,209.4 L589.2,210.4 L589.5,211.4 L589.8,212.4 L590.2,213.4 L590.6,214.4 L591.0,215.3 L591.5,216.3 L591.9,217.4 L592.4,218.4 L592.8,219.4 L593.1,220.5Z" fill="none" stroke="#fbfbfd" stroke-width="1.0"/>
<path d="M581.7,213 H606 M581.7,218.3 H606" stroke="#7a5aa8" stroke-width="1.3"/>
<circle cx="607.5" cy="211.5" r="2.2" fill="#c872e2" stroke="#9a4cc0" stroke-width="0.7"/>
<circle cx="612" cy="208.5" r="2.7" fill="#c872e2" stroke="#9a4cc0" stroke-width="0.7"/>
<circle cx="619" cy="205.5" r="3.4" fill="#c872e2" stroke="#9a4cc0" stroke-width="0.7"/>
<circle cx="607.5" cy="220" r="2.2" fill="#c872e2" stroke="#9a4cc0" stroke-width="0.7"/>
<circle cx="612" cy="223" r="2.7" fill="#c872e2" stroke="#9a4cc0" stroke-width="0.7"/>
<circle cx="619" cy="225" r="3.4" fill="#c872e2" stroke="#9a4cc0" stroke-width="0.7"/>
<text x="605" y="200.8" font-size="12.9" fill="#111" font-weight="normal" text-anchor="start" font-style="normal" stroke="#111" stroke-width="0.28" >PVR</text>
<path d="M572.5,225.8 L610,262.5 M566.7,230.8 L605,268.3" stroke="#5a45a0" stroke-width="1.1"/>
<ellipse cx="578.5" cy="231.5" rx="4.6" ry="2" transform="rotate(44 578.5 231.5)" fill="#8a66d8" stroke="#5e3fa8" stroke-width="0.6"/>
<ellipse cx="572.8" cy="236.8" rx="4.6" ry="2" transform="rotate(44 572.8 236.8)" fill="#8a66d8" stroke="#5e3fa8" stroke-width="0.6"/>
<ellipse cx="597" cy="248.5" rx="3.3" ry="3" fill="#8a63d8" stroke="#5e3fa8" stroke-width="0.7"/>
<ellipse cx="603" cy="255" rx="3.3" ry="3" fill="#8a63d8" stroke="#5e3fa8" stroke-width="0.7"/>
<ellipse cx="608.5" cy="261.5" rx="3.3" ry="3" fill="#8a63d8" stroke="#5e3fa8" stroke-width="0.7"/>
<ellipse cx="591.5" cy="253.5" rx="3.3" ry="3" fill="#8a63d8" stroke="#5e3fa8" stroke-width="0.7"/>
<ellipse cx="597.5" cy="260.5" rx="3.3" ry="3" fill="#8a63d8" stroke="#5e3fa8" stroke-width="0.7"/>
<ellipse cx="603.5" cy="267" rx="3.3" ry="3" fill="#8a63d8" stroke="#5e3fa8" stroke-width="0.7"/>
<text x="605" y="250.3" font-size="12.9" fill="#111" font-weight="normal" text-anchor="start" font-style="normal" stroke="#111" stroke-width="0.28" >LTBR</text>
<ellipse cx="612.5" cy="268.5" rx="3.4" ry="2.4" transform="rotate(20 612.5 268.5)" fill="#5ecfe6" stroke="#2aa0bf" stroke-width="0.7"/>
<ellipse cx="632.7" cy="270" rx="3.5" ry="2.3" transform="rotate(-10 632.7 270)" fill="#5ecfe6" stroke="#2aa0bf" stroke-width="0.7"/>
<ellipse cx="647.7" cy="265.3" rx="2.4" ry="3.8" transform="rotate(30 647.7 265.3)" fill="#5ecfe6" stroke="#2aa0bf" stroke-width="0.7"/>
<ellipse cx="653.3" cy="280.7" rx="3.7" ry="2.5" transform="rotate(-15 653.3 280.7)" fill="#5ecfe6" stroke="#2aa0bf" stroke-width="0.7"/>
<ellipse cx="639" cy="287.7" rx="3.5" ry="2.5" transform="rotate(15 639 287.7)" fill="#5ecfe6" stroke="#2aa0bf" stroke-width="0.7"/>
<ellipse cx="661" cy="286" rx="5" ry="3.2" transform="rotate(-25 661 286)" fill="#5ecfe6" stroke="#2aa0bf" stroke-width="0.7"/>
<text x="633.3" y="312.5" font-size="12.7" fill="#111" font-weight="normal" text-anchor="start" font-style="normal" stroke="#111" stroke-width="0.28" >LTA</text>
<path d="M625.3,297.3 Q612,293 608,283" fill="none" stroke="#555" stroke-width="1.1"/>
<path d="M605.3,276.5 L603,286 L611,284 Z" fill="#555"/>
<text x="521.3" y="286.7" font-size="17.5" font-weight="bold" fill="#7a3fa8">PLAC1<tspan font-size="9" dy="-7">+</tspan></text>
<text x="509" y="301.3" font-size="17.3" fill="#7a3fa8" font-weight="bold" text-anchor="start" font-style="normal" stroke="#7a3fa8" stroke-width="0.28" textLength="89.5" lengthAdjust="spacingAndGlyphs">Tumor cell</text>
<rect x="758" y="436" width="7" height="93" fill="#f9efec"/>
<rect x="265" y="430" width="495" height="99.5" rx="6" fill="#f7ebe5"/>
<defs><clipPath id="pclip"><rect x="0" y="0" width="116.4" height="86.5" rx="8"/></clipPath><g id="tissue"><g clip-path="url(#pclip)"><rect x="0" y="0" width="116.4" height="86.5" fill="#f9ece5"/><path d="M12.5,64.4 q11.7,2.1 29.4,-7.0 M-18.2,78.6 q10.6,-5.3 34.9,-0.5 M94.1,61.1 q14.4,-7.0 29.5,5.9 M51.4,74.0 q14.7,-8.7 31.4,1.5 M21.1,39.5 q16.7,-0.5 30.8,6.1 M77.4,82.7 q11.9,6.0 26.7,7.0 M99.9,42.7 q9.4,-5.7 34.5,-1.0 M65.5,52.6 q13.1,-2.3 25.3,1.4 M59.7,81.9 q14.8,8.6 32.8,7.9 M71.6,45.9 q16.6,9.3 33.6,1.1 M77.4,48.2 q16.3,1.5 24.3,-7.0 M96.5,86.0 q8.9,6.0 26.2,-5.6 M20.1,75.3 q16.7,-9.1 29.2,-7.3 M78.0,54.1 q16.8,9.6 27.6,8.0 M22.2,41.7 q14.0,-9.4 23.0,-1.5 M63.3,45.6 q8.4,7.4 24.7,7.3 M102.3,56.3 q12.6,0.4 29.7,1.5 M56.3,68.1 q17.4,0.1 26.5,3.5 M12.4,52.6 q17.8,0.4 28.2,-7.8 M36.6,66.1 q8.2,2.3 29.5,-7.0 M65.6,60.6 q14.8,-2.9 30.6,3.8 M-17.0,40.9 q14.8,9.3 23.8,-0.7 M60.8,53.5 q11.6,-3.7 25.5,1.5 M21.0,56.3 q15.7,-9.5 28.5,3.8 M22.3,48.8 q16.0,-5.2 22.8,-1.0 M75.2,42.9 q11.2,-3.3 32.5,-1.0 M96.7,46.2 q11.4,3.0 33.3,-0.8 M10.7,43.9 q13.3,-6.2 32.1,5.4 M5.0,51.5 q16.1,2.8 32.1,-2.5 M-2.3,52.2 q15.9,-4.6 25.2,-1.3 M37.3,57.9 q17.2,-6.9 20.1,7.1 M100.0,85.9 q12.3,9.0 33.9,-4.4 M81.7,78.6 q14.6,0.4 24.3,-2.5 M11.0,41.3 q13.9,-4.3 32.2,-7.3 M103.3,71.6 q17.2,7.9 33.5,1.2 M-18.2,74.1 q9.7,-4.0 29.9,0.4 M36.4,83.5 q14.1,-3.2 23.8,5.8 M45.1,75.9 q11.5,-6.1 28.0,5.1 M3.4,76.4 q17.2,6.1 32.4,-7.9 M65.7,79.8 q8.5,-4.6 24.0,0.4 M37.7,60.9 q15.8,-10.0 20.8,-6.0 M-3.0,41.3 q17.7,7.1 21.3,0.0 M23.1,53.3 q11.5,2.9 28.8,-2.2 M6.1,53.9 q9.2,1.1 30.7,-1.9 M-9.1,46.7 q11.7,2.1 31.7,-1.9 M89.3,68.2 q12.3,-2.6 27.4,3.2 M37.4,71.7 q12.6,-5.1 28.0,3.1 M-10.2,58.6 q12.3,7.6 34.0,-2.0 M102.5,76.4 q10.6,-0.7 21.8,5.0 M70.3,81.0 q15.9,3.4 31.0,1.0 M-5.9,66.5 q8.0,-7.1 31.6,-7.3 M-7.5,42.8 q16.8,-6.4 20.4,5.5 M-3.5,78.9 q14.7,6.7 34.3,1.3 M88.9,39.8 q15.7,0.2 30.7,-6.3 M82.2,83.3 q8.6,-3.5 28.5,5.2 M13.0,46.7 q10.5,2.3 31.3,-1.7 M30.1,57.2 q11.5,-1.6 21.2,0.0 M112.7,58.0 q15.5,-6.8 30.4,4.1 M71.9,63.1 q12.8,2.9 33.5,-5.6 M-6.9,74.3 q17.2,0.3 26.6,3.5" fill="none" stroke="#efbfbd" stroke-width="0.5"/><path d="M10,62 Q17,59.4 20,59.8 Q24,59.4 30,62 Q23,64.6 20,64.2 Q16,64.6 10,62Z" fill="#ffffff" stroke="#bfb6b6" stroke-width="0.5"/><ellipse cx="20" cy="62" rx="2" ry="1" fill="#f0c4c4"/><path d="M52,66 Q59,63.4 62,63.8 Q66,63.4 72,66 Q65,68.6 62,68.2 Q58,68.6 52,66Z" fill="#ffffff" stroke="#bfb6b6" stroke-width="0.5"/><ellipse cx="62" cy="66" rx="2" ry="1" fill="#f0c4c4"/><path d="M88,60 Q95,57.4 98,57.8 Q102,57.4 108,60 Q101,62.6 98,62.2 Q94,62.6 88,60Z" fill="#ffffff" stroke="#bfb6b6" stroke-width="0.5"/><ellipse cx="98" cy="60" rx="2" ry="1" fill="#f0c4c4"/><path d="M25,77 Q32,74.4 35,74.8 Q39,74.4 45,77 Q38,79.6 35,79.2 Q31,79.6 25,77Z" fill="#ffffff" stroke="#bfb6b6" stroke-width="0.5"/><ellipse cx="35" cy="77" rx="2" ry="1" fill="#f0c4c4"/><path d="M70,79 Q77,76.4 80,76.8 Q84,76.4 90,79 Q83,81.6 80,81.2 Q76,81.6 70,79Z" fill="#ffffff" stroke="#bfb6b6" stroke-width="0.5"/><ellipse cx="80" cy="79" rx="2" ry="1" fill="#f0c4c4"/><path d="M98,76 Q105,73.4 108,73.8 Q112,73.4 118,76 Q111,78.6 108,78.2 Q104,78.6 98,76Z" fill="#ffffff" stroke="#bfb6b6" stroke-width="0.5"/><ellipse cx="108" cy="76" rx="2" ry="1" fill="#f0c4c4"/><path d="M0,52 Q7,49.4 10,49.8 Q14,49.4 20,52 Q13,54.6 10,54.2 Q6,54.6 0,52Z" fill="#ffffff" stroke="#bfb6b6" stroke-width="0.5"/><ellipse cx="10" cy="52" rx="2" ry="1" fill="#f0c4c4"/><path d="M0.0,11.2 L116.4,11.2 L116.4,39.5 L114.4,39.7 L112.4,40.1 L110.4,40.8 L108.4,41.7 L106.4,42.6 L104.4,43.4 L102.4,44.0 L100.4,44.4 L98.4,44.5 L96.4,44.4 L94.4,44.2 L92.4,43.8 L90.4,43.3 L88.4,42.8 L86.4,42.3 L84.4,41.7 L82.4,41.1 L80.4,40.6 L78.4,40.2 L76.4,39.8 L74.4,39.6 L72.4,39.5 L70.4,39.5 L68.4,39.7 L66.4,40.0 L64.4,40.4 L62.4,40.9 L60.4,41.5 L58.4,42.2 L56.4,43.0 L54.4,43.8 L52.4,44.7 L50.4,45.6 L48.4,46.5 L46.4,47.4 L44.4,48.3 L42.4,49.1 L40.4,49.9 L38.4,50.5 L36.4,51.1 L34.4,51.7 L32.4,52.0 L30.4,52.3 L28.4,52.5 L26.4,52.5 L24.4,52.4 L22.4,52.1 L20.4,51.7 L18.4,51.1 L16.4,50.5 L14.4,49.8 L12.4,49.1 L10.4,48.4 L8.4,47.8 L6.4,47.3 L4.4,46.9 L2.4,46.6 L0.4,46.5 L0.0,46.5Z" fill="#efbfc5"/><g fill="#fae4e6" stroke="#e6aab2" stroke-width="0.6"><rect x="-5.3" y="11.9" width="8.3" height="5.6" rx="2.2"/><rect x="4.0" y="11.9" width="8.6" height="5.6" rx="2.2"/><rect x="13.3" y="11.9" width="8.3" height="5.6" rx="2.2"/><rect x="22.8" y="11.9" width="8.9" height="5.6" rx="2.2"/><rect x="31.6" y="11.9" width="8.7" height="5.6" rx="2.2"/><rect x="40.9" y="11.9" width="8.8" height="5.6" rx="2.2"/><rect x="50.3" y="11.9" width="8.3" height="5.6" rx="2.2"/><rect x="59.2" y="11.9" width="8.1" height="5.6" rx="2.2"/><rect x="68.6" y="11.9" width="8.4" height="5.6" rx="2.2"/><rect x="77.5" y="11.9" width="8.4" height="5.6" rx="2.2"/><rect x="86.9" y="11.9" width="8.7" height="5.6" rx="2.2"/><rect x="95.9" y="11.9" width="8.9" height="5.6" rx="2.2"/><rect x="105.4" y="11.9" width="8.6" height="5.6" rx="2.2"/><rect x="114.6" y="11.9" width="8.8" height="5.6" rx="2.2"/><rect x="-0.1" y="18.2" width="8.5" height="7.8" rx="2.2"/><rect x="8.8" y="18.2" width="8.7" height="7.8" rx="2.2"/><rect x="18.3" y="18.2" width="8.4" height="7.8" rx="2.2"/><rect x="27.4" y="18.2" width="8.9" height="7.8" rx="2.2"/><rect x="36.4" y="18.2" width="8.3" height="7.8" rx="2.2"/><rect x="45.4" y="18.2" width="8.7" height="7.8" rx="2.2"/><rect x="54.9" y="18.2" width="8.9" height="7.8" rx="2.2"/><rect x="64.3" y="18.2" width="8.3" height="7.8" rx="2.2"/><rect x="73.0" y="18.2" width="8.3" height="7.8" rx="2.2"/><rect x="82.1" y="18.2" width="8.7" height="7.8" rx="2.2"/><rect x="91.9" y="18.2" width="8.8" height="7.8" rx="2.2"/><rect x="100.6" y="18.2" width="8.8" height="7.8" rx="2.2"/><rect x="109.9" y="18.2" width="8.4" height="7.8" rx="2.2"/><rect x="119.4" y="18.2" width="8.2" height="7.8" rx="2.2"/><rect x="-5.3" y="26.7" width="8.8" height="8.0" rx="2.2"/><rect x="4.0" y="26.7" width="8.4" height="8.0" rx="2.2"/><rect x="13.5" y="26.7" width="8.6" height="8.0" rx="2.2"/><rect x="22.2" y="26.7" width="8.4" height="8.0" rx="2.2"/><rect x="31.7" y="26.7" width="8.5" height="8.0" rx="2.2"/><rect x="40.8" y="26.7" width="8.6" height="8.0" rx="2.2"/><rect x="50.6" y="26.7" width="8.4" height="8.0" rx="2.2"/><rect x="59.4" y="26.7" width="8.2" height="8.0" rx="2.2"/><rect x="68.4" y="26.7" width="8.6" height="8.0" rx="2.2"/><rect x="77.5" y="26.7" width="8.8" height="8.0" rx="2.2"/><rect x="87.3" y="26.7" width="8.2" height="8.0" rx="2.2"/><rect x="96.6" y="26.7" width="8.4" height="8.0" rx="2.2"/><rect x="105.6" y="26.7" width="8.7" height="8.0" rx="2.2"/><rect x="114.4" y="26.7" width="8.6" height="8.0" rx="2.2"/><rect x="-0.3" y="35.4" width="8.7" height="8.0" rx="2.2"/><rect x="8.6" y="35.4" width="8.7" height="8.0" rx="2.2"/><rect x="18.4" y="35.4" width="8.6" height="8.0" rx="2.2"/><rect x="27.2" y="35.4" width="8.2" height="8.0" rx="2.2"/><rect x="36.4" y="35.4" width="8.4" height="8.0" rx="2.2"/><rect x="45.8" y="35.4" width="8.6" height="8.0" rx="2.2"/><rect x="54.9" y="35.4" width="8.2" height="8.0" rx="2.2"/><rect x="82.1" y="35.4" width="8.8" height="8.0" rx="2.2"/><rect x="91.7" y="35.4" width="8.2" height="8.0" rx="2.2"/><rect x="101.1" y="35.4" width="8.2" height="8.0" rx="2.2"/><rect x="13.5" y="44.1" width="8.5" height="8.0" rx="2.2"/><rect x="22.4" y="44.1" width="8.2" height="8.0" rx="2.2"/><rect x="31.5" y="44.1" width="8.7" height="8.0" rx="2.2"/></g><g fill="#eaaab3"><ellipse cx="-0.9" cy="15.0" rx="1.9" ry="1.2"/><ellipse cx="8.4" cy="15.0" rx="1.9" ry="1.2"/><ellipse cx="17.7" cy="15.0" rx="1.9" ry="1.2"/><ellipse cx="27.2" cy="15.0" rx="1.9" ry="1.2"/><ellipse cx="36.0" cy="15.0" rx="1.9" ry="1.2"/><ellipse cx="45.3" cy="15.0" rx="1.9" ry="1.2"/><ellipse cx="54.7" cy="15.0" rx="1.9" ry="1.2"/><ellipse cx="63.6" cy="15.0" rx="1.9" ry="1.2"/><ellipse cx="73.0" cy="15.0" rx="1.9" ry="1.2"/><ellipse cx="81.9" cy="15.0" rx="1.9" ry="1.2"/><ellipse cx="91.3" cy="15.0" rx="1.9" ry="1.2"/><ellipse cx="100.3" cy="15.0" rx="1.9" ry="1.2"/><ellipse cx="109.8" cy="15.0" rx="1.9" ry="1.2"/><ellipse cx="119.0" cy="15.0" rx="1.9" ry="1.2"/><ellipse cx="4.3" cy="22.5" rx="1.9" ry="1.6"/><ellipse cx="13.2" cy="22.5" rx="1.9" ry="1.6"/><ellipse cx="22.7" cy="22.5" rx="1.9" ry="1.6"/><ellipse cx="31.8" cy="22.5" rx="1.9" ry="1.6"/><ellipse cx="40.8" cy="22.5" rx="1.9" ry="1.6"/><ellipse cx="49.8" cy="22.5" rx="1.9" ry="1.6"/><ellipse cx="59.3" cy="22.5" rx="1.9" ry="1.6"/><ellipse cx="68.7" cy="22.5" rx="1.9" ry="1.6"/><ellipse cx="77.4" cy="22.5" rx="1.9" ry="1.6"/><ellipse cx="86.5" cy="22.5" rx="1.9" ry="1.6"/><ellipse cx="96.3" cy="22.5" rx="1.9" ry="1.6"/><ellipse cx="105.0" cy="22.5" rx="1.9" ry="1.6"/><ellipse cx="114.3" cy="22.5" rx="1.9" ry="1.6"/><ellipse cx="123.8" cy="22.5" rx="1.9" ry="1.6"/><ellipse cx="-0.9" cy="31.1" rx="1.9" ry="1.6"/><ellipse cx="8.4" cy="31.1" rx="1.9" ry="1.6"/><ellipse cx="17.9" cy="31.1" rx="1.9" ry="1.6"/><ellipse cx="26.6" cy="31.1" rx="1.9" ry="1.6"/><ellipse cx="36.1" cy="31.1" rx="1.9" ry="1.6"/><ellipse cx="45.2" cy="31.1" rx="1.9" ry="1.6"/><ellipse cx="55.0" cy="31.1" rx="1.9" ry="1.6"/><ellipse cx="63.8" cy="31.1" rx="1.9" ry="1.6"/><ellipse cx="72.8" cy="31.1" rx="1.9" ry="1.6"/><ellipse cx="81.9" cy="31.1" rx="1.9" ry="1.6"/><ellipse cx="91.7" cy="31.1" rx="1.9" ry="1.6"/><ellipse cx="101.0" cy="31.1" rx="1.9" ry="1.6"/><ellipse cx="110.0" cy="31.1" rx="1.9" ry="1.6"/><ellipse cx="118.8" cy="31.1" rx="1.9" ry="1.6"/><ellipse cx="4.1" cy="39.8" rx="1.9" ry="1.6"/><ellipse cx="13.0" cy="39.8" rx="1.9" ry="1.6"/><ellipse cx="22.8" cy="39.8" rx="1.9" ry="1.6"/><ellipse cx="31.6" cy="39.8" rx="1.9" ry="1.6"/><ellipse cx="40.8" cy="39.8" rx="1.9" ry="1.6"/><ellipse cx="50.2" cy="39.8" rx="1.9" ry="1.6"/><ellipse cx="59.3" cy="39.8" rx="1.9" ry="1.6"/><ellipse cx="86.5" cy="39.8" rx="1.9" ry="1.6"/><ellipse cx="96.1" cy="39.8" rx="1.9" ry="1.6"/><ellipse cx="105.5" cy="39.8" rx="1.9" ry="1.6"/><ellipse cx="17.9" cy="48.5" rx="1.9" ry="1.6"/><ellipse cx="26.8" cy="48.5" rx="1.9" ry="1.6"/><ellipse cx="35.9" cy="48.5" rx="1.9" ry="1.6"/></g><rect x="0" y="0" width="116.4" height="3.6" fill="#ffffff"/><rect x="0" y="3.6" width="116.4" height="7.4" fill="#f3d6c2"/><path d="M83.3,5.2 q3.6,-0.2 11.5,0 M94.0,7.5 q4.8,-0.7 9.4,0 M18.5,6.6 q4.7,-0.6 8.5,0 M89.9,4.6 q5.4,0.8 12.7,0 M41.5,6.7 q4.7,0.3 12.9,0 M78.4,5.7 q5.6,-0.0 10.6,0 M83.2,4.5 q5.3,0.3 10.0,0 M58.6,6.3 q3.6,0.1 7.2,0 M55.8,7.1 q4.3,0.1 12.8,0 M103.3,5.0 q5.4,0.2 7.3,0 M38.7,5.4 q3.2,0.1 12.6,0 M34.2,8.0 q5.1,-0.7 12.1,0 M68.0,8.2 q5.1,0.5 9.1,0 M92.9,8.2 q5.6,-0.1 11.5,0 M53.9,4.9 q3.1,-0.8 8.2,0 M14.5,6.5 q5.1,0.1 9.5,0 M73.8,5.7 q4.4,0.5 9.4,0 M16.9,8.1 q5.2,-0.3 9.2,0 M59.3,6.9 q3.7,-1.0 8.3,0 M90.1,5.1 q4.4,-0.6 8.3,0 M15.7,6.1 q3.5,-0.9 7.7,0 M15.4,6.5 q3.2,-1.0 9.7,0 M44.5,7.3 q3.2,-0.2 9.4,0 M-1.8,8.4 q3.7,-0.8 9.8,0 M15.0,7.0 q4.0,-0.8 7.3,0 M83.3,5.6 q5.4,-0.1 12.6,0 M31.5,5.5 q3.8,0.6 10.8,0 M36.9,4.9 q5.0,0.9 10.6,0 M-4.6,4.6 q3.3,-0.7 7.2,0 M1.5,7.1 q5.7,-0.6 12.8,0 M52.9,7.7 q5.8,0.9 7.2,0 M32.0,6.9 q5.8,-0.8 8.8,0 M98.2,5.0 q4.2,-0.3 11.1,0 M107.7,5.2 q5.2,0.5 12.0,0" fill="none" stroke="#d7956f" stroke-width="0.65"/><g fill="#f9e6dc" stroke="#dfae92" stroke-width="0.45"><rect x="-2.0" y="8.3" width="7" height="2.7" rx="0.8"/><rect x="5.6" y="8.3" width="7" height="2.7" rx="0.8"/><rect x="13.2" y="8.3" width="7" height="2.7" rx="0.8"/><rect x="20.8" y="8.3" width="7" height="2.7" rx="0.8"/><rect x="28.4" y="8.3" width="7" height="2.7" rx="0.8"/><rect x="36.0" y="8.3" width="7" height="2.7" rx="0.8"/><rect x="43.6" y="8.3" width="7" height="2.7" rx="0.8"/><rect x="51.2" y="8.3" width="7" height="2.7" rx="0.8"/><rect x="58.8" y="8.3" width="7" height="2.7" rx="0.8"/><rect x="66.4" y="8.3" width="7" height="2.7" rx="0.8"/><rect x="74.0" y="8.3" width="7" height="2.7" rx="0.8"/><rect x="81.6" y="8.3" width="7" height="2.7" rx="0.8"/><rect x="89.2" y="8.3" width="7" height="2.7" rx="0.8"/><rect x="96.8" y="8.3" width="7" height="2.7" rx="0.8"/><rect x="104.4" y="8.3" width="7" height="2.7" rx="0.8"/><rect x="112.0" y="8.3" width="7" height="2.7" rx="0.8"/></g><g fill="#ee9dab" stroke="#d27e8e" stroke-width="0.6"><rect x="-2.4" y="-4.3" width="4.8" height="8.6" rx="2.1" transform="translate(0.5,44.5) rotate(1.2)"/><rect x="-2.4" y="-4.3" width="4.8" height="8.6" rx="2.1" transform="translate(6.1,45.2) rotate(12.8)"/><rect x="-2.4" y="-4.3" width="4.8" height="8.6" rx="2.1" transform="translate(11.7,46.9) rotate(18.8)"/><rect x="-2.4" y="-4.3" width="4.8" height="8.6" rx="2.1" transform="translate(17.3,48.8) rotate(17.5)"/><rect x="-2.4" y="-4.3" width="4.8" height="8.6" rx="2.1" transform="translate(22.9,50.2) rotate(9.1)"/><rect x="-2.4" y="-4.3" width="4.8" height="8.6" rx="2.1" transform="translate(28.5,50.5) rotate(-2.7)"/><rect x="-2.4" y="-4.3" width="4.8" height="8.6" rx="2.1" transform="translate(34.1,49.7) rotate(-12.2)"/><rect x="-2.4" y="-4.3" width="4.8" height="8.6" rx="2.1" transform="translate(39.7,48.1) rotate(-19.4)"/><rect x="-2.4" y="-4.3" width="4.8" height="8.6" rx="2.1" transform="translate(45.3,45.9) rotate(-23.5)"/><rect x="-2.4" y="-4.3" width="4.8" height="8.6" rx="2.1" transform="translate(50.9,43.4) rotate(-24.3)"/><rect x="-2.4" y="-4.3" width="4.8" height="8.6" rx="2.1" transform="translate(56.5,40.9) rotate(-21.8)"/><rect x="-2.4" y="-4.3" width="4.8" height="8.6" rx="2.1" transform="translate(62.1,39.0) rotate(-16.1)"/><rect x="-2.4" y="-4.3" width="4.8" height="8.6" rx="2.1" transform="translate(67.7,37.8) rotate(-7.6)"/><rect x="-2.4" y="-4.3" width="4.8" height="8.6" rx="2.1" transform="translate(73.3,37.5) rotate(2.5)"/><rect x="-2.4" y="-4.3" width="4.8" height="8.6" rx="2.1" transform="translate(78.9,38.3) rotate(11.8)"/><rect x="-2.4" y="-4.3" width="4.8" height="8.6" rx="2.1" transform="translate(84.5,39.7) rotate(16.1)"/><rect x="-2.4" y="-4.3" width="4.8" height="8.6" rx="2.1" transform="translate(90.1,41.3) rotate(14.0)"/><rect x="-2.4" y="-4.3" width="4.8" height="8.6" rx="2.1" transform="translate(95.7,42.3) rotate(6.2)"/><rect x="-2.4" y="-4.3" width="4.8" height="8.6" rx="2.1" transform="translate(101.3,42.3) rotate(-10.3)"/><rect x="-2.4" y="-4.3" width="4.8" height="8.6" rx="2.1" transform="translate(106.9,40.4) rotate(-24.0)"/><rect x="-2.4" y="-4.3" width="4.8" height="8.6" rx="2.1" transform="translate(112.5,38.1) rotate(-16.3)"/><rect x="-2.4" y="-4.3" width="4.8" height="8.6" rx="2.1" transform="translate(118.1,37.5) rotate(0.0)"/></g></g><rect x="0" y="0" width="116.4" height="86.5" rx="8" fill="none" stroke="#a95c63" stroke-width="1.9"/></g></defs>
<use href="#tissue" x="273.3" y="436.3"/>
<use href="#tissue" x="393.9" y="436.3"/>
<use href="#tissue" x="515.0" y="436.3"/>
<use href="#tissue" x="636.3" y="436.3"/>
<circle cx="424.5" cy="469.5" r="4.2" fill="#b29eec" stroke="#6a50bf" stroke-width="0.7"/><circle cx="423.7" cy="468.4" r="2.3" fill="#cdc0f5"/><circle cx="431.5" cy="466.0" r="4.3" fill="#b29eec" stroke="#6a50bf" stroke-width="0.7"/><circle cx="430.6" cy="464.9" r="2.4" fill="#cdc0f5"/><circle cx="438.5" cy="470.0" r="4.2" fill="#b29eec" stroke="#6a50bf" stroke-width="0.7"/><circle cx="437.7" cy="468.9" r="2.3" fill="#cdc0f5"/><circle cx="423.5" cy="477.0" r="4.2" fill="#b29eec" stroke="#6a50bf" stroke-width="0.7"/><circle cx="422.7" cy="475.9" r="2.3" fill="#cdc0f5"/><circle cx="437.5" cy="477.5" r="4.2" fill="#b29eec" stroke="#6a50bf" stroke-width="0.7"/><circle cx="436.7" cy="476.4" r="2.3" fill="#cdc0f5"/><circle cx="430.5" cy="481.5" r="4.2" fill="#b29eec" stroke="#6a50bf" stroke-width="0.7"/><circle cx="429.7" cy="480.4" r="2.3" fill="#cdc0f5"/><circle cx="431.0" cy="473.5" r="4.6" fill="#b29eec" stroke="#6a50bf" stroke-width="0.7"/><circle cx="430.1" cy="472.4" r="2.5" fill="#cdc0f5"/>
<circle cx="551.7" cy="475.8" r="4.2" fill="#b29eec" stroke="#6a50bf" stroke-width="0.7"/><circle cx="550.9" cy="474.7" r="2.3" fill="#cdc0f5"/><circle cx="558.0" cy="474.7" r="4.2" fill="#b29eec" stroke="#6a50bf" stroke-width="0.7"/><circle cx="557.2" cy="473.7" r="2.3" fill="#cdc0f5"/><circle cx="566.3" cy="475.5" r="4.2" fill="#b29eec" stroke="#6a50bf" stroke-width="0.7"/><circle cx="565.4" cy="474.5" r="2.3" fill="#cdc0f5"/><circle cx="555.1" cy="481.7" r="4.2" fill="#b29eec" stroke="#6a50bf" stroke-width="0.7"/><circle cx="554.2" cy="480.7" r="2.3" fill="#cdc0f5"/><circle cx="562.3" cy="482.1" r="4.2" fill="#b29eec" stroke="#6a50bf" stroke-width="0.7"/><circle cx="561.5" cy="481.0" r="2.3" fill="#cdc0f5"/><circle cx="569.6" cy="481.5" r="4.2" fill="#b29eec" stroke="#6a50bf" stroke-width="0.7"/><circle cx="568.8" cy="480.5" r="2.3" fill="#cdc0f5"/><circle cx="551.1" cy="488.5" r="4.2" fill="#b29eec" stroke="#6a50bf" stroke-width="0.7"/><circle cx="550.3" cy="487.5" r="2.3" fill="#cdc0f5"/><circle cx="558.8" cy="489.3" r="4.2" fill="#b29eec" stroke="#6a50bf" stroke-width="0.7"/><circle cx="558.0" cy="488.2" r="2.3" fill="#cdc0f5"/><circle cx="566.4" cy="488.7" r="4.2" fill="#b29eec" stroke="#6a50bf" stroke-width="0.7"/><circle cx="565.6" cy="487.7" r="2.3" fill="#cdc0f5"/><circle cx="562.1" cy="495.1" r="4.2" fill="#b29eec" stroke="#6a50bf" stroke-width="0.7"/><circle cx="561.3" cy="494.1" r="2.3" fill="#cdc0f5"/>
<circle cx="693.9" cy="464.6" r="4.1" fill="#b29eec" stroke="#6a50bf" stroke-width="0.7"/><circle cx="693.1" cy="463.6" r="2.3" fill="#cdc0f5"/><circle cx="701.3" cy="464.7" r="4.1" fill="#b29eec" stroke="#6a50bf" stroke-width="0.7"/><circle cx="700.5" cy="463.7" r="2.3" fill="#cdc0f5"/><circle cx="708.8" cy="464.0" r="4.1" fill="#b29eec" stroke="#6a50bf" stroke-width="0.7"/><circle cx="707.9" cy="463.0" r="2.3" fill="#cdc0f5"/><circle cx="690.1" cy="471.5" r="4.1" fill="#b29eec" stroke="#6a50bf" stroke-width="0.7"/><circle cx="689.3" cy="470.5" r="2.3" fill="#cdc0f5"/><circle cx="697.6" cy="470.8" r="4.1" fill="#b29eec" stroke="#6a50bf" stroke-width="0.7"/><circle cx="696.7" cy="469.8" r="2.3" fill="#cdc0f5"/><circle cx="705.6" cy="471.1" r="4.1" fill="#b29eec" stroke="#6a50bf" stroke-width="0.7"/><circle cx="704.8" cy="470.1" r="2.3" fill="#cdc0f5"/><circle cx="712.6" cy="471.1" r="4.1" fill="#b29eec" stroke="#6a50bf" stroke-width="0.7"/><circle cx="711.8" cy="470.1" r="2.3" fill="#cdc0f5"/><circle cx="687.3" cy="477.3" r="4.1" fill="#b29eec" stroke="#6a50bf" stroke-width="0.7"/><circle cx="686.4" cy="476.2" r="2.3" fill="#cdc0f5"/><circle cx="694.4" cy="478.1" r="4.1" fill="#b29eec" stroke="#6a50bf" stroke-width="0.7"/><circle cx="693.6" cy="477.1" r="2.3" fill="#cdc0f5"/><circle cx="701.5" cy="478.0" r="4.1" fill="#b29eec" stroke="#6a50bf" stroke-width="0.7"/><circle cx="700.6" cy="476.9" r="2.3" fill="#cdc0f5"/><circle cx="708.8" cy="477.2" r="4.1" fill="#b29eec" stroke="#6a50bf" stroke-width="0.7"/><circle cx="708.0" cy="476.1" r="2.3" fill="#cdc0f5"/><circle cx="716.1" cy="477.8" r="4.1" fill="#b29eec" stroke="#6a50bf" stroke-width="0.7"/><circle cx="715.3" cy="476.8" r="2.3" fill="#cdc0f5"/><circle cx="690.4" cy="483.7" r="4.1" fill="#b29eec" stroke="#6a50bf" stroke-width="0.7"/><circle cx="689.6" cy="482.7" r="2.3" fill="#cdc0f5"/><circle cx="698.3" cy="484.2" r="4.1" fill="#b29eec" stroke="#6a50bf" stroke-width="0.7"/><circle cx="697.5" cy="483.2" r="2.3" fill="#cdc0f5"/><circle cx="705.3" cy="484.7" r="4.1" fill="#b29eec" stroke="#6a50bf" stroke-width="0.7"/><circle cx="704.5" cy="483.7" r="2.3" fill="#cdc0f5"/><circle cx="712.5" cy="484.7" r="4.1" fill="#b29eec" stroke="#6a50bf" stroke-width="0.7"/><circle cx="711.6" cy="483.7" r="2.3" fill="#cdc0f5"/><circle cx="687.0" cy="491.2" r="4.1" fill="#b29eec" stroke="#6a50bf" stroke-width="0.7"/><circle cx="686.1" cy="490.1" r="2.3" fill="#cdc0f5"/><circle cx="694.2" cy="491.3" r="4.1" fill="#b29eec" stroke="#6a50bf" stroke-width="0.7"/><circle cx="693.4" cy="490.3" r="2.3" fill="#cdc0f5"/><circle cx="701.9" cy="490.3" r="4.1" fill="#b29eec" stroke="#6a50bf" stroke-width="0.7"/><circle cx="701.1" cy="489.3" r="2.3" fill="#cdc0f5"/><circle cx="708.2" cy="490.5" r="4.1" fill="#b29eec" stroke="#6a50bf" stroke-width="0.7"/><circle cx="707.4" cy="489.4" r="2.3" fill="#cdc0f5"/><circle cx="716.3" cy="490.7" r="4.1" fill="#b29eec" stroke="#6a50bf" stroke-width="0.7"/><circle cx="715.5" cy="489.7" r="2.3" fill="#cdc0f5"/><circle cx="698.0" cy="497.1" r="4.1" fill="#b29eec" stroke="#6a50bf" stroke-width="0.7"/><circle cx="697.2" cy="496.1" r="2.3" fill="#cdc0f5"/><circle cx="705.0" cy="497.2" r="4.1" fill="#b29eec" stroke="#6a50bf" stroke-width="0.7"/><circle cx="704.2" cy="496.2" r="2.3" fill="#cdc0f5"/>
<text x="358.75" y="412.5" font-size="15.43" fill="#111" font-weight="normal" text-anchor="start" font-style="normal" stroke="#111" stroke-width="0.28" >Pro-tumor signaling</text>
<text x="521" y="412.5" font-size="15.42" fill="#111" font-weight="normal" text-anchor="start" font-style="normal" stroke="#111" stroke-width="0.28" >Immunosuppressive TME</text>
<path d="M425.8,415 V423" stroke="#d9954a" stroke-width="2.2"/><path d="M421.3,422 L430.3,422 L425.8,429.5 Z" fill="#d9954a"/>
<path d="M608.8,415 V423" stroke="#d9954a" stroke-width="2.2"/><path d="M604.3,422 L613.3,422 L608.8,429.5 Z" fill="#d9954a"/>
<text x="437.5" y="529.5" font-size="15.4" fill="#111" font-weight="normal" text-anchor="start" font-style="normal" stroke="#111" stroke-width="0.28" >HNSCC progression</text>
<path d="M501.5,68 V379 Q501.5,385 495.5,385 H255" fill="none" stroke="#1a1a1a" stroke-width="1.8"/>
<rect x="253" y="68" width="2" height="466" fill="#222"/>
</svg></body></html>
